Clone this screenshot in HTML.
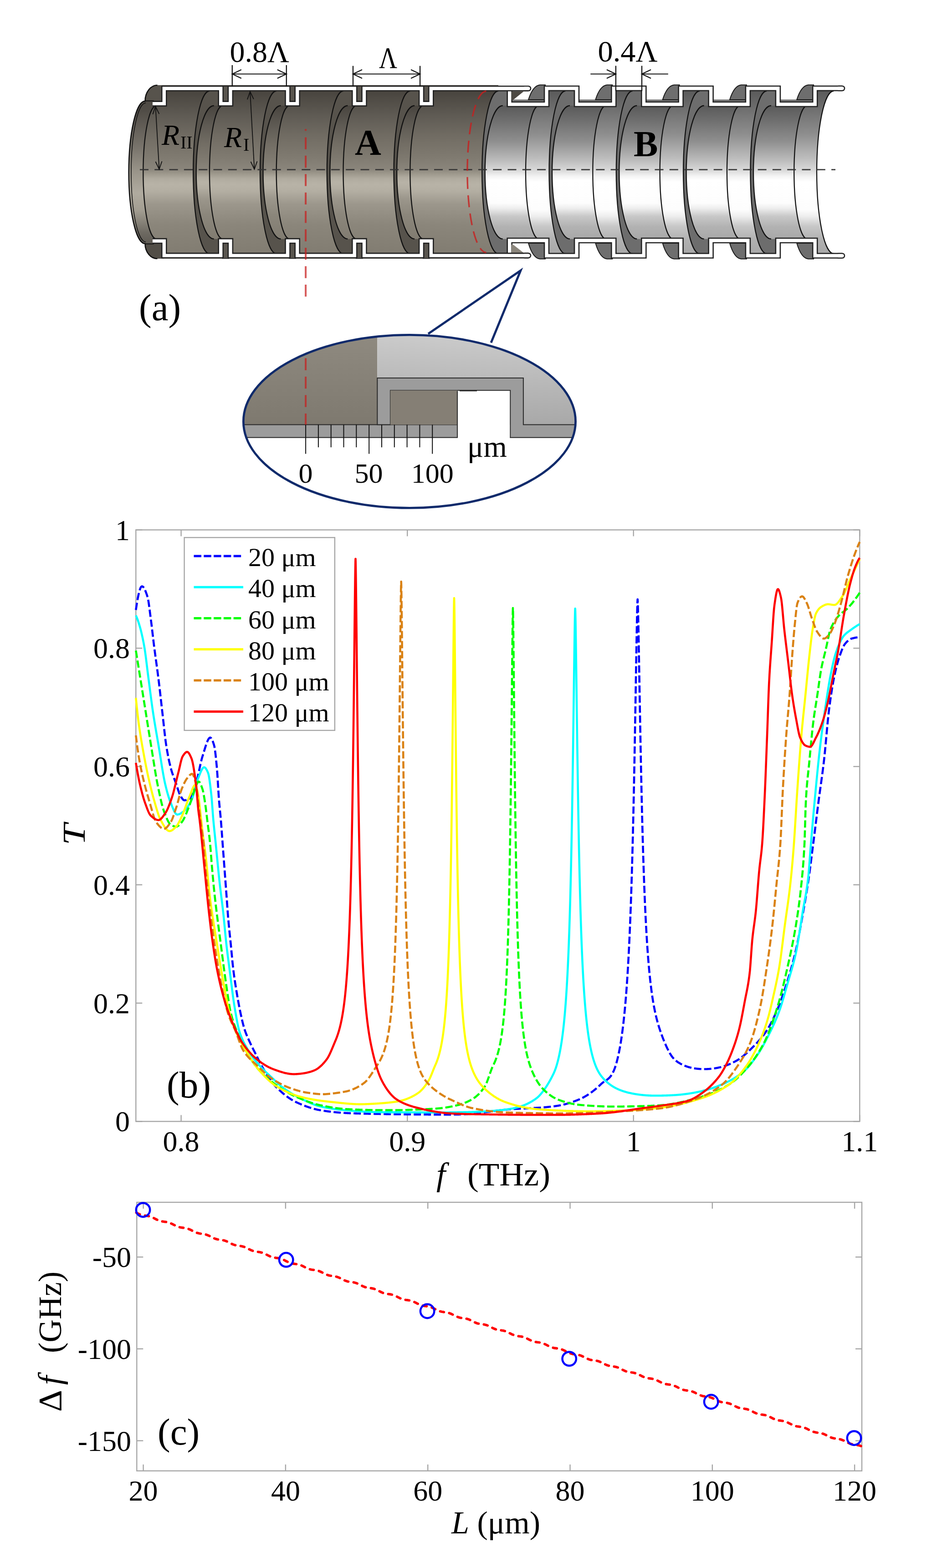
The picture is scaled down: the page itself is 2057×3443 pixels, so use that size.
<!DOCTYPE html>
<html><head><meta charset="utf-8"><style>html,body{margin:0;padding:0;background:#fff;overflow:hidden;}svg{display:block;}</style></head>
<body><svg width="2057" height="3443" viewBox="0 0 2057 3443" style="font-family:'Liberation Serif','Times New Roman',serif;">
<rect width="2057" height="3443" fill="#fff"/>
<defs><linearGradient id="gA" gradientUnits="userSpaceOnUse" x1="0" y1="199.75" x2="0" y2="556.95"><stop offset="0" stop-color="#48443e"/><stop offset="0.152" stop-color="#5f5b54"/><stop offset="0.278" stop-color="#716c63"/><stop offset="0.404" stop-color="#7f7a70"/><stop offset="0.48" stop-color="#8a857b"/><stop offset="0.505" stop-color="#9b968a"/><stop offset="0.538" stop-color="#b0ab9f"/><stop offset="0.575" stop-color="#b8b3a7"/><stop offset="0.617" stop-color="#b3aea2"/><stop offset="0.695" stop-color="#9c978c"/><stop offset="0.82" stop-color="#8b867b"/><stop offset="1" stop-color="#817c71"/></linearGradient>
<linearGradient id="gA2" gradientUnits="userSpaceOnUse" x1="0" y1="232" x2="0" y2="524.6"><stop offset="0" stop-color="#48443e"/><stop offset="0.152" stop-color="#5f5b54"/><stop offset="0.278" stop-color="#716c63"/><stop offset="0.404" stop-color="#7f7a70"/><stop offset="0.48" stop-color="#8a857b"/><stop offset="0.505" stop-color="#9b968a"/><stop offset="0.538" stop-color="#b0ab9f"/><stop offset="0.575" stop-color="#b8b3a7"/><stop offset="0.617" stop-color="#b3aea2"/><stop offset="0.695" stop-color="#9c978c"/><stop offset="0.82" stop-color="#8b867b"/><stop offset="1" stop-color="#817c71"/></linearGradient>
<linearGradient id="gB" gradientUnits="userSpaceOnUse" x1="0" y1="199.75" x2="0" y2="556.95"><stop offset="0" stop-color="#5a5a5a"/><stop offset="0.098" stop-color="#6c6c6c"/><stop offset="0.266" stop-color="#8e8e8e"/><stop offset="0.417" stop-color="#bebebe"/><stop offset="0.484" stop-color="#d8d8d8"/><stop offset="0.529" stop-color="#f4f4f4"/><stop offset="0.56" stop-color="#ffffff"/><stop offset="0.73" stop-color="#fdfdfd"/><stop offset="0.77" stop-color="#eeeeee"/><stop offset="0.83" stop-color="#c8c8c8"/><stop offset="0.908" stop-color="#b2b2b2"/><stop offset="1" stop-color="#a8a8a8"/></linearGradient>
<linearGradient id="gB2" gradientUnits="userSpaceOnUse" x1="0" y1="232" x2="0" y2="524.6"><stop offset="0" stop-color="#5a5a5a"/><stop offset="0.098" stop-color="#6c6c6c"/><stop offset="0.266" stop-color="#8e8e8e"/><stop offset="0.417" stop-color="#bebebe"/><stop offset="0.484" stop-color="#d8d8d8"/><stop offset="0.529" stop-color="#f4f4f4"/><stop offset="0.56" stop-color="#ffffff"/><stop offset="0.73" stop-color="#fdfdfd"/><stop offset="0.77" stop-color="#eeeeee"/><stop offset="0.83" stop-color="#c8c8c8"/><stop offset="0.908" stop-color="#b2b2b2"/><stop offset="1" stop-color="#a8a8a8"/></linearGradient>
<linearGradient id="gE" gradientUnits="userSpaceOnUse" x1="0" y1="187" x2="0" y2="568"><stop offset="0" stop-color="#4a4640"/><stop offset="0.15" stop-color="#514d47"/><stop offset="0.35" stop-color="#77726a"/><stop offset="0.5" stop-color="#9a958a"/><stop offset="0.62" stop-color="#b0ab9f"/><stop offset="0.72" stop-color="#a39e92"/><stop offset="0.85" stop-color="#6e6a62"/><stop offset="1" stop-color="#4a4640"/></linearGradient>
<clipPath id="bclip"><path d="M1000.00,194.00 L1118.70,194.00 L1118.70,229.00 L1200.00,229.00 L1200.00,194.00 L1266.00,194.00 L1266.00,229.00 L1347.30,229.00 L1347.30,194.00 L1413.30,194.00 L1413.30,229.00 L1494.60,229.00 L1494.60,194.00 L1560.60,194.00 L1560.60,229.00 L1641.90,229.00 L1641.90,194.00 L1707.90,194.00 L1707.90,229.00 L1789.20,229.00 L1789.20,194.00 L1860.00,194.00 L1860.00,561.50 L1789.20,561.50 L1789.20,528.00 L1707.90,528.00 L1707.90,561.50 L1641.90,561.50 L1641.90,528.00 L1560.60,528.00 L1560.60,561.50 L1494.60,561.50 L1494.60,528.00 L1413.30,528.00 L1413.30,561.50 L1347.30,561.50 L1347.30,528.00 L1266.00,528.00 L1266.00,561.50 L1200.00,561.50 L1200.00,528.00 L1118.70,528.00 L1118.70,561.50 L1000.00,561.50 Z"/></clipPath><clipPath id="ellc"><ellipse cx="898.95" cy="925.4" rx="364.6" ry="190"/></clipPath>
<linearGradient id="gIA" gradientUnits="userSpaceOnUse" x1="0" y1="735" x2="0" y2="933"><stop offset="0" stop-color="#8f8a80"/><stop offset="1" stop-color="#7e796f"/></linearGradient>
<linearGradient id="gIB" gradientUnits="userSpaceOnUse" x1="0" y1="735" x2="0" y2="933"><stop offset="0" stop-color="#cbcbcb"/><stop offset="1" stop-color="#a8a8a8"/></linearGradient></defs><path d="M345.5,187 L1094.00,187 L1094.00,199.75 A35.8,178.6 0 0 0 1094.00,556.95 L1094.00,568 L345.5,568 A27,33 0 0 1 318.5,535 A35.8,156.5 0 0 1 318.5,222 A27,35 0 0 1 345.5,187 Z" fill="url(#gA)"/>
<path d="M345.5,187 A27,35 0 0 0 318.5,222 A35.8,156.5 0 0 0 318.5,535 A27,33 0 0 0 345.5,568 L360.3,568 L360.3,524.60 L343.30,524.60 A29.0,146.3 0 0 1 343.30,232.00 L360.3,232.00 L360.3,187 Z" fill="url(#gE)"/>
<path d="M345.5,187 A27,35 0 0 0 318.5,222 L356,222 L356,187 Z" fill="#57534c"/>
<path d="M345.5,568 A27,33 0 0 1 318.5,535 L356,535 L356,568 Z" fill="#524e47"/>
<path d="M460.00,199.75 A35.8,178.6 0 0 0 460.00,556.95 L484.70,556.95 L484.70,524.60 L469.70,524.60 A39.0,146.3 0 0 1 469.70,232.00 L484.70,232.00 L484.70,199.75 Z" fill="#57534c"/>
<path d="M469.70,232.00 A39.0,146.3 0 0 0 469.70,524.60 L488.90,524.60 A29.0,146.3 0 0 1 488.90,232.00 Z" fill="url(#gA2)"/>
<path d="M606.80,199.75 A35.8,178.6 0 0 0 606.80,556.95 L631.50,556.95 L631.50,524.60 L616.50,524.60 A39.0,146.3 0 0 1 616.50,232.00 L631.50,232.00 L631.50,199.75 Z" fill="#57534c"/>
<path d="M616.50,232.00 A39.0,146.3 0 0 0 616.50,524.60 L635.70,524.60 A29.0,146.3 0 0 1 635.70,232.00 Z" fill="url(#gA2)"/>
<path d="M753.60,199.75 A35.8,178.6 0 0 0 753.60,556.95 L778.30,556.95 L778.30,524.60 L763.30,524.60 A39.0,146.3 0 0 1 763.30,232.00 L778.30,232.00 L778.30,199.75 Z" fill="#57534c"/>
<path d="M763.30,232.00 A39.0,146.3 0 0 0 763.30,524.60 L782.50,524.60 A29.0,146.3 0 0 1 782.50,232.00 Z" fill="url(#gA2)"/>
<path d="M900.40,199.75 A35.8,178.6 0 0 0 900.40,556.95 L925.10,556.95 L925.10,524.60 L910.10,524.60 A39.0,146.3 0 0 1 910.10,232.00 L925.10,232.00 L925.10,199.75 Z" fill="#57534c"/>
<path d="M910.10,232.00 A39.0,146.3 0 0 0 910.10,524.60 L929.30,524.60 A29.0,146.3 0 0 1 929.30,232.00 Z" fill="url(#gA2)"/>
<path d="M460.00,199.75 A35.80,178.60 0 0 0 460.00,556.95" fill="none" stroke="#111" stroke-width="2.3"/>
<path d="M469.70,232.00 A39.00,146.30 0 0 0 469.70,524.60" fill="none" stroke="#111" stroke-width="2.3"/>
<path d="M488.90,232.00 A29.00,146.30 0 0 0 488.90,524.60" fill="none" stroke="#111" stroke-width="2.3"/>
<path d="M606.80,199.75 A35.80,178.60 0 0 0 606.80,556.95" fill="none" stroke="#111" stroke-width="2.3"/>
<path d="M616.50,232.00 A39.00,146.30 0 0 0 616.50,524.60" fill="none" stroke="#111" stroke-width="2.3"/>
<path d="M635.70,232.00 A29.00,146.30 0 0 0 635.70,524.60" fill="none" stroke="#111" stroke-width="2.3"/>
<path d="M753.60,199.75 A35.80,178.60 0 0 0 753.60,556.95" fill="none" stroke="#111" stroke-width="2.3"/>
<path d="M763.30,232.00 A39.00,146.30 0 0 0 763.30,524.60" fill="none" stroke="#111" stroke-width="2.3"/>
<path d="M782.50,232.00 A29.00,146.30 0 0 0 782.50,524.60" fill="none" stroke="#111" stroke-width="2.3"/>
<path d="M900.40,199.75 A35.80,178.60 0 0 0 900.40,556.95" fill="none" stroke="#111" stroke-width="2.3"/>
<path d="M910.10,232.00 A39.00,146.30 0 0 0 910.10,524.60" fill="none" stroke="#111" stroke-width="2.3"/>
<path d="M929.30,232.00 A29.00,146.30 0 0 0 929.30,524.60" fill="none" stroke="#111" stroke-width="2.3"/>
<path d="M343.30,232.00 A29.00,146.30 0 0 0 343.30,524.60" fill="none" stroke="#111" stroke-width="2.3"/>
<path d="M345.5,187 A27,35 0 0 0 318.5,222 A35.8,156.5 0 0 0 318.5,535 A27,33 0 0 0 345.5,568" fill="none" stroke="#111" stroke-width="2.6"/>
<path d="M320,226 A32,152.5 0 0 0 320,531" fill="none" stroke="#111" stroke-width="1.6"/>
<path d="M318.5,221.5 L338,221.5 M318.5,535.5 L338,535.5" fill="none" stroke="#111" stroke-width="2"/>
<g clip-path="url(#bclip)">
<path d="M1094.00,199.75 A35.8,178.6 0 0 0 1094.00,556.95 L1830.20,556.95 A37.2,178.6 0 0 1 1830.20,199.75 Z" fill="url(#gB)"/>
<path d="M1094.00,199.75 A35.8,178.6 0 0 0 1094.00,556.95 L1118.70,556.95 L1118.70,524.60 L1103.70,524.60 A39.0,146.3 0 0 1 1103.70,232.00 L1118.70,232.00 L1118.70,199.75 Z" fill="#6d6d6d"/>
<path d="M1103.70,232.00 A39.0,146.3 0 0 0 1103.70,524.60 L1183.00,524.60 A29.0,146.3 0 0 1 1183.00,232.00 Z" fill="url(#gB2)"/>
<path d="M1241.30,199.75 A35.8,178.6 0 0 0 1241.30,556.95 L1266.00,556.95 L1266.00,524.60 L1251.00,524.60 A39.0,146.3 0 0 1 1251.00,232.00 L1266.00,232.00 L1266.00,199.75 Z" fill="#6d6d6d"/>
<path d="M1251.00,232.00 A39.0,146.3 0 0 0 1251.00,524.60 L1330.30,524.60 A29.0,146.3 0 0 1 1330.30,232.00 Z" fill="url(#gB2)"/>
<path d="M1388.60,199.75 A35.8,178.6 0 0 0 1388.60,556.95 L1413.30,556.95 L1413.30,524.60 L1398.30,524.60 A39.0,146.3 0 0 1 1398.30,232.00 L1413.30,232.00 L1413.30,199.75 Z" fill="#6d6d6d"/>
<path d="M1398.30,232.00 A39.0,146.3 0 0 0 1398.30,524.60 L1477.60,524.60 A29.0,146.3 0 0 1 1477.60,232.00 Z" fill="url(#gB2)"/>
<path d="M1535.90,199.75 A35.8,178.6 0 0 0 1535.90,556.95 L1560.60,556.95 L1560.60,524.60 L1545.60,524.60 A39.0,146.3 0 0 1 1545.60,232.00 L1560.60,232.00 L1560.60,199.75 Z" fill="#6d6d6d"/>
<path d="M1545.60,232.00 A39.0,146.3 0 0 0 1545.60,524.60 L1624.90,524.60 A29.0,146.3 0 0 1 1624.90,232.00 Z" fill="url(#gB2)"/>
<path d="M1683.20,199.75 A35.8,178.6 0 0 0 1683.20,556.95 L1707.90,556.95 L1707.90,524.60 L1692.90,524.60 A39.0,146.3 0 0 1 1692.90,232.00 L1707.90,232.00 L1707.90,199.75 Z" fill="#6d6d6d"/>
<path d="M1692.90,232.00 A39.0,146.3 0 0 0 1692.90,524.60 L1772.20,524.60 A29.0,146.3 0 0 1 1772.20,232.00 Z" fill="url(#gB2)"/>
<path d="M1094.00,199.75 A35.80,178.60 0 0 0 1094.00,556.95" fill="none" stroke="#111" stroke-width="2.3"/>
<path d="M1103.70,232.00 A39.00,146.30 0 0 0 1103.70,524.60" fill="none" stroke="#111" stroke-width="2.3"/>
<path d="M1183.00,232.00 A29.00,146.30 0 0 0 1183.00,524.60" fill="none" stroke="#111" stroke-width="2.3"/>
<path d="M1241.30,199.75 A35.80,178.60 0 0 0 1241.30,556.95" fill="none" stroke="#111" stroke-width="2.3"/>
<path d="M1251.00,232.00 A39.00,146.30 0 0 0 1251.00,524.60" fill="none" stroke="#111" stroke-width="2.3"/>
<path d="M1330.30,232.00 A29.00,146.30 0 0 0 1330.30,524.60" fill="none" stroke="#111" stroke-width="2.3"/>
<path d="M1388.60,199.75 A35.80,178.60 0 0 0 1388.60,556.95" fill="none" stroke="#111" stroke-width="2.3"/>
<path d="M1398.30,232.00 A39.00,146.30 0 0 0 1398.30,524.60" fill="none" stroke="#111" stroke-width="2.3"/>
<path d="M1477.60,232.00 A29.00,146.30 0 0 0 1477.60,524.60" fill="none" stroke="#111" stroke-width="2.3"/>
<path d="M1535.90,199.75 A35.80,178.60 0 0 0 1535.90,556.95" fill="none" stroke="#111" stroke-width="2.3"/>
<path d="M1545.60,232.00 A39.00,146.30 0 0 0 1545.60,524.60" fill="none" stroke="#111" stroke-width="2.3"/>
<path d="M1624.90,232.00 A29.00,146.30 0 0 0 1624.90,524.60" fill="none" stroke="#111" stroke-width="2.3"/>
<path d="M1683.20,199.75 A35.80,178.60 0 0 0 1683.20,556.95" fill="none" stroke="#111" stroke-width="2.3"/>
<path d="M1692.90,232.00 A39.00,146.30 0 0 0 1692.90,524.60" fill="none" stroke="#111" stroke-width="2.3"/>
<path d="M1772.20,232.00 A29.00,146.30 0 0 0 1772.20,524.60" fill="none" stroke="#111" stroke-width="2.3"/>
<path d="M1830.2,199.75 A37.2,178.6 0 0 0 1830.2,556.95" fill="none" stroke="#111" stroke-width="2.3"/>
</g>
<rect x="488.30" y="189" width="14.00" height="33.5" fill="#5a564f" stroke="#1a1a1a" stroke-width="1.6"/>
<rect x="488.30" y="534" width="14.00" height="33.5" fill="#5a564f" stroke="#1a1a1a" stroke-width="1.6"/>
<rect x="635.10" y="189" width="14.00" height="33.5" fill="#5a564f" stroke="#1a1a1a" stroke-width="1.6"/>
<rect x="635.10" y="534" width="14.00" height="33.5" fill="#5a564f" stroke="#1a1a1a" stroke-width="1.6"/>
<rect x="781.90" y="189" width="14.00" height="33.5" fill="#5a564f" stroke="#1a1a1a" stroke-width="1.6"/>
<rect x="781.90" y="534" width="14.00" height="33.5" fill="#5a564f" stroke="#1a1a1a" stroke-width="1.6"/>
<rect x="928.70" y="189" width="14.00" height="33.5" fill="#5a564f" stroke="#1a1a1a" stroke-width="1.6"/>
<rect x="928.70" y="534" width="14.00" height="33.5" fill="#5a564f" stroke="#1a1a1a" stroke-width="1.6"/>
<rect x="1118.70" y="218.5" width="81.30" height="6" fill="#767676"/>
<rect x="1266.00" y="218.5" width="81.30" height="6" fill="#767676"/>
<rect x="1413.30" y="218.5" width="81.30" height="6" fill="#767676"/>
<rect x="1560.60" y="218.5" width="81.30" height="6" fill="#767676"/>
<rect x="1707.90" y="218.5" width="81.30" height="6" fill="#767676"/>
<path d="M1197.00,219 L1160.00,219 C1165.00,203 1173.00,188 1185.00,186.5 L1197.00,186.5 Z" fill="#6e6e6e" stroke="#1a1a1a" stroke-width="2"/>
<path d="M1197.00,534 L1160.00,534 C1165.00,551 1173.00,567 1185.00,568.5 L1197.00,568.5 Z" fill="#6e6e6e" stroke="#1a1a1a" stroke-width="2"/>
<path d="M1344.30,219 L1307.30,219 C1312.30,203 1320.30,188 1332.30,186.5 L1344.30,186.5 Z" fill="#6e6e6e" stroke="#1a1a1a" stroke-width="2"/>
<path d="M1344.30,534 L1307.30,534 C1312.30,551 1320.30,567 1332.30,568.5 L1344.30,568.5 Z" fill="#6e6e6e" stroke="#1a1a1a" stroke-width="2"/>
<path d="M1491.60,219 L1454.60,219 C1459.60,203 1467.60,188 1479.60,186.5 L1491.60,186.5 Z" fill="#6e6e6e" stroke="#1a1a1a" stroke-width="2"/>
<path d="M1491.60,534 L1454.60,534 C1459.60,551 1467.60,567 1479.60,568.5 L1491.60,568.5 Z" fill="#6e6e6e" stroke="#1a1a1a" stroke-width="2"/>
<path d="M1638.90,219 L1601.90,219 C1606.90,203 1614.90,188 1626.90,186.5 L1638.90,186.5 Z" fill="#6e6e6e" stroke="#1a1a1a" stroke-width="2"/>
<path d="M1638.90,534 L1601.90,534 C1606.90,551 1614.90,567 1626.90,568.5 L1638.90,568.5 Z" fill="#6e6e6e" stroke="#1a1a1a" stroke-width="2"/>
<path d="M1786.20,219 L1749.20,219 C1754.20,203 1762.20,188 1774.20,186.5 L1786.20,186.5 Z" fill="#6e6e6e" stroke="#1a1a1a" stroke-width="2"/>
<path d="M1786.20,534 L1749.20,534 C1754.20,551 1762.20,567 1774.20,568.5 L1786.20,568.5 Z" fill="#6e6e6e" stroke="#1a1a1a" stroke-width="2"/>
<path d="M1118.70,194.00 L1118.70,229.00 L1200.00,229.00 L1200.00,194.00 L1266.00,194.00 L1266.00,229.00 L1347.30,229.00 L1347.30,194.00 L1413.30,194.00 L1413.30,229.00 L1494.60,229.00 L1494.60,194.00 L1560.60,194.00 L1560.60,229.00 L1641.90,229.00 L1641.90,194.00 L1707.90,194.00 L1707.90,229.00 L1789.20,229.00 L1789.20,194.00 L1849.00,194.00" fill="none" stroke="#222" stroke-width="12.6" stroke-linejoin="miter" stroke-linecap="butt"/>
<path d=" M1841.00,194.00 L1849.00,194.00" fill="none" stroke="#222" stroke-width="12.6" stroke-linecap="round"/>
<path d="M1118.70,194.00 L1118.70,229.00 L1200.00,229.00 L1200.00,194.00 L1266.00,194.00 L1266.00,229.00 L1347.30,229.00 L1347.30,194.00 L1413.30,194.00 L1413.30,229.00 L1494.60,229.00 L1494.60,194.00 L1560.60,194.00 L1560.60,229.00 L1641.90,229.00 L1641.90,194.00 L1707.90,194.00 L1707.90,229.00 L1789.20,229.00 L1789.20,194.00 L1849.00,194.00" fill="none" stroke="#fff" stroke-width="7.4" stroke-linejoin="miter" stroke-linecap="butt"/>
<path d=" M1841.00,194.00 L1849.00,194.00" fill="none" stroke="#fff" stroke-width="7.4" stroke-linecap="round"/>
<path d="M1118.70,561.50 L1118.70,528.00 L1200.00,528.00 L1200.00,561.50 L1266.00,561.50 L1266.00,528.00 L1347.30,528.00 L1347.30,561.50 L1413.30,561.50 L1413.30,528.00 L1494.60,528.00 L1494.60,561.50 L1560.60,561.50 L1560.60,528.00 L1641.90,528.00 L1641.90,561.50 L1707.90,561.50 L1707.90,528.00 L1789.20,528.00 L1789.20,561.50 L1849.00,561.50" fill="none" stroke="#222" stroke-width="12.6" stroke-linejoin="miter" stroke-linecap="butt"/>
<path d=" M1841.00,561.50 L1849.00,561.50" fill="none" stroke="#222" stroke-width="12.6" stroke-linecap="round"/>
<path d="M1118.70,561.50 L1118.70,528.00 L1200.00,528.00 L1200.00,561.50 L1266.00,561.50 L1266.00,528.00 L1347.30,528.00 L1347.30,561.50 L1413.30,561.50 L1413.30,528.00 L1494.60,528.00 L1494.60,561.50 L1560.60,561.50 L1560.60,528.00 L1641.90,528.00 L1641.90,561.50 L1707.90,561.50 L1707.90,528.00 L1789.20,528.00 L1789.20,561.50 L1849.00,561.50" fill="none" stroke="#fff" stroke-width="7.4" stroke-linejoin="miter" stroke-linecap="butt"/>
<path d=" M1841.00,561.50 L1849.00,561.50" fill="none" stroke="#fff" stroke-width="7.4" stroke-linecap="round"/>
<path d="M1123,200.5 L1150,200.5 L1127,219 L1123,219 Z" fill="#4d4943"/>
<path d="M1123,555.5 L1150,555.5 L1127,537.5 L1123,537.5 Z" fill="#8a857b"/>
<path d="M335.00,227.60 L360.30,227.60 L360.30,194.30 L484.70,194.30 L484.70,227.60 L505.90,227.60 L505.90,194.30 L631.50,194.30 L631.50,227.60 L652.70,227.60 L652.70,194.30 L778.30,194.30 L778.30,227.60 L799.50,227.60 L799.50,194.30 L925.10,194.30 L925.10,227.60 L946.30,227.60 L946.30,194.30 L1160.00,194.30" fill="none" stroke="#222" stroke-width="12.6" stroke-linejoin="miter" stroke-linecap="butt"/>
<path d=" M1152.00,194.30 L1160.00,194.30" fill="none" stroke="#222" stroke-width="12.6" stroke-linecap="round"/>
<path d="M335.00,227.60 L360.30,227.60 L360.30,194.30 L484.70,194.30 L484.70,227.60 L505.90,227.60 L505.90,194.30 L631.50,194.30 L631.50,227.60 L652.70,227.60 L652.70,194.30 L778.30,194.30 L778.30,227.60 L799.50,227.60 L799.50,194.30 L925.10,194.30 L925.10,227.60 L946.30,227.60 L946.30,194.30 L1160.00,194.30" fill="none" stroke="#fff" stroke-width="7.4" stroke-linejoin="miter" stroke-linecap="butt"/>
<path d=" M1152.00,194.30 L1160.00,194.30" fill="none" stroke="#fff" stroke-width="7.4" stroke-linecap="round"/>
<path d="M335.00,529.10 L360.30,529.10 L360.30,561.10 L484.70,561.10 L484.70,529.10 L505.90,529.10 L505.90,561.10 L631.50,561.10 L631.50,529.10 L652.70,529.10 L652.70,561.10 L778.30,561.10 L778.30,529.10 L799.50,529.10 L799.50,561.10 L925.10,561.10 L925.10,529.10 L946.30,529.10 L946.30,561.10 L1160.00,561.10" fill="none" stroke="#222" stroke-width="12.6" stroke-linejoin="miter" stroke-linecap="butt"/>
<path d=" M1152.00,561.10 L1160.00,561.10" fill="none" stroke="#222" stroke-width="12.6" stroke-linecap="round"/>
<path d="M335.00,529.10 L360.30,529.10 L360.30,561.10 L484.70,561.10 L484.70,529.10 L505.90,529.10 L505.90,561.10 L631.50,561.10 L631.50,529.10 L652.70,529.10 L652.70,561.10 L778.30,561.10 L778.30,529.10 L799.50,529.10 L799.50,561.10 L925.10,561.10 L925.10,529.10 L946.30,529.10 L946.30,561.10 L1160.00,561.10" fill="none" stroke="#fff" stroke-width="7.4" stroke-linejoin="miter" stroke-linecap="butt"/>
<path d=" M1152.00,561.10 L1160.00,561.10" fill="none" stroke="#fff" stroke-width="7.4" stroke-linecap="round"/>
<line x1="307" y1="372.6" x2="1834" y2="372.6" stroke="#333" stroke-opacity="0.85" stroke-width="3" stroke-dasharray="19 13.3"/>
<line x1="671.1" y1="283.2" x2="671.1" y2="651.2" stroke="#c81e1e" stroke-opacity="0.72" stroke-width="4" stroke-dasharray="26.3 14.14" stroke-dashoffset="22.24"/>
<path d="M1067.4,200.4 A41.5,177 0 0 0 1067.4,554.4" fill="none" stroke="#c81e1e" stroke-opacity="0.8" stroke-width="3.4" stroke-dasharray="26 14"/>
<line x1="509.8" y1="143" x2="509.8" y2="190" stroke="#111" stroke-width="2.3"/>
<line x1="628.8" y1="143" x2="628.8" y2="190" stroke="#111" stroke-width="2.3"/>
<line x1="509.8" y1="162.5" x2="628.8" y2="162.5" stroke="#111" stroke-width="2.2"/>
<path d="M529.8,152.9 L509.8,162.5 L529.8,172.1" fill="none" stroke="#111" stroke-width="2.2"/>
<path d="M608.8,152.9 L628.8,162.5 L608.8,172.1" fill="none" stroke="#111" stroke-width="2.2"/>
<line x1="775" y1="144.7" x2="775" y2="190" stroke="#111" stroke-width="2.3"/>
<line x1="922.1" y1="144.7" x2="922.1" y2="190" stroke="#111" stroke-width="2.3"/>
<line x1="775" y1="162.5" x2="922.1" y2="162.5" stroke="#111" stroke-width="2.2"/>
<path d="M795.0,152.9 L775.0,162.5 L795.0,172.1" fill="none" stroke="#111" stroke-width="2.2"/>
<path d="M902.1,152.9 L922.1,162.5 L902.1,172.1" fill="none" stroke="#111" stroke-width="2.2"/>
<line x1="1351.9" y1="144.5" x2="1351.9" y2="200" stroke="#111" stroke-width="2.3"/>
<line x1="1409" y1="144.5" x2="1409" y2="200" stroke="#111" stroke-width="2.3"/>
<line x1="1296.3" y1="162.5" x2="1351.9" y2="162.5" stroke="#111" stroke-width="2.2"/>
<line x1="1409" y1="162.5" x2="1466.8" y2="162.5" stroke="#111" stroke-width="2.2"/>
<path d="M1331.9,152.9 L1351.9,162.5 L1331.9,172.1" fill="none" stroke="#111" stroke-width="2.2"/>
<path d="M1429.0,152.9 L1409.0,162.5 L1429.0,172.1" fill="none" stroke="#111" stroke-width="2.2"/>
<line x1="341.4" y1="233.5" x2="349.5" y2="371.6" stroke="#111" stroke-width="1.8"/><path d="M335.4,250.9 L341.4,233.5 L349.4,250.1" fill="none" stroke="#111" stroke-width="1.8"/><path d="M341.5,355.0 L349.5,371.6 L355.5,354.2" fill="none" stroke="#111" stroke-width="1.8"/>
<line x1="549" y1="201" x2="558.4" y2="371.6" stroke="#111" stroke-width="1.8"/><path d="M542.9,218.4 L549,201 L556.9,217.6" fill="none" stroke="#111" stroke-width="1.8"/><path d="M550.5,355.0 L558.4,371.6 L564.5,354.2" fill="none" stroke="#111" stroke-width="1.8"/>
<text x="504.5" y="136" font-size="66">0.8Λ</text>
<text x="832" y="149" font-size="66" textLength="40" lengthAdjust="spacingAndGlyphs">Λ</text>
<text x="1312.5" y="135" font-size="66" textLength="131" lengthAdjust="spacingAndGlyphs">0.4Λ</text>
<text x="355" y="317.5" font-size="64" font-style="italic">R</text><text x="396" y="325.5" font-size="40">II</text>
<text x="492" y="323" font-size="64" font-style="italic">R</text><text x="534" y="331" font-size="40">I</text>
<text x="779" y="340" font-size="80" font-weight="bold">A</text>
<text x="1391" y="343" font-size="80" font-weight="bold">B</text>
<text x="305" y="703" font-size="83">(a)</text><g clip-path="url(#ellc)">
<rect x="520" y="720" width="760" height="420" fill="#fff"/>
<rect x="520" y="720" width="308.3" height="212.5" fill="url(#gIA)"/>
<rect x="828.3" y="720" width="450" height="212.5" fill="url(#gIB)"/>
<rect x="520" y="932.5" width="484" height="28.2" fill="#9c9c9c" stroke="#2a2a2a" stroke-width="2"/>
<path d="M828.3,932.5 L828.3,830.1 L1148.9,830.1 L1148.9,932.5 L1290,932.5 L1290,960.7 L1120.2,960.7 L1120.2,857.3 L857,857.3 L857,932.5 Z" fill="#9c9c9c" stroke="#2a2a2a" stroke-width="2"/>
<rect x="857" y="857.3" width="147" height="75.2" fill="#857f75"/>
<rect x="1004" y="858.3" width="115.2" height="101.4" fill="#fff"/>
<line x1="1004" y1="858.5" x2="1004" y2="961" stroke="#2a2a2a" stroke-width="2"/>
<line x1="1009" y1="857.8" x2="1047" y2="857.8" stroke="#2a2a2a" stroke-width="3"/>
<line x1="671.1" y1="786.6" x2="671.1" y2="932.5" stroke="#c81e1e" stroke-opacity="0.72" stroke-width="4" stroke-dasharray="26.3 14.14"/>
</g>
<ellipse cx="898.95" cy="925.4" rx="364.6" ry="190" fill="none" stroke="#0f2a6b" stroke-width="4.8"/>
<path d="M940,733 L1143,594 L1078,752.5" fill="none" stroke="#0f2a6b" stroke-width="4.8" stroke-linejoin="miter"/>
<line x1="671.1" y1="932.5" x2="671.1" y2="996.5" stroke="#111" stroke-width="2"/>
<line x1="698.9" y1="932.5" x2="698.9" y2="982.2" stroke="#111" stroke-width="2"/>
<line x1="726.7" y1="932.5" x2="726.7" y2="982.2" stroke="#111" stroke-width="2"/>
<line x1="754.5" y1="932.5" x2="754.5" y2="982.2" stroke="#111" stroke-width="2"/>
<line x1="782.3" y1="932.5" x2="782.3" y2="982.2" stroke="#111" stroke-width="2"/>
<line x1="810.2" y1="932.5" x2="810.2" y2="996.5" stroke="#111" stroke-width="2"/>
<line x1="838.0" y1="932.5" x2="838.0" y2="982.2" stroke="#111" stroke-width="2"/>
<line x1="865.8" y1="932.5" x2="865.8" y2="982.2" stroke="#111" stroke-width="2"/>
<line x1="893.6" y1="932.5" x2="893.6" y2="982.2" stroke="#111" stroke-width="2"/>
<line x1="921.4" y1="932.5" x2="921.4" y2="982.2" stroke="#111" stroke-width="2"/>
<line x1="949.2" y1="932.5" x2="949.2" y2="996.5" stroke="#111" stroke-width="2"/>
<text x="671.1" y="1060" font-size="62" text-anchor="middle">0</text>
<text x="809.4" y="1060" font-size="62" text-anchor="middle">50</text>
<text x="949.2" y="1060" font-size="62" text-anchor="middle">100</text>
<text x="1026" y="1003" font-size="66">μm</text>
<rect x="298.3" y="1163.5" width="1589.0" height="1298.9" fill="none" stroke="#a6a6a6" stroke-width="2.4"/>
<line x1="397.6" y1="2462.4" x2="397.6" y2="2448.4" stroke="#a6a6a6" stroke-width="2.4"/>
<line x1="397.6" y1="1163.5" x2="397.6" y2="1177.5" stroke="#a6a6a6" stroke-width="2.4"/>
<line x1="894.2" y1="2462.4" x2="894.2" y2="2448.4" stroke="#a6a6a6" stroke-width="2.4"/>
<line x1="894.2" y1="1163.5" x2="894.2" y2="1177.5" stroke="#a6a6a6" stroke-width="2.4"/>
<line x1="1390.7" y1="2462.4" x2="1390.7" y2="2448.4" stroke="#a6a6a6" stroke-width="2.4"/>
<line x1="1390.7" y1="1163.5" x2="1390.7" y2="1177.5" stroke="#a6a6a6" stroke-width="2.4"/>
<line x1="1887.3" y1="2462.4" x2="1887.3" y2="2448.4" stroke="#a6a6a6" stroke-width="2.4"/>
<line x1="1887.3" y1="1163.5" x2="1887.3" y2="1177.5" stroke="#a6a6a6" stroke-width="2.4"/>
<line x1="298.3" y1="2462.4" x2="312.3" y2="2462.4" stroke="#a6a6a6" stroke-width="2.4"/>
<line x1="1887.3" y1="2462.4" x2="1873.3" y2="2462.4" stroke="#a6a6a6" stroke-width="2.4"/>
<line x1="298.3" y1="2202.6" x2="312.3" y2="2202.6" stroke="#a6a6a6" stroke-width="2.4"/>
<line x1="1887.3" y1="2202.6" x2="1873.3" y2="2202.6" stroke="#a6a6a6" stroke-width="2.4"/>
<line x1="298.3" y1="1942.8" x2="312.3" y2="1942.8" stroke="#a6a6a6" stroke-width="2.4"/>
<line x1="1887.3" y1="1942.8" x2="1873.3" y2="1942.8" stroke="#a6a6a6" stroke-width="2.4"/>
<line x1="298.3" y1="1683.1" x2="312.3" y2="1683.1" stroke="#a6a6a6" stroke-width="2.4"/>
<line x1="1887.3" y1="1683.1" x2="1873.3" y2="1683.1" stroke="#a6a6a6" stroke-width="2.4"/>
<line x1="298.3" y1="1423.3" x2="312.3" y2="1423.3" stroke="#a6a6a6" stroke-width="2.4"/>
<line x1="1887.3" y1="1423.3" x2="1873.3" y2="1423.3" stroke="#a6a6a6" stroke-width="2.4"/>
<line x1="298.3" y1="1163.5" x2="312.3" y2="1163.5" stroke="#a6a6a6" stroke-width="2.4"/>
<line x1="1887.3" y1="1163.5" x2="1873.3" y2="1163.5" stroke="#a6a6a6" stroke-width="2.4"/>
<path d="M298.30,1339.40 L299.30,1332.65 L300.30,1326.26 L301.30,1320.25 L302.30,1314.65 L303.30,1309.49 L304.30,1304.80 L305.30,1300.61 L306.30,1296.94 L307.30,1293.83 L308.30,1291.29 L309.30,1289.37 L310.30,1288.08 L311.30,1287.46 L312.30,1287.48 L313.30,1287.93 L314.30,1288.76 L315.30,1289.95 L316.30,1291.47 L317.30,1293.29 L318.30,1295.37 L319.30,1297.70 L320.30,1300.24 L321.30,1302.97 L322.30,1305.85 L323.30,1308.86 L324.30,1312.17 L325.30,1316.91 L326.30,1322.94 L327.30,1329.95 L328.30,1337.58 L329.30,1345.50 L330.30,1353.39 L331.30,1360.95 L332.30,1368.76 L333.30,1376.97 L334.30,1385.43 L335.30,1394.01 L336.30,1402.55 L337.30,1410.93 L338.30,1419.00 L339.30,1426.74 L340.30,1434.26 L341.30,1441.63 L342.30,1448.90 L343.30,1456.14 L344.30,1463.41 L345.30,1470.76 L346.30,1478.25 L347.30,1485.95 L348.30,1493.92 L349.30,1502.17 L350.30,1510.64 L351.30,1519.28 L352.30,1528.05 L353.30,1536.87 L354.30,1545.70 L355.30,1554.47 L356.30,1563.14 L357.30,1571.90 L358.30,1580.98 L359.30,1590.21 L360.30,1599.42 L361.30,1608.43 L362.30,1617.07 L363.30,1625.15 L364.30,1632.51 L365.30,1639.02 L366.30,1645.12 L367.30,1650.93 L368.30,1656.46 L369.30,1661.71 L370.30,1666.70 L371.30,1671.41 L372.30,1675.87 L373.30,1680.08 L374.30,1684.04 L375.30,1687.76 L376.30,1691.26 L377.30,1694.56 L378.30,1697.71 L379.30,1700.71 L380.30,1703.60 L381.30,1706.41 L382.30,1709.16 L383.30,1711.88 L384.30,1714.60 L385.30,1717.35 L386.30,1720.15 L387.30,1723.04 L388.30,1726.08 L389.30,1729.19 L390.30,1732.31 L391.30,1735.38 L392.30,1738.32 L393.30,1741.08 L394.30,1743.60 L395.30,1745.79 L396.30,1747.60 L397.30,1749.22 L398.30,1750.83 L399.30,1752.38 L400.30,1753.81 L401.30,1755.07 L402.30,1756.08 L403.30,1756.80 L404.30,1757.17 L405.30,1757.19 L406.30,1757.11 L407.30,1756.98 L408.30,1756.79 L409.30,1756.54 L410.30,1756.23 L411.30,1755.88 L412.30,1755.48 L413.30,1755.03 L414.30,1754.54 L415.30,1754.01 L416.30,1753.44 L417.30,1752.84 L418.30,1752.18 L419.30,1751.12 L420.30,1749.59 L421.30,1747.63 L422.30,1745.31 L423.30,1742.68 L424.30,1739.79 L425.30,1736.72 L426.30,1733.50 L427.30,1730.20 L428.30,1726.87 L429.30,1723.58 L430.30,1720.36 L431.30,1716.90 L432.30,1713.10 L433.30,1709.00 L434.30,1704.67 L435.30,1700.17 L436.30,1695.55 L437.30,1690.87 L438.30,1686.20 L439.30,1681.59 L440.30,1677.10 L441.30,1672.80 L442.30,1668.73 L443.30,1664.96 L444.30,1661.55 L445.30,1658.41 L446.30,1655.19 L447.30,1651.91 L448.30,1648.60 L449.30,1645.29 L450.30,1642.03 L451.30,1638.85 L452.30,1635.78 L453.30,1632.87 L454.30,1630.16 L455.30,1627.67 L456.30,1625.44 L457.30,1623.52 L458.30,1621.94 L459.30,1620.74 L460.30,1619.95 L461.30,1619.61 L462.30,1619.79 L463.30,1620.56 L464.30,1621.85 L465.30,1623.61 L466.30,1625.78 L467.30,1628.31 L468.30,1631.15 L469.30,1634.23 L470.30,1637.59 L471.30,1642.61 L472.30,1649.47 L473.30,1657.80 L474.30,1667.24 L475.30,1677.42 L476.30,1688.19 L477.30,1702.00 L478.30,1718.21 L479.30,1735.00 L480.30,1750.50 L481.30,1763.16 L482.30,1773.86 L483.30,1783.88 L484.30,1794.29 L485.30,1806.11 L486.30,1819.16 L487.30,1832.86 L488.30,1846.67 L489.30,1860.14 L490.30,1873.48 L491.30,1886.82 L492.30,1900.16 L493.30,1913.51 L494.30,1926.87 L495.30,1940.24 L496.30,1953.61 L497.30,1966.99 L498.30,1980.78 L499.30,1994.67 L500.30,2008.01 L501.30,2020.14 L502.30,2031.02 L503.30,2041.11 L504.30,2050.72 L505.30,2060.19 L506.30,2069.83 L507.30,2079.95 L508.30,2090.60 L509.30,2101.35 L510.30,2111.80 L511.30,2121.53 L512.30,2130.12 L513.30,2137.94 L514.30,2145.29 L515.30,2152.25 L516.30,2158.88 L517.30,2165.23 L518.30,2171.38 L519.30,2177.38 L520.30,2183.30 L521.30,2189.13 L522.30,2194.83 L523.30,2200.39 L524.30,2205.79 L525.30,2211.04 L526.30,2216.11 L527.30,2221.01 L528.30,2225.72 L529.30,2230.28 L530.30,2234.77 L531.30,2239.16 L532.30,2243.42 L533.30,2247.51 L534.30,2251.40 L535.30,2255.05 L536.30,2258.43 L537.30,2261.51 L538.30,2264.42 L539.30,2267.19 L540.30,2269.82 L541.30,2272.35 L542.30,2274.77 L543.30,2277.12 L544.30,2279.39 L545.30,2281.60 L546.30,2283.78 L547.30,2285.93 L548.30,2288.07 L549.30,2290.21 L550.30,2292.37 L551.30,2294.52 L552.30,2296.63 L553.30,2298.69 L554.30,2300.71 L555.30,2302.71 L556.30,2304.68 L557.30,2306.64 L558.30,2308.59 L559.30,2310.55 L560.30,2312.51 L561.30,2314.50 L562.30,2316.51 L563.30,2318.54 L564.30,2320.58 L565.30,2322.63 L566.30,2324.67 L567.30,2326.70 L568.30,2328.72 L569.30,2330.70 L570.30,2332.65 L571.30,2334.56 L572.30,2336.42 L573.30,2338.24 L574.30,2340.04 L575.30,2341.83 L576.30,2343.60 L577.30,2345.35 L578.30,2347.09 L579.30,2348.81 L580.30,2350.50 L581.30,2352.17 L582.30,2353.82 L583.30,2355.45 L584.30,2357.05 L585.30,2358.62 L586.30,2360.16 L587.30,2361.68 L588.30,2363.17 L589.30,2364.63 L590.30,2366.08 L591.30,2367.52 L592.30,2368.96 L593.30,2370.39 L594.30,2371.80 L595.30,2373.19 L596.30,2374.57 L597.30,2375.93 L598.30,2377.27 L599.30,2378.58 L600.30,2379.86 L601.30,2381.11 L602.30,2382.34 L603.30,2383.53 L604.30,2384.68 L605.30,2385.80 L606.30,2386.87 L607.30,2387.90 L608.30,2388.89 L609.30,2389.86 L610.30,2390.83 L611.30,2391.78 L612.30,2392.72 L613.30,2393.66 L614.30,2394.58 L615.30,2395.50 L616.30,2396.40 L617.30,2397.30 L618.30,2398.19 L619.30,2399.06 L620.30,2399.92 L621.30,2400.78 L622.30,2401.62 L623.30,2402.45 L624.30,2403.27 L625.30,2404.08 L626.30,2404.88 L627.30,2405.67 L628.30,2406.44 L629.30,2407.20 L630.30,2407.95 L631.30,2408.69 L632.30,2409.41 L633.30,2410.13 L634.30,2410.83 L635.30,2411.51 L636.30,2412.19 L637.30,2412.85 L638.30,2413.49 L639.30,2414.13 L640.30,2414.74 L641.30,2415.35 L642.30,2415.94 L643.30,2416.52 L644.30,2417.08 L645.30,2417.63 L646.30,2418.16 L647.30,2418.68 L648.30,2419.18 L649.30,2419.67 L650.30,2420.14 L651.30,2420.61 L652.30,2421.07 L653.30,2421.53 L654.30,2421.98 L655.30,2422.43 L656.30,2422.87 L657.30,2423.31 L658.30,2423.75 L659.30,2424.18 L660.30,2424.61 L661.30,2425.03 L662.30,2425.45 L663.30,2425.86 L664.30,2426.27 L665.30,2426.68 L666.30,2427.07 L667.30,2427.47 L668.30,2427.86 L669.30,2428.24 L670.30,2428.62 L671.30,2428.99 L672.30,2429.36 L673.30,2429.72 L674.30,2430.08 L675.30,2430.43 L676.30,2430.78 L677.30,2431.12 L678.30,2431.46 L679.30,2431.79 L680.30,2432.11 L681.30,2432.43 L682.30,2432.74 L683.30,2433.05 L684.30,2433.35 L685.30,2433.64 L686.30,2433.93 L687.30,2434.21 L688.30,2434.48 L689.30,2434.75 L690.30,2435.02 L691.30,2435.27 L692.30,2435.52 L693.30,2435.76 L694.30,2436.00 L695.30,2436.23 L696.30,2436.45 L697.30,2436.67 L698.30,2436.88 L699.30,2437.08 L700.30,2437.27 L701.30,2437.46 L702.30,2437.64 L703.30,2437.82 L704.30,2437.98 L705.30,2438.15 L706.30,2438.31 L707.30,2438.47 L708.30,2438.63 L709.30,2438.78 L710.30,2438.94 L711.30,2439.09 L712.30,2439.24 L713.30,2439.39 L714.30,2439.53 L715.30,2439.68 L716.30,2439.82 L717.30,2439.96 L718.30,2440.10 L719.30,2440.23 L720.30,2440.37 L721.30,2440.50 L722.30,2440.63 L723.30,2440.76 L724.30,2440.88 L725.30,2441.01 L726.30,2441.13 L727.30,2441.25 L728.30,2441.37 L729.30,2441.48 L730.30,2441.59 L731.30,2441.71 L732.30,2441.81 L733.30,2441.92 L734.30,2442.03 L735.30,2442.13 L736.30,2442.23 L737.30,2442.33 L738.30,2442.43 L739.30,2442.52 L740.30,2442.61 L741.30,2442.70 L742.30,2442.79 L743.30,2442.88 L744.30,2442.96 L745.30,2443.04 L746.30,2443.12 L747.30,2443.20 L748.30,2443.28 L749.30,2443.35 L750.30,2443.42 L751.30,2443.49 L752.30,2443.56 L753.30,2443.62 L754.30,2443.68 L755.30,2443.74 L756.30,2443.80 L757.30,2443.86 L758.30,2443.91 L759.30,2443.96 L760.30,2444.01 L761.30,2444.06 L762.30,2444.11 L763.30,2444.16 L764.30,2444.20 L765.30,2444.25 L766.30,2444.29 L767.30,2444.34 L768.30,2444.38 L769.30,2444.42 L770.30,2444.46 L771.30,2444.50 L772.30,2444.54 L773.30,2444.58 L774.30,2444.62 L775.30,2444.65 L776.30,2444.69 L777.30,2444.72 L778.30,2444.76 L779.30,2444.79 L780.30,2444.83 L781.30,2444.86 L782.30,2444.89 L783.30,2444.92 L784.30,2444.95 L785.30,2444.98 L786.30,2445.01 L787.30,2445.04 L788.30,2445.07 L789.30,2445.10 L790.30,2445.13 L791.30,2445.16 L792.30,2445.18 L793.30,2445.21 L794.30,2445.23 L795.30,2445.26 L796.30,2445.28 L797.30,2445.31 L798.30,2445.33 L799.30,2445.36 L800.30,2445.38 L801.30,2445.40 L802.30,2445.43 L803.30,2445.45 L804.30,2445.47 L805.30,2445.49 L806.30,2445.52 L807.30,2445.54 L808.30,2445.56 L809.30,2445.58 L810.30,2445.60 L811.30,2445.62 L812.30,2445.64 L813.30,2445.66 L814.30,2445.68 L815.30,2445.70 L816.30,2445.73 L817.30,2445.75 L818.30,2445.77 L819.30,2445.79 L820.30,2445.81 L821.30,2445.83 L822.30,2445.85 L823.30,2445.86 L824.30,2445.88 L825.30,2445.90 L826.30,2445.92 L827.30,2445.95 L828.30,2445.97 L829.30,2445.99 L830.30,2446.01 L831.30,2446.03 L832.30,2446.05 L833.30,2446.07 L834.30,2446.09 L835.30,2446.11 L836.30,2446.13 L837.30,2446.14 L838.30,2446.16 L839.30,2446.18 L840.30,2446.20 L841.30,2446.22 L842.30,2446.24 L843.30,2446.26 L844.30,2446.28 L845.30,2446.29 L846.30,2446.31 L847.30,2446.33 L848.30,2446.35 L849.30,2446.36 L850.30,2446.38 L851.30,2446.40 L852.30,2446.41 L853.30,2446.43 L854.30,2446.45 L855.30,2446.46 L856.30,2446.48 L857.30,2446.49 L858.30,2446.51 L859.30,2446.53 L860.30,2446.54 L861.30,2446.56 L862.30,2446.57 L863.30,2446.59 L864.30,2446.60 L865.30,2446.61 L866.30,2446.63 L867.30,2446.64 L868.30,2446.66 L869.30,2446.67 L870.30,2446.68 L871.30,2446.70 L872.30,2446.71 L873.30,2446.72 L874.30,2446.74 L875.30,2446.75 L876.30,2446.76 L877.30,2446.77 L878.30,2446.78 L879.30,2446.80 L880.30,2446.81 L881.30,2446.82 L882.30,2446.83 L883.30,2446.84 L884.30,2446.85 L885.30,2446.86 L886.30,2446.87 L887.30,2446.88 L888.30,2446.89 L889.30,2446.90 L890.30,2446.91 L891.30,2446.92 L892.30,2446.93 L893.30,2446.94 L894.30,2446.95 L895.30,2446.96 L896.30,2446.97 L897.30,2446.98 L898.30,2446.99 L899.30,2446.99 L900.30,2447.00 L901.30,2447.01 L902.30,2447.02 L903.30,2447.03 L904.30,2447.03 L905.30,2447.04 L906.30,2447.05 L907.30,2447.06 L908.30,2447.07 L909.30,2447.08 L910.30,2447.09 L911.30,2447.09 L912.30,2447.10 L913.30,2447.11 L914.30,2447.12 L915.30,2447.13 L916.30,2447.14 L917.30,2447.15 L918.30,2447.15 L919.30,2447.16 L920.30,2447.17 L921.30,2447.18 L922.30,2447.19 L923.30,2447.20 L924.30,2447.21 L925.30,2447.21 L926.30,2447.22 L927.30,2447.23 L928.30,2447.24 L929.30,2447.25 L930.30,2447.26 L931.30,2447.26 L932.30,2447.27 L933.30,2447.28 L934.30,2447.29 L935.30,2447.29 L936.30,2447.30 L937.30,2447.31 L938.30,2447.32 L939.30,2447.32 L940.30,2447.33 L941.30,2447.34 L942.30,2447.34 L943.30,2447.35 L944.30,2447.36 L945.30,2447.36 L946.30,2447.37 L947.30,2447.37 L948.30,2447.38 L949.30,2447.38 L950.30,2447.39 L951.30,2447.39 L952.30,2447.40 L953.30,2447.40 L954.30,2447.41 L955.30,2447.41 L956.30,2447.41 L957.30,2447.42 L958.30,2447.42 L959.30,2447.42 L960.30,2447.42 L961.30,2447.43 L962.30,2447.43 L963.30,2447.43 L964.30,2447.43 L965.30,2447.43 L966.30,2447.43 L967.30,2447.43 L968.30,2447.43 L969.30,2447.43 L970.30,2447.43 L971.30,2447.43 L972.30,2447.43 L973.30,2447.43 L974.30,2447.42 L975.30,2447.42 L976.30,2447.42 L977.30,2447.42 L978.30,2447.41 L979.30,2447.41 L980.30,2447.40 L981.30,2447.40 L982.30,2447.39 L983.30,2447.39 L984.30,2447.38 L985.30,2447.37 L986.30,2447.37 L987.30,2447.36 L988.30,2447.35 L989.30,2447.34 L990.30,2447.33 L991.30,2447.32 L992.30,2447.31 L993.30,2447.30 L994.30,2447.29 L995.30,2447.28 L996.30,2447.27 L997.30,2447.25 L998.30,2447.24 L999.30,2447.23 L1000.30,2447.21 L1001.30,2447.20 L1002.30,2447.18 L1003.30,2447.17 L1004.30,2447.15 L1005.30,2447.13 L1006.30,2447.11 L1007.30,2447.10 L1008.30,2447.08 L1009.30,2447.06 L1010.30,2447.04 L1011.30,2447.02 L1012.30,2446.99 L1013.30,2446.97 L1014.30,2446.94 L1015.30,2446.91 L1016.30,2446.87 L1017.30,2446.84 L1018.30,2446.79 L1019.30,2446.75 L1020.30,2446.70 L1021.30,2446.65 L1022.30,2446.60 L1023.30,2446.54 L1024.30,2446.48 L1025.30,2446.42 L1026.30,2446.35 L1027.30,2446.28 L1028.30,2446.21 L1029.30,2446.14 L1030.30,2446.06 L1031.30,2445.98 L1032.30,2445.90 L1033.30,2445.82 L1034.30,2445.73 L1035.30,2445.65 L1036.30,2445.56 L1037.30,2445.46 L1038.30,2445.37 L1039.30,2445.27 L1040.30,2445.17 L1041.30,2445.07 L1042.30,2444.97 L1043.30,2444.86 L1044.30,2444.76 L1045.30,2444.65 L1046.30,2444.54 L1047.30,2444.43 L1048.30,2444.31 L1049.30,2444.20 L1050.30,2444.08 L1051.30,2443.97 L1052.30,2443.85 L1053.30,2443.73 L1054.30,2443.61 L1055.30,2443.48 L1056.30,2443.36 L1057.30,2443.23 L1058.30,2443.11 L1059.30,2442.98 L1060.30,2442.85 L1061.30,2442.73 L1062.30,2442.60 L1063.30,2442.47 L1064.30,2442.34 L1065.30,2442.21 L1066.30,2442.07 L1067.30,2441.94 L1068.30,2441.81 L1069.30,2441.68 L1070.30,2441.54 L1071.30,2441.41 L1072.30,2441.27 L1073.30,2441.14 L1074.30,2441.01 L1075.30,2440.87 L1076.30,2440.74 L1077.30,2440.60 L1078.30,2440.47 L1079.30,2440.33 L1080.30,2440.20 L1081.30,2440.07 L1082.30,2439.93 L1083.30,2439.80 L1084.30,2439.67 L1085.30,2439.54 L1086.30,2439.40 L1087.30,2439.27 L1088.30,2439.14 L1089.30,2439.01 L1090.30,2438.89 L1091.30,2438.76 L1092.30,2438.63 L1093.30,2438.50 L1094.30,2438.38 L1095.30,2438.26 L1096.30,2438.13 L1097.30,2438.01 L1098.30,2437.89 L1099.30,2437.77 L1100.30,2437.65 L1101.30,2437.54 L1102.30,2437.42 L1103.30,2437.31 L1104.30,2437.19 L1105.30,2437.08 L1106.30,2436.97 L1107.30,2436.87 L1108.30,2436.76 L1109.30,2436.66 L1110.30,2436.56 L1111.30,2436.46 L1112.30,2436.36 L1113.30,2436.26 L1114.30,2436.17 L1115.30,2436.07 L1116.30,2435.98 L1117.30,2435.90 L1118.30,2435.81 L1119.30,2435.73 L1120.30,2435.65 L1121.30,2435.57 L1122.30,2435.49 L1123.30,2435.42 L1124.30,2435.35 L1125.30,2435.28 L1126.30,2435.22 L1127.30,2435.15 L1128.30,2435.09 L1129.30,2435.04 L1130.30,2434.98 L1131.30,2434.93 L1132.30,2434.88 L1133.30,2434.83 L1134.30,2434.78 L1135.30,2434.73 L1136.30,2434.67 L1137.30,2434.63 L1138.30,2434.58 L1139.30,2434.53 L1140.30,2434.48 L1141.30,2434.43 L1142.30,2434.38 L1143.30,2434.33 L1144.30,2434.29 L1145.30,2434.24 L1146.30,2434.19 L1147.30,2434.14 L1148.30,2434.10 L1149.30,2434.05 L1150.30,2434.00 L1151.30,2433.96 L1152.30,2433.91 L1153.30,2433.86 L1154.30,2433.82 L1155.30,2433.77 L1156.30,2433.72 L1157.30,2433.67 L1158.30,2433.62 L1159.30,2433.58 L1160.30,2433.53 L1161.30,2433.48 L1162.30,2433.43 L1163.30,2433.38 L1164.30,2433.33 L1165.30,2433.28 L1166.30,2433.23 L1167.30,2433.18 L1168.30,2433.13 L1169.30,2433.07 L1170.30,2433.02 L1171.30,2432.96 L1172.30,2432.91 L1173.30,2432.85 L1174.30,2432.80 L1175.30,2432.74 L1176.30,2432.68 L1177.30,2432.62 L1178.30,2432.56 L1179.30,2432.50 L1180.30,2432.44 L1181.30,2432.38 L1182.30,2432.31 L1183.30,2432.25 L1184.30,2432.18 L1185.30,2432.11 L1186.30,2432.04 L1187.30,2431.97 L1188.30,2431.90 L1189.30,2431.83 L1190.30,2431.75 L1191.30,2431.68 L1192.30,2431.60 L1193.30,2431.52 L1194.30,2431.44 L1195.30,2431.36 L1196.30,2431.27 L1197.30,2431.19 L1198.30,2431.10 L1199.30,2431.01 L1200.30,2430.92 L1201.30,2430.83 L1202.30,2430.73 L1203.30,2430.63 L1204.30,2430.54 L1205.30,2430.43 L1206.30,2430.33 L1207.30,2430.22 L1208.30,2430.12 L1209.30,2430.01 L1210.30,2429.89 L1211.30,2429.78 L1212.30,2429.66 L1213.30,2429.54 L1214.30,2429.42 L1215.30,2429.29 L1216.30,2429.16 L1217.30,2429.03 L1218.30,2428.90 L1219.30,2428.76 L1220.30,2428.62 L1221.30,2428.48 L1222.30,2428.33 L1223.30,2428.18 L1224.30,2428.03 L1225.30,2427.87 L1226.30,2427.71 L1227.30,2427.54 L1228.30,2427.36 L1229.30,2427.18 L1230.30,2426.99 L1231.30,2426.79 L1232.30,2426.58 L1233.30,2426.37 L1234.30,2426.15 L1235.30,2425.93 L1236.30,2425.70 L1237.30,2425.46 L1238.30,2425.22 L1239.30,2424.97 L1240.30,2424.71 L1241.30,2424.45 L1242.30,2424.19 L1243.30,2423.91 L1244.30,2423.64 L1245.30,2423.35 L1246.30,2423.06 L1247.30,2422.77 L1248.30,2422.47 L1249.30,2422.16 L1250.30,2421.85 L1251.30,2421.54 L1252.30,2421.22 L1253.30,2420.89 L1254.30,2420.56 L1255.30,2420.22 L1256.30,2419.88 L1257.30,2419.53 L1258.30,2419.18 L1259.30,2418.82 L1260.30,2418.46 L1261.30,2418.10 L1262.30,2417.73 L1263.30,2417.35 L1264.30,2416.97 L1265.30,2416.58 L1266.30,2416.19 L1267.30,2415.80 L1268.30,2415.40 L1269.30,2414.99 L1270.30,2414.58 L1271.30,2414.17 L1272.30,2413.75 L1273.30,2413.31 L1274.30,2412.86 L1275.30,2412.40 L1276.30,2411.93 L1277.30,2411.44 L1278.30,2410.94 L1279.30,2410.43 L1280.30,2409.91 L1281.30,2409.37 L1282.30,2408.82 L1283.30,2408.26 L1284.30,2407.69 L1285.30,2407.11 L1286.30,2406.51 L1287.30,2405.91 L1288.30,2405.29 L1289.30,2404.66 L1290.30,2404.02 L1291.30,2403.37 L1292.30,2402.71 L1293.30,2402.04 L1294.30,2401.36 L1295.30,2400.67 L1296.30,2399.97 L1297.30,2399.25 L1298.30,2398.53 L1299.30,2397.79 L1300.30,2397.05 L1301.30,2396.29 L1302.30,2395.53 L1303.30,2394.75 L1304.30,2393.96 L1305.30,2393.16 L1306.30,2392.35 L1307.30,2391.52 L1308.30,2390.69 L1309.30,2389.84 L1310.30,2388.98 L1311.30,2388.11 L1312.30,2387.22 L1313.30,2386.32 L1314.30,2385.40 L1315.30,2384.47 L1316.30,2383.53 L1317.30,2382.57 L1318.30,2381.59 L1319.30,2380.61 L1320.30,2379.67 L1321.30,2378.80 L1322.30,2377.98 L1323.30,2377.21 L1324.30,2376.47 L1325.30,2375.77 L1326.30,2375.09 L1327.30,2374.43 L1328.30,2373.77 L1329.30,2373.12 L1330.30,2372.45 L1331.30,2371.77 L1332.30,2371.07 L1333.30,2370.33 L1334.30,2369.55 L1335.30,2368.73 L1336.30,2367.84 L1337.30,2366.88 L1338.30,2365.85 L1339.30,2364.73 L1339.70,2364.25 L1339.95,2363.95 L1340.20,2363.63 L1340.30,2363.51 L1340.45,2363.32 L1340.70,2362.99 L1340.95,2362.66 L1341.20,2362.32 L1341.30,2362.18 L1341.45,2361.97 L1341.70,2361.62 L1341.95,2361.26 L1342.20,2360.89 L1342.30,2360.74 L1342.45,2360.51 L1342.70,2360.13 L1342.95,2359.73 L1343.20,2359.33 L1343.30,2359.17 L1343.45,2358.92 L1343.70,2358.50 L1343.95,2358.08 L1344.20,2357.64 L1344.30,2357.46 L1344.45,2357.19 L1344.70,2356.74 L1344.95,2356.27 L1345.20,2355.80 L1345.30,2355.60 L1345.45,2355.31 L1345.70,2354.81 L1345.95,2354.31 L1346.20,2353.79 L1346.30,2353.58 L1346.45,2353.27 L1346.70,2352.73 L1346.95,2352.18 L1347.20,2351.62 L1347.30,2351.39 L1347.45,2351.04 L1347.70,2350.46 L1347.95,2349.86 L1348.20,2349.26 L1348.30,2349.01 L1348.45,2348.64 L1348.70,2348.00 L1348.95,2347.36 L1349.20,2346.70 L1349.30,2346.43 L1349.45,2346.03 L1349.70,2345.34 L1349.95,2344.64 L1350.20,2343.93 L1350.30,2343.64 L1350.45,2343.20 L1350.70,2342.46 L1350.95,2341.71 L1351.20,2340.94 L1351.30,2340.62 L1351.45,2340.15 L1351.70,2339.35 L1351.95,2338.54 L1352.20,2337.71 L1352.30,2337.37 L1352.45,2336.86 L1352.70,2336.01 L1352.95,2335.14 L1353.20,2334.26 L1353.30,2333.91 L1353.45,2333.37 L1353.70,2332.46 L1353.95,2331.54 L1354.20,2330.61 L1354.30,2330.23 L1354.45,2329.66 L1354.70,2328.70 L1354.95,2327.72 L1355.20,2326.73 L1355.30,2326.33 L1355.45,2325.72 L1355.70,2324.71 L1355.95,2323.67 L1356.20,2322.62 L1356.30,2322.20 L1356.45,2321.56 L1356.70,2320.48 L1356.95,2319.38 L1357.20,2318.27 L1357.30,2317.82 L1357.45,2317.14 L1357.70,2316.00 L1357.95,2314.84 L1358.20,2313.66 L1358.30,2313.19 L1358.45,2312.47 L1358.70,2311.26 L1358.95,2310.03 L1359.20,2308.79 L1359.30,2308.28 L1359.45,2307.52 L1359.70,2306.24 L1359.95,2304.94 L1360.20,2303.62 L1360.30,2303.09 L1360.45,2302.28 L1360.70,2300.93 L1360.95,2299.55 L1361.20,2298.16 L1361.30,2297.59 L1361.45,2296.74 L1361.70,2295.30 L1361.95,2293.85 L1362.20,2292.37 L1362.30,2291.77 L1362.45,2290.87 L1362.70,2289.35 L1362.95,2287.81 L1363.20,2286.24 L1363.30,2285.61 L1363.45,2284.65 L1363.70,2283.04 L1363.95,2281.41 L1364.20,2279.75 L1364.30,2279.08 L1364.45,2278.07 L1364.70,2276.36 L1364.95,2274.62 L1365.20,2272.87 L1365.30,2272.16 L1365.45,2271.08 L1365.70,2269.27 L1365.95,2267.43 L1366.20,2265.57 L1366.30,2264.81 L1366.45,2263.67 L1366.70,2261.75 L1366.95,2259.80 L1367.20,2257.82 L1367.30,2257.02 L1367.45,2255.81 L1367.70,2253.77 L1367.95,2251.70 L1368.20,2249.60 L1368.30,2248.75 L1368.45,2247.46 L1368.70,2245.29 L1368.95,2243.09 L1369.20,2240.85 L1369.30,2239.95 L1369.45,2238.58 L1369.70,2236.27 L1369.95,2233.93 L1370.20,2231.55 L1370.30,2230.59 L1370.45,2229.13 L1370.70,2226.67 L1370.95,2224.18 L1371.20,2221.64 L1371.30,2220.62 L1371.45,2219.07 L1371.70,2216.45 L1371.95,2213.78 L1372.20,2211.08 L1372.30,2209.98 L1372.45,2208.33 L1372.70,2205.53 L1372.95,2202.69 L1373.20,2199.80 L1373.30,2198.63 L1373.45,2196.86 L1373.70,2193.88 L1373.95,2190.84 L1374.20,2187.75 L1374.30,2186.50 L1374.45,2184.61 L1374.70,2181.41 L1374.95,2178.16 L1375.20,2174.85 L1375.30,2173.51 L1375.45,2171.49 L1375.70,2168.06 L1375.95,2164.58 L1376.20,2161.03 L1376.30,2159.59 L1376.45,2157.42 L1376.70,2153.74 L1376.95,2150.00 L1377.20,2146.19 L1377.30,2144.65 L1377.45,2142.31 L1377.70,2138.36 L1377.95,2134.34 L1378.20,2130.24 L1378.30,2128.58 L1378.45,2126.07 L1378.70,2121.82 L1378.95,2117.49 L1379.20,2113.07 L1379.30,2111.28 L1379.45,2108.58 L1379.70,2103.99 L1379.95,2099.32 L1380.20,2094.56 L1380.30,2092.63 L1380.45,2089.70 L1380.70,2084.76 L1380.95,2079.71 L1381.20,2074.56 L1381.30,2072.48 L1381.45,2069.32 L1381.70,2063.96 L1381.95,2058.51 L1382.20,2052.94 L1382.30,2050.68 L1382.45,2047.26 L1382.70,2041.46 L1382.95,2035.54 L1383.20,2029.51 L1383.30,2027.06 L1383.45,2023.35 L1383.70,2017.06 L1383.95,2010.64 L1384.20,2004.09 L1384.30,2001.44 L1384.45,1997.41 L1384.70,1990.58 L1384.95,1983.61 L1385.20,1976.49 L1385.30,1973.60 L1385.45,1969.22 L1385.70,1961.80 L1385.95,1954.22 L1386.20,1946.48 L1386.30,1943.34 L1386.45,1938.57 L1386.70,1930.50 L1386.95,1922.25 L1387.20,1913.83 L1387.30,1910.41 L1387.45,1905.22 L1387.70,1896.44 L1387.95,1887.46 L1388.20,1878.29 L1388.30,1874.57 L1388.45,1868.93 L1388.70,1859.37 L1388.95,1849.61 L1389.20,1839.65 L1389.30,1835.60 L1389.45,1829.47 L1389.70,1819.08 L1389.95,1808.48 L1390.20,1797.67 L1390.30,1793.28 L1390.45,1786.63 L1390.70,1775.37 L1390.95,1763.89 L1391.20,1752.18 L1391.30,1747.44 L1391.45,1740.25 L1391.70,1728.10 L1391.95,1715.72 L1392.20,1703.12 L1392.30,1698.02 L1392.45,1690.30 L1392.70,1677.27 L1392.95,1664.02 L1393.20,1650.57 L1393.30,1645.13 L1393.45,1636.91 L1393.70,1623.07 L1393.95,1609.05 L1394.20,1594.86 L1394.30,1589.14 L1394.45,1580.51 L1394.70,1566.03 L1394.95,1551.43 L1395.20,1536.74 L1395.30,1530.84 L1395.45,1521.97 L1395.70,1507.17 L1395.95,1492.36 L1396.20,1477.58 L1396.30,1471.68 L1396.45,1462.87 L1396.70,1448.29 L1396.95,1433.88 L1397.20,1419.72 L1397.30,1414.13 L1397.45,1405.86 L1397.70,1392.40 L1397.95,1379.42 L1398.20,1367.03 L1398.30,1362.26 L1398.45,1355.36 L1398.70,1344.56 L1398.95,1334.83 L1399.20,1326.43 L1399.30,1323.54 L1399.45,1319.80 L1399.70,1316.00 L1399.95,1319.18 L1400.20,1325.20 L1400.30,1328.13 L1400.45,1332.98 L1400.70,1342.10 L1400.95,1352.28 L1401.20,1363.34 L1401.30,1367.97 L1401.45,1375.12 L1401.70,1387.48 L1401.95,1400.33 L1402.20,1413.58 L1402.30,1418.96 L1402.45,1427.13 L1402.70,1440.92 L1402.95,1454.89 L1403.20,1468.99 L1403.30,1474.65 L1403.45,1483.15 L1403.70,1497.35 L1403.95,1511.55 L1404.20,1525.70 L1404.30,1531.34 L1404.45,1539.78 L1404.70,1553.78 L1404.95,1567.65 L1405.20,1581.39 L1405.30,1586.84 L1405.45,1594.97 L1405.70,1608.39 L1405.95,1621.63 L1406.20,1634.68 L1406.30,1639.84 L1406.45,1647.53 L1406.70,1660.17 L1406.95,1672.60 L1407.20,1684.82 L1407.30,1689.65 L1407.45,1696.82 L1407.70,1708.60 L1407.95,1720.15 L1408.20,1731.49 L1408.30,1735.96 L1408.45,1742.60 L1408.70,1753.48 L1408.95,1764.15 L1409.20,1774.59 L1409.30,1778.71 L1409.45,1784.82 L1409.70,1794.83 L1409.95,1804.63 L1410.20,1814.21 L1410.30,1817.99 L1410.45,1823.59 L1410.70,1832.77 L1410.95,1841.75 L1411.20,1850.52 L1411.30,1853.98 L1411.45,1859.11 L1411.70,1867.50 L1411.95,1875.71 L1412.20,1883.74 L1412.30,1886.90 L1412.45,1891.59 L1412.70,1899.26 L1412.95,1906.77 L1413.20,1914.10 L1413.30,1916.99 L1413.45,1921.28 L1413.70,1928.29 L1413.95,1935.15 L1414.20,1941.85 L1414.30,1944.49 L1414.45,1948.41 L1414.70,1954.82 L1414.95,1961.09 L1415.20,1967.22 L1415.30,1969.64 L1415.45,1973.22 L1415.70,1979.09 L1415.95,1984.82 L1416.20,1990.44 L1416.30,1992.65 L1416.45,1995.93 L1416.70,2001.30 L1416.95,2006.55 L1417.20,2011.69 L1417.30,2013.72 L1417.45,2016.73 L1417.70,2021.65 L1417.95,2026.47 L1418.20,2031.19 L1418.30,2033.05 L1418.45,2035.81 L1418.70,2040.33 L1418.95,2044.75 L1419.20,2049.09 L1419.30,2050.79 L1419.45,2053.33 L1419.70,2057.48 L1419.95,2061.56 L1420.20,2065.54 L1420.30,2067.11 L1420.45,2069.45 L1420.70,2073.27 L1420.95,2077.02 L1421.20,2080.70 L1421.30,2082.14 L1421.45,2084.29 L1421.70,2087.82 L1421.95,2091.28 L1422.20,2094.67 L1422.30,2096.01 L1422.45,2097.99 L1422.70,2101.25 L1422.95,2104.45 L1423.20,2107.58 L1423.30,2108.81 L1423.45,2110.65 L1423.70,2113.66 L1423.95,2116.62 L1424.20,2119.52 L1424.30,2120.67 L1424.45,2122.37 L1424.70,2125.16 L1424.95,2127.90 L1425.20,2130.59 L1425.30,2131.65 L1425.45,2133.23 L1425.70,2135.82 L1425.95,2138.36 L1426.20,2140.86 L1426.30,2141.84 L1426.45,2143.31 L1426.70,2145.72 L1426.95,2148.08 L1427.20,2150.41 L1427.30,2151.32 L1427.45,2152.69 L1427.70,2154.93 L1427.95,2157.13 L1428.20,2159.30 L1428.30,2160.15 L1428.45,2161.42 L1428.70,2163.51 L1428.95,2165.57 L1429.20,2167.59 L1429.30,2168.39 L1429.45,2169.58 L1429.70,2171.53 L1429.95,2173.45 L1430.20,2175.34 L1430.30,2176.08 L1430.45,2177.19 L1430.70,2179.02 L1430.95,2180.82 L1431.20,2182.58 L1431.30,2183.28 L1431.45,2184.32 L1431.70,2186.04 L1431.95,2187.72 L1432.20,2189.38 L1432.30,2190.03 L1432.45,2191.01 L1432.70,2192.62 L1432.95,2194.20 L1433.20,2195.76 L1433.30,2196.37 L1433.45,2197.29 L1433.70,2198.80 L1433.95,2200.29 L1434.20,2201.76 L1434.30,2202.34 L1434.45,2203.20 L1434.70,2204.62 L1434.95,2206.02 L1435.20,2207.41 L1435.30,2207.95 L1435.45,2208.77 L1435.70,2210.11 L1435.95,2211.44 L1436.20,2212.74 L1436.30,2213.26 L1436.45,2214.03 L1436.70,2215.30 L1436.95,2216.55 L1437.20,2217.78 L1437.30,2218.27 L1437.45,2219.00 L1437.70,2220.20 L1437.95,2221.39 L1438.20,2222.56 L1438.30,2223.02 L1438.45,2223.71 L1438.70,2224.85 L1438.95,2225.98 L1439.20,2227.09 L1439.30,2227.53 L1439.45,2228.19 L1439.70,2229.27 L1439.95,2230.34 L1440.20,2231.40 L1440.30,2231.82 L1440.45,2232.44 L1440.70,2233.48 L1440.95,2234.50 L1441.20,2235.50 L1441.30,2235.90 L1441.45,2236.50 L1441.70,2237.48 L1441.95,2238.46 L1442.20,2239.42 L1442.30,2239.80 L1442.45,2240.37 L1442.70,2241.32 L1442.95,2242.25 L1443.20,2243.17 L1443.30,2243.53 L1443.45,2244.08 L1443.70,2244.98 L1443.95,2245.87 L1444.20,2246.76 L1444.30,2247.11 L1444.45,2247.63 L1444.70,2248.50 L1444.95,2249.36 L1445.20,2250.21 L1445.30,2250.54 L1445.45,2251.05 L1445.70,2251.88 L1445.95,2252.71 L1446.20,2253.53 L1446.30,2253.85 L1446.45,2254.34 L1446.70,2255.14 L1446.95,2255.94 L1447.20,2256.73 L1447.30,2257.04 L1447.45,2257.51 L1447.70,2258.29 L1447.95,2259.06 L1448.20,2259.82 L1448.30,2260.12 L1448.45,2260.58 L1448.70,2261.33 L1448.95,2262.08 L1449.20,2262.82 L1449.30,2263.11 L1449.45,2263.55 L1449.70,2264.28 L1449.95,2265.01 L1450.20,2265.73 L1450.30,2266.01 L1450.45,2266.44 L1450.70,2267.15 L1450.95,2267.86 L1451.20,2268.56 L1451.30,2268.84 L1451.45,2269.26 L1451.70,2269.95 L1451.95,2270.64 L1452.20,2271.33 L1452.30,2271.60 L1452.45,2272.01 L1452.70,2272.69 L1452.95,2273.37 L1453.20,2274.04 L1453.30,2274.31 L1453.45,2274.71 L1453.70,2275.38 L1453.95,2276.04 L1454.20,2276.71 L1454.30,2276.97 L1454.45,2277.36 L1454.70,2278.02 L1454.95,2278.67 L1455.20,2279.31 L1455.30,2279.57 L1455.45,2279.96 L1455.70,2280.60 L1455.95,2281.23 L1456.20,2281.87 L1456.30,2282.12 L1456.45,2282.50 L1456.70,2283.13 L1456.95,2283.75 L1457.20,2284.37 L1457.30,2284.62 L1457.45,2284.99 L1457.70,2285.61 L1457.95,2286.22 L1458.20,2286.83 L1458.30,2287.07 L1458.45,2287.43 L1458.70,2288.04 L1458.95,2288.64 L1459.20,2289.23 L1459.30,2289.47 L1459.45,2289.83 L1460.30,2291.82 L1461.30,2294.11 L1462.30,2296.36 L1463.30,2298.55 L1464.30,2300.69 L1465.30,2302.77 L1466.30,2304.79 L1467.30,2306.75 L1468.30,2308.65 L1469.30,2310.49 L1470.30,2312.26 L1471.30,2313.96 L1472.30,2315.60 L1473.30,2317.15 L1474.30,2318.64 L1475.30,2320.04 L1476.30,2321.36 L1477.30,2322.60 L1478.30,2323.75 L1479.30,2324.81 L1480.30,2325.81 L1481.30,2326.76 L1482.30,2327.67 L1483.30,2328.54 L1484.30,2329.37 L1485.30,2330.16 L1486.30,2330.91 L1487.30,2331.63 L1488.30,2332.32 L1489.30,2332.98 L1490.30,2333.61 L1491.30,2334.21 L1492.30,2334.80 L1493.30,2335.36 L1494.30,2335.90 L1495.30,2336.42 L1496.30,2336.93 L1497.30,2337.42 L1498.30,2337.91 L1499.30,2338.38 L1500.30,2338.84 L1501.30,2339.28 L1502.30,2339.71 L1503.30,2340.13 L1504.30,2340.53 L1505.30,2340.91 L1506.30,2341.28 L1507.30,2341.64 L1508.30,2341.98 L1509.30,2342.31 L1510.30,2342.63 L1511.30,2342.93 L1512.30,2343.22 L1513.30,2343.50 L1514.30,2343.77 L1515.30,2344.02 L1516.30,2344.27 L1517.30,2344.50 L1518.30,2344.73 L1519.30,2344.94 L1520.30,2345.14 L1521.30,2345.34 L1522.30,2345.52 L1523.30,2345.69 L1524.30,2345.86 L1525.30,2346.02 L1526.30,2346.16 L1527.30,2346.30 L1528.30,2346.43 L1529.30,2346.56 L1530.30,2346.67 L1531.30,2346.78 L1532.30,2346.88 L1533.30,2346.97 L1534.30,2347.05 L1535.30,2347.13 L1536.30,2347.20 L1537.30,2347.27 L1538.30,2347.32 L1539.30,2347.37 L1540.30,2347.42 L1541.30,2347.45 L1542.30,2347.48 L1543.30,2347.50 L1544.30,2347.52 L1545.30,2347.53 L1546.30,2347.53 L1547.30,2347.53 L1548.30,2347.52 L1549.30,2347.50 L1550.30,2347.48 L1551.30,2347.44 L1552.30,2347.41 L1553.30,2347.36 L1554.30,2347.31 L1555.30,2347.26 L1556.30,2347.19 L1557.30,2347.12 L1558.30,2347.04 L1559.30,2346.96 L1560.30,2346.87 L1561.30,2346.77 L1562.30,2346.67 L1563.30,2346.56 L1564.30,2346.44 L1565.30,2346.32 L1566.30,2346.19 L1567.30,2346.05 L1568.30,2345.91 L1569.30,2345.75 L1570.30,2345.60 L1571.30,2345.43 L1572.30,2345.26 L1573.30,2345.08 L1574.30,2344.90 L1575.30,2344.71 L1576.30,2344.51 L1577.30,2344.30 L1578.30,2344.09 L1579.30,2343.86 L1580.30,2343.63 L1581.30,2343.39 L1582.30,2343.14 L1583.30,2342.88 L1584.30,2342.61 L1585.30,2342.33 L1586.30,2342.05 L1587.30,2341.75 L1588.30,2341.45 L1589.30,2341.14 L1590.30,2340.81 L1591.30,2340.48 L1592.30,2340.15 L1593.30,2339.80 L1594.30,2339.44 L1595.30,2339.08 L1596.30,2338.70 L1597.30,2338.32 L1598.30,2337.93 L1599.30,2337.53 L1600.30,2337.12 L1601.30,2336.70 L1602.30,2336.27 L1603.30,2335.83 L1604.30,2335.39 L1605.30,2334.94 L1606.30,2334.48 L1607.30,2334.00 L1608.30,2333.53 L1609.30,2333.04 L1610.30,2332.54 L1611.30,2332.04 L1612.30,2331.52 L1613.30,2331.00 L1614.30,2330.47 L1615.30,2329.93 L1616.30,2329.38 L1617.30,2328.82 L1618.30,2328.24 L1619.30,2327.64 L1620.30,2327.02 L1621.30,2326.38 L1622.30,2325.73 L1623.30,2325.05 L1624.30,2324.36 L1625.30,2323.65 L1626.30,2322.92 L1627.30,2322.17 L1628.30,2321.41 L1629.30,2320.64 L1630.30,2319.85 L1631.30,2319.04 L1632.30,2318.22 L1633.30,2317.39 L1634.30,2316.55 L1635.30,2315.69 L1636.30,2314.82 L1637.30,2313.94 L1638.30,2313.05 L1639.30,2312.14 L1640.30,2311.23 L1641.30,2310.31 L1642.30,2309.38 L1643.30,2308.44 L1644.30,2307.49 L1645.30,2306.54 L1646.30,2305.58 L1647.30,2304.61 L1648.30,2303.64 L1649.30,2302.66 L1650.30,2301.68 L1651.30,2300.69 L1652.30,2299.70 L1653.30,2298.70 L1654.30,2297.70 L1655.30,2296.69 L1656.30,2295.68 L1657.30,2294.66 L1658.30,2293.62 L1659.30,2292.58 L1660.30,2291.53 L1661.30,2290.47 L1662.30,2289.40 L1663.30,2288.31 L1664.30,2287.21 L1665.30,2286.09 L1666.30,2284.96 L1667.30,2283.82 L1668.30,2282.65 L1669.30,2281.47 L1670.30,2280.27 L1671.30,2279.06 L1672.30,2277.82 L1673.30,2276.56 L1674.30,2275.29 L1675.30,2273.99 L1676.30,2272.66 L1677.30,2271.32 L1678.30,2269.95 L1679.30,2268.55 L1680.30,2267.13 L1681.30,2265.68 L1682.30,2264.21 L1683.30,2262.70 L1684.30,2261.17 L1685.30,2259.58 L1686.30,2257.94 L1687.30,2256.26 L1688.30,2254.54 L1689.30,2252.77 L1690.30,2250.96 L1691.30,2249.10 L1692.30,2247.21 L1693.30,2245.28 L1694.30,2243.31 L1695.30,2241.30 L1696.30,2239.26 L1697.30,2237.19 L1698.30,2235.08 L1699.30,2232.94 L1700.30,2230.77 L1701.30,2228.57 L1702.30,2226.35 L1703.30,2224.10 L1704.30,2221.82 L1705.30,2219.52 L1706.30,2217.19 L1707.30,2214.84 L1708.30,2212.47 L1709.30,2210.04 L1710.30,2207.56 L1711.30,2205.03 L1712.30,2202.45 L1713.30,2199.82 L1714.30,2197.14 L1715.30,2194.41 L1716.30,2191.64 L1717.30,2188.82 L1718.30,2185.97 L1719.30,2183.07 L1720.30,2180.13 L1721.30,2177.16 L1722.30,2174.15 L1723.30,2171.11 L1724.30,2168.04 L1725.30,2164.93 L1726.30,2161.80 L1727.30,2158.64 L1728.30,2155.45 L1729.30,2152.23 L1730.30,2148.99 L1731.30,2145.72 L1732.30,2142.42 L1733.30,2139.08 L1734.30,2135.69 L1735.30,2132.26 L1736.30,2128.78 L1737.30,2125.25 L1738.30,2121.66 L1739.30,2118.00 L1740.30,2114.28 L1741.30,2110.49 L1742.30,2106.63 L1743.30,2102.69 L1744.30,2098.67 L1745.30,2094.56 L1746.30,2090.36 L1747.30,2086.07 L1748.30,2081.63 L1749.30,2077.02 L1750.30,2072.26 L1751.30,2067.35 L1752.30,2062.31 L1753.30,2057.16 L1754.30,2051.90 L1755.30,2046.55 L1756.30,2041.13 L1757.30,2035.64 L1758.30,2030.10 L1759.30,2024.52 L1760.30,2018.92 L1761.30,2013.31 L1762.30,2007.70 L1763.30,2002.08 L1764.30,1996.43 L1765.30,1990.74 L1766.30,1984.99 L1767.30,1979.17 L1768.30,1973.27 L1769.30,1967.28 L1770.30,1961.19 L1771.30,1954.98 L1772.30,1948.65 L1773.30,1942.19 L1774.30,1935.57 L1775.30,1928.75 L1776.30,1921.70 L1777.30,1914.42 L1778.30,1906.98 L1779.30,1899.38 L1780.30,1891.68 L1781.30,1883.90 L1782.30,1876.08 L1783.30,1868.24 L1784.30,1860.43 L1785.30,1852.67 L1786.30,1844.85 L1787.30,1836.94 L1788.30,1828.97 L1789.30,1820.94 L1790.30,1812.88 L1791.30,1804.81 L1792.30,1796.74 L1793.30,1788.70 L1794.30,1780.70 L1795.30,1772.77 L1796.30,1764.91 L1797.30,1757.16 L1798.30,1749.61 L1799.30,1742.24 L1800.30,1735.01 L1801.30,1727.86 L1802.30,1720.72 L1803.30,1713.55 L1804.30,1706.28 L1805.30,1698.86 L1806.30,1691.23 L1807.30,1683.32 L1808.30,1675.10 L1809.30,1666.40 L1810.30,1656.97 L1811.30,1646.91 L1812.30,1636.39 L1813.30,1625.59 L1814.30,1614.66 L1815.30,1603.78 L1816.30,1593.10 L1817.30,1582.80 L1818.30,1573.04 L1819.30,1563.98 L1820.30,1555.80 L1821.30,1548.22 L1822.30,1540.88 L1823.30,1533.77 L1824.30,1526.91 L1825.30,1520.30 L1826.30,1513.94 L1827.30,1507.84 L1828.30,1502.00 L1829.30,1496.44 L1830.30,1491.16 L1831.30,1486.16 L1832.30,1481.44 L1833.30,1476.91 L1834.30,1472.53 L1835.30,1468.33 L1836.30,1464.28 L1837.30,1460.40 L1838.30,1456.67 L1839.30,1453.11 L1840.30,1449.71 L1841.30,1446.47 L1842.30,1443.39 L1843.30,1440.47 L1844.30,1437.66 L1845.30,1434.88 L1846.30,1432.16 L1847.30,1429.51 L1848.30,1426.96 L1849.30,1424.52 L1850.30,1422.22 L1851.30,1420.08 L1852.30,1418.13 L1853.30,1416.37 L1854.30,1414.85 L1855.30,1413.56 L1856.30,1412.38 L1857.30,1411.25 L1858.30,1410.17 L1859.30,1409.14 L1860.30,1408.16 L1861.30,1407.23 L1862.30,1406.37 L1863.30,1405.57 L1864.30,1404.84 L1865.30,1404.18 L1866.30,1403.59 L1867.30,1403.07 L1868.30,1402.64 L1869.30,1402.29 L1870.30,1402.00 L1871.30,1401.73 L1872.30,1401.46 L1873.30,1401.21 L1874.30,1400.97 L1875.30,1400.73 L1876.30,1400.52 L1877.30,1400.31 L1878.30,1400.12 L1879.30,1399.95 L1880.30,1399.80 L1881.30,1399.66 L1882.30,1399.54 L1883.30,1399.45 L1884.30,1399.38 L1885.30,1399.33 L1886.30,1399.30 L1887.30,1399.30" fill="none" stroke="#0000ff" stroke-width="4.6" stroke-linejoin="round" stroke-dasharray="16 6"/>
<path d="M298.30,1351.40 L299.30,1353.54 L300.30,1355.89 L301.30,1358.42 L302.30,1361.14 L303.30,1364.03 L304.30,1367.06 L305.30,1370.25 L306.30,1373.56 L307.30,1376.99 L308.30,1380.60 L309.30,1384.42 L310.30,1388.44 L311.30,1392.68 L312.30,1397.13 L313.30,1401.82 L314.30,1406.74 L315.30,1411.91 L316.30,1417.33 L317.30,1423.13 L318.30,1429.63 L319.30,1436.72 L320.30,1444.28 L321.30,1452.18 L322.30,1460.28 L323.30,1468.47 L324.30,1476.62 L325.30,1484.58 L326.30,1492.25 L327.30,1499.84 L328.30,1507.53 L329.30,1515.26 L330.30,1522.99 L331.30,1530.68 L332.30,1538.26 L333.30,1545.70 L334.30,1552.94 L335.30,1559.94 L336.30,1566.65 L337.30,1573.15 L338.30,1579.47 L339.30,1585.63 L340.30,1591.67 L341.30,1597.60 L342.30,1603.45 L343.30,1609.25 L344.30,1615.01 L345.30,1620.78 L346.30,1626.56 L347.30,1632.38 L348.30,1638.28 L349.30,1644.33 L350.30,1650.52 L351.30,1656.80 L352.30,1663.13 L353.30,1669.48 L354.30,1675.79 L355.30,1682.03 L356.30,1688.15 L357.30,1694.12 L358.30,1699.89 L359.30,1705.42 L360.30,1710.66 L361.30,1715.58 L362.30,1720.14 L363.30,1724.38 L364.30,1728.49 L365.30,1732.48 L366.30,1736.33 L367.30,1740.04 L368.30,1743.60 L369.30,1747.01 L370.30,1750.25 L371.30,1753.33 L372.30,1756.24 L373.30,1758.97 L374.30,1761.51 L375.30,1763.96 L376.30,1766.46 L377.30,1768.99 L378.30,1771.51 L379.30,1773.99 L380.30,1776.40 L381.30,1778.69 L382.30,1780.83 L383.30,1782.78 L384.30,1784.51 L385.30,1785.99 L386.30,1787.17 L387.30,1788.02 L388.30,1788.50 L389.30,1788.59 L390.30,1788.51 L391.30,1788.33 L392.30,1788.07 L393.30,1787.72 L394.30,1787.31 L395.30,1786.83 L396.30,1786.29 L397.30,1785.70 L398.30,1785.07 L399.30,1784.40 L400.30,1783.71 L401.30,1783.00 L402.30,1782.27 L403.30,1781.55 L404.30,1780.79 L405.30,1779.94 L406.30,1778.99 L407.30,1777.96 L408.30,1776.83 L409.30,1775.63 L410.30,1774.34 L411.30,1772.97 L412.30,1771.52 L413.30,1769.99 L414.30,1768.39 L415.30,1766.73 L416.30,1764.99 L417.30,1763.19 L418.30,1761.32 L419.30,1759.39 L420.30,1757.40 L421.30,1755.19 L422.30,1752.54 L423.30,1749.52 L424.30,1746.20 L425.30,1742.63 L426.30,1738.89 L427.30,1735.04 L428.30,1731.15 L429.30,1727.27 L430.30,1723.48 L431.30,1719.84 L432.30,1716.42 L433.30,1713.28 L434.30,1710.48 L435.30,1708.05 L436.30,1705.63 L437.30,1703.15 L438.30,1700.65 L439.30,1698.19 L440.30,1695.81 L441.30,1693.55 L442.30,1691.46 L443.30,1689.57 L444.30,1687.93 L445.30,1686.60 L446.30,1685.60 L447.30,1684.99 L448.30,1684.80 L449.30,1685.06 L450.30,1685.71 L451.30,1686.73 L452.30,1688.08 L453.30,1689.71 L454.30,1691.59 L455.30,1693.69 L456.30,1695.95 L457.30,1698.65 L458.30,1702.84 L459.30,1708.43 L460.30,1715.16 L461.30,1722.81 L462.30,1731.12 L463.30,1739.85 L464.30,1749.06 L465.30,1760.75 L466.30,1774.14 L467.30,1787.73 L468.30,1800.00 L469.30,1810.73 L470.30,1820.85 L471.30,1830.59 L472.30,1840.18 L473.30,1849.86 L474.30,1859.82 L475.30,1870.00 L476.30,1880.28 L477.30,1890.59 L478.30,1900.85 L479.30,1910.96 L480.30,1920.85 L481.30,1930.42 L482.30,1939.61 L483.30,1948.30 L484.30,1956.61 L485.30,1964.68 L486.30,1972.64 L487.30,1980.63 L488.30,1988.80 L489.30,1997.28 L490.30,2006.22 L491.30,2015.85 L492.30,2026.07 L493.30,2036.60 L494.30,2047.18 L495.30,2057.53 L496.30,2067.36 L497.30,2076.44 L498.30,2084.96 L499.30,2093.11 L500.30,2100.99 L501.30,2108.69 L502.30,2116.29 L503.30,2123.90 L504.30,2131.60 L505.30,2139.44 L506.30,2147.39 L507.30,2155.36 L508.30,2163.31 L509.30,2171.17 L510.30,2178.88 L511.30,2186.38 L512.30,2193.61 L513.30,2200.51 L514.30,2207.01 L515.30,2213.10 L516.30,2219.07 L517.30,2224.96 L518.30,2230.73 L519.30,2236.34 L520.30,2241.72 L521.30,2246.84 L522.30,2251.65 L523.30,2256.11 L524.30,2260.17 L525.30,2263.78 L526.30,2266.94 L527.30,2269.90 L528.30,2272.73 L529.30,2275.42 L530.30,2277.98 L531.30,2280.42 L532.30,2282.76 L533.30,2284.99 L534.30,2287.13 L535.30,2289.19 L536.30,2291.17 L537.30,2293.09 L538.30,2294.95 L539.30,2296.75 L540.30,2298.52 L541.30,2300.25 L542.30,2301.95 L543.30,2303.64 L544.30,2305.32 L545.30,2307.00 L546.30,2308.66 L547.30,2310.27 L548.30,2311.86 L549.30,2313.41 L550.30,2314.93 L551.30,2316.41 L552.30,2317.87 L553.30,2319.30 L554.30,2320.71 L555.30,2322.08 L556.30,2323.44 L557.30,2324.77 L558.30,2326.08 L559.30,2327.36 L560.30,2328.63 L561.30,2329.88 L562.30,2331.11 L563.30,2332.33 L564.30,2333.53 L565.30,2334.72 L566.30,2335.90 L567.30,2337.06 L568.30,2338.21 L569.30,2339.34 L570.30,2340.45 L571.30,2341.54 L572.30,2342.62 L573.30,2343.68 L574.30,2344.73 L575.30,2345.76 L576.30,2346.78 L577.30,2347.79 L578.30,2348.79 L579.30,2349.78 L580.30,2350.76 L581.30,2351.73 L582.30,2352.69 L583.30,2353.65 L584.30,2354.60 L585.30,2355.55 L586.30,2356.49 L587.30,2357.43 L588.30,2358.37 L589.30,2359.30 L590.30,2360.24 L591.30,2361.18 L592.30,2362.11 L593.30,2363.06 L594.30,2364.00 L595.30,2364.95 L596.30,2365.90 L597.30,2366.86 L598.30,2367.82 L599.30,2368.78 L600.30,2369.74 L601.30,2370.69 L602.30,2371.65 L603.30,2372.61 L604.30,2373.56 L605.30,2374.51 L606.30,2375.45 L607.30,2376.39 L608.30,2377.32 L609.30,2378.24 L610.30,2379.15 L611.30,2380.05 L612.30,2380.94 L613.30,2381.82 L614.30,2382.68 L615.30,2383.54 L616.30,2384.37 L617.30,2385.20 L618.30,2386.00 L619.30,2386.79 L620.30,2387.56 L621.30,2388.31 L622.30,2389.04 L623.30,2389.76 L624.30,2390.48 L625.30,2391.19 L626.30,2391.89 L627.30,2392.59 L628.30,2393.28 L629.30,2393.97 L630.30,2394.64 L631.30,2395.32 L632.30,2395.98 L633.30,2396.64 L634.30,2397.29 L635.30,2397.94 L636.30,2398.58 L637.30,2399.22 L638.30,2399.84 L639.30,2400.47 L640.30,2401.08 L641.30,2401.69 L642.30,2402.29 L643.30,2402.89 L644.30,2403.48 L645.30,2404.07 L646.30,2404.65 L647.30,2405.22 L648.30,2405.79 L649.30,2406.35 L650.30,2406.90 L651.30,2407.45 L652.30,2407.99 L653.30,2408.53 L654.30,2409.06 L655.30,2409.59 L656.30,2410.11 L657.30,2410.62 L658.30,2411.13 L659.30,2411.63 L660.30,2412.13 L661.30,2412.62 L662.30,2413.11 L663.30,2413.59 L664.30,2414.07 L665.30,2414.55 L666.30,2415.03 L667.30,2415.51 L668.30,2415.99 L669.30,2416.47 L670.30,2416.94 L671.30,2417.42 L672.30,2417.89 L673.30,2418.36 L674.30,2418.83 L675.30,2419.29 L676.30,2419.75 L677.30,2420.20 L678.30,2420.65 L679.30,2421.10 L680.30,2421.54 L681.30,2421.98 L682.30,2422.41 L683.30,2422.84 L684.30,2423.25 L685.30,2423.67 L686.30,2424.07 L687.30,2424.47 L688.30,2424.86 L689.30,2425.24 L690.30,2425.62 L691.30,2425.98 L692.30,2426.34 L693.30,2426.69 L694.30,2427.03 L695.30,2427.35 L696.30,2427.67 L697.30,2427.98 L698.30,2428.28 L699.30,2428.56 L700.30,2428.84 L701.30,2429.10 L702.30,2429.35 L703.30,2429.59 L704.30,2429.81 L705.30,2430.03 L706.30,2430.25 L707.30,2430.47 L708.30,2430.68 L709.30,2430.89 L710.30,2431.09 L711.30,2431.30 L712.30,2431.50 L713.30,2431.69 L714.30,2431.89 L715.30,2432.08 L716.30,2432.27 L717.30,2432.45 L718.30,2432.64 L719.30,2432.82 L720.30,2432.99 L721.30,2433.17 L722.30,2433.34 L723.30,2433.51 L724.30,2433.67 L725.30,2433.84 L726.30,2434.00 L727.30,2434.15 L728.30,2434.31 L729.30,2434.46 L730.30,2434.61 L731.30,2434.76 L732.30,2434.91 L733.30,2435.05 L734.30,2435.19 L735.30,2435.33 L736.30,2435.46 L737.30,2435.59 L738.30,2435.73 L739.30,2435.85 L740.30,2435.98 L741.30,2436.10 L742.30,2436.23 L743.30,2436.34 L744.30,2436.46 L745.30,2436.58 L746.30,2436.69 L747.30,2436.80 L748.30,2436.91 L749.30,2437.01 L750.30,2437.12 L751.30,2437.22 L752.30,2437.32 L753.30,2437.42 L754.30,2437.52 L755.30,2437.61 L756.30,2437.70 L757.30,2437.79 L758.30,2437.88 L759.30,2437.97 L760.30,2438.06 L761.30,2438.14 L762.30,2438.23 L763.30,2438.31 L764.30,2438.40 L765.30,2438.48 L766.30,2438.56 L767.30,2438.64 L768.30,2438.72 L769.30,2438.80 L770.30,2438.88 L771.30,2438.96 L772.30,2439.04 L773.30,2439.12 L774.30,2439.19 L775.30,2439.27 L776.30,2439.35 L777.30,2439.42 L778.30,2439.49 L779.30,2439.56 L780.30,2439.64 L781.30,2439.71 L782.30,2439.78 L783.30,2439.85 L784.30,2439.91 L785.30,2439.98 L786.30,2440.05 L787.30,2440.11 L788.30,2440.18 L789.30,2440.24 L790.30,2440.31 L791.30,2440.37 L792.30,2440.43 L793.30,2440.49 L794.30,2440.55 L795.30,2440.61 L796.30,2440.67 L797.30,2440.72 L798.30,2440.78 L799.30,2440.83 L800.30,2440.89 L801.30,2440.94 L802.30,2440.99 L803.30,2441.04 L804.30,2441.09 L805.30,2441.14 L806.30,2441.19 L807.30,2441.23 L808.30,2441.28 L809.30,2441.32 L810.30,2441.37 L811.30,2441.41 L812.30,2441.45 L813.30,2441.49 L814.30,2441.53 L815.30,2441.57 L816.30,2441.61 L817.30,2441.64 L818.30,2441.68 L819.30,2441.71 L820.30,2441.74 L821.30,2441.78 L822.30,2441.81 L823.30,2441.83 L824.30,2441.86 L825.30,2441.89 L826.30,2441.92 L827.30,2441.94 L828.30,2441.96 L829.30,2441.99 L830.30,2442.01 L831.30,2442.03 L832.30,2442.05 L833.30,2442.06 L834.30,2442.08 L835.30,2442.10 L836.30,2442.12 L837.30,2442.13 L838.30,2442.15 L839.30,2442.16 L840.30,2442.18 L841.30,2442.19 L842.30,2442.20 L843.30,2442.22 L844.30,2442.23 L845.30,2442.24 L846.30,2442.25 L847.30,2442.26 L848.30,2442.27 L849.30,2442.28 L850.30,2442.29 L851.30,2442.30 L852.30,2442.31 L853.30,2442.31 L854.30,2442.32 L855.30,2442.33 L856.30,2442.33 L857.30,2442.34 L858.30,2442.35 L859.30,2442.35 L860.30,2442.36 L861.30,2442.36 L862.30,2442.37 L863.30,2442.37 L864.30,2442.38 L865.30,2442.38 L866.30,2442.38 L867.30,2442.39 L868.30,2442.39 L869.30,2442.40 L870.30,2442.40 L871.30,2442.40 L872.30,2442.41 L873.30,2442.41 L874.30,2442.41 L875.30,2442.41 L876.30,2442.42 L877.30,2442.42 L878.30,2442.42 L879.30,2442.42 L880.30,2442.43 L881.30,2442.43 L882.30,2442.43 L883.30,2442.43 L884.30,2442.44 L885.30,2442.44 L886.30,2442.44 L887.30,2442.45 L888.30,2442.45 L889.30,2442.45 L890.30,2442.46 L891.30,2442.46 L892.30,2442.46 L893.30,2442.47 L894.30,2442.47 L895.30,2442.48 L896.30,2442.48 L897.30,2442.49 L898.30,2442.49 L899.30,2442.50 L900.30,2442.50 L901.30,2442.51 L902.30,2442.51 L903.30,2442.52 L904.30,2442.53 L905.30,2442.53 L906.30,2442.54 L907.30,2442.54 L908.30,2442.55 L909.30,2442.56 L910.30,2442.56 L911.30,2442.57 L912.30,2442.58 L913.30,2442.58 L914.30,2442.59 L915.30,2442.60 L916.30,2442.60 L917.30,2442.61 L918.30,2442.61 L919.30,2442.62 L920.30,2442.63 L921.30,2442.63 L922.30,2442.64 L923.30,2442.65 L924.30,2442.65 L925.30,2442.66 L926.30,2442.66 L927.30,2442.67 L928.30,2442.68 L929.30,2442.68 L930.30,2442.69 L931.30,2442.69 L932.30,2442.70 L933.30,2442.71 L934.30,2442.71 L935.30,2442.72 L936.30,2442.72 L937.30,2442.73 L938.30,2442.73 L939.30,2442.74 L940.30,2442.74 L941.30,2442.74 L942.30,2442.75 L943.30,2442.75 L944.30,2442.76 L945.30,2442.76 L946.30,2442.76 L947.30,2442.77 L948.30,2442.77 L949.30,2442.77 L950.30,2442.78 L951.30,2442.78 L952.30,2442.78 L953.30,2442.78 L954.30,2442.79 L955.30,2442.79 L956.30,2442.79 L957.30,2442.79 L958.30,2442.79 L959.30,2442.79 L960.30,2442.79 L961.30,2442.79 L962.30,2442.79 L963.30,2442.79 L964.30,2442.79 L965.30,2442.79 L966.30,2442.79 L967.30,2442.79 L968.30,2442.78 L969.30,2442.78 L970.30,2442.78 L971.30,2442.78 L972.30,2442.77 L973.30,2442.77 L974.30,2442.76 L975.30,2442.76 L976.30,2442.75 L977.30,2442.75 L978.30,2442.74 L979.30,2442.74 L980.30,2442.73 L981.30,2442.72 L982.30,2442.72 L983.30,2442.71 L984.30,2442.70 L985.30,2442.69 L986.30,2442.68 L987.30,2442.67 L988.30,2442.66 L989.30,2442.65 L990.30,2442.64 L991.30,2442.63 L992.30,2442.61 L993.30,2442.60 L994.30,2442.59 L995.30,2442.57 L996.30,2442.56 L997.30,2442.54 L998.30,2442.53 L999.30,2442.51 L1000.30,2442.49 L1001.30,2442.48 L1002.30,2442.46 L1003.30,2442.44 L1004.30,2442.42 L1005.30,2442.41 L1006.30,2442.39 L1007.30,2442.37 L1008.30,2442.35 L1009.30,2442.33 L1010.30,2442.31 L1011.30,2442.29 L1012.30,2442.27 L1013.30,2442.25 L1014.30,2442.23 L1015.30,2442.21 L1016.30,2442.19 L1017.30,2442.17 L1018.30,2442.15 L1019.30,2442.12 L1020.30,2442.10 L1021.30,2442.08 L1022.30,2442.05 L1023.30,2442.03 L1024.30,2442.00 L1025.30,2441.98 L1026.30,2441.95 L1027.30,2441.93 L1028.30,2441.90 L1029.30,2441.87 L1030.30,2441.85 L1031.30,2441.82 L1032.30,2441.79 L1033.30,2441.76 L1034.30,2441.73 L1035.30,2441.70 L1036.30,2441.67 L1037.30,2441.64 L1038.30,2441.61 L1039.30,2441.57 L1040.30,2441.54 L1041.30,2441.50 L1042.30,2441.47 L1043.30,2441.43 L1044.30,2441.40 L1045.30,2441.36 L1046.30,2441.32 L1047.30,2441.28 L1048.30,2441.25 L1049.30,2441.20 L1050.30,2441.16 L1051.30,2441.12 L1052.30,2441.08 L1053.30,2441.04 L1054.30,2440.99 L1055.30,2440.95 L1056.30,2440.90 L1057.30,2440.85 L1058.30,2440.80 L1059.30,2440.76 L1060.30,2440.70 L1061.30,2440.65 L1062.30,2440.60 L1063.30,2440.55 L1064.30,2440.49 L1065.30,2440.44 L1066.30,2440.38 L1067.30,2440.32 L1068.30,2440.27 L1069.30,2440.20 L1070.30,2440.14 L1071.30,2440.08 L1072.30,2440.02 L1073.30,2439.95 L1074.30,2439.89 L1075.30,2439.82 L1076.30,2439.75 L1077.30,2439.68 L1078.30,2439.61 L1079.30,2439.53 L1080.30,2439.46 L1081.30,2439.38 L1082.30,2439.30 L1083.30,2439.22 L1084.30,2439.14 L1085.30,2439.06 L1086.30,2438.98 L1087.30,2438.89 L1088.30,2438.80 L1089.30,2438.71 L1090.30,2438.62 L1091.30,2438.53 L1092.30,2438.43 L1093.30,2438.34 L1094.30,2438.24 L1095.30,2438.14 L1096.30,2438.03 L1097.30,2437.93 L1098.30,2437.82 L1099.30,2437.71 L1100.30,2437.60 L1101.30,2437.49 L1102.30,2437.37 L1103.30,2437.25 L1104.30,2437.13 L1105.30,2437.01 L1106.30,2436.89 L1107.30,2436.76 L1108.30,2436.63 L1109.30,2436.49 L1110.30,2436.36 L1111.30,2436.22 L1112.30,2436.08 L1113.30,2435.93 L1114.30,2435.79 L1115.30,2435.64 L1116.30,2435.48 L1117.30,2435.33 L1118.30,2435.17 L1119.30,2435.01 L1120.30,2434.84 L1121.30,2434.67 L1122.30,2434.50 L1123.30,2434.32 L1124.30,2434.14 L1125.30,2433.96 L1126.30,2433.77 L1127.30,2433.58 L1128.30,2433.38 L1129.30,2433.18 L1130.30,2432.98 L1131.30,2432.77 L1132.30,2432.55 L1133.30,2432.32 L1134.30,2432.08 L1135.30,2431.83 L1136.30,2431.57 L1137.30,2431.30 L1138.30,2431.02 L1139.30,2430.73 L1140.30,2430.43 L1141.30,2430.13 L1142.30,2429.81 L1143.30,2429.48 L1144.30,2429.14 L1145.30,2428.80 L1146.30,2428.44 L1147.30,2428.07 L1148.30,2427.70 L1149.30,2427.31 L1150.30,2426.92 L1151.30,2426.51 L1152.30,2426.09 L1153.30,2425.67 L1154.30,2425.23 L1155.30,2424.78 L1156.30,2424.32 L1157.30,2423.85 L1158.30,2423.37 L1159.30,2422.88 L1160.30,2422.38 L1161.30,2421.86 L1162.30,2421.34 L1163.30,2420.80 L1164.30,2420.25 L1165.30,2419.69 L1166.30,2419.11 L1167.30,2418.52 L1168.30,2417.92 L1169.30,2417.31 L1170.30,2416.68 L1171.30,2416.04 L1172.30,2415.38 L1173.30,2414.71 L1174.30,2414.03 L1175.30,2413.33 L1176.30,2412.61 L1177.30,2411.87 L1178.30,2411.11 L1179.30,2410.30 L1180.30,2409.44 L1181.30,2408.53 L1182.30,2407.59 L1183.30,2406.60 L1184.30,2405.56 L1185.30,2404.49 L1186.30,2403.38 L1187.30,2402.24 L1188.30,2401.06 L1189.30,2399.84 L1190.30,2398.59 L1191.30,2397.31 L1192.30,2395.99 L1193.30,2394.64 L1194.30,2393.27 L1195.30,2391.86 L1196.30,2390.42 L1197.30,2388.96 L1198.30,2387.46 L1199.30,2385.94 L1200.30,2384.39 L1201.30,2382.81 L1202.30,2381.20 L1202.70,2380.55 L1202.95,2380.14 L1203.20,2379.73 L1203.30,2379.56 L1203.45,2379.32 L1203.70,2378.90 L1203.95,2378.48 L1204.20,2378.06 L1204.30,2377.90 L1204.45,2377.64 L1204.70,2377.22 L1204.95,2376.80 L1205.20,2376.37 L1205.30,2376.20 L1205.45,2375.94 L1205.70,2375.51 L1205.95,2375.08 L1206.20,2374.64 L1206.30,2374.47 L1206.45,2374.20 L1206.70,2373.76 L1206.95,2373.32 L1207.20,2372.88 L1207.30,2372.70 L1207.45,2372.43 L1207.70,2371.99 L1207.95,2371.54 L1208.20,2371.08 L1208.30,2370.90 L1208.45,2370.63 L1208.70,2370.17 L1208.95,2369.71 L1209.20,2369.25 L1209.30,2369.07 L1209.45,2368.79 L1209.70,2368.32 L1209.95,2367.85 L1210.20,2367.38 L1210.30,2367.19 L1210.45,2366.90 L1210.70,2366.43 L1210.95,2365.95 L1211.20,2365.48 L1211.30,2365.28 L1211.45,2365.00 L1211.70,2364.52 L1211.95,2364.03 L1212.20,2363.55 L1212.30,2363.35 L1212.45,2363.06 L1212.70,2362.57 L1212.95,2362.08 L1213.20,2361.58 L1213.30,2361.38 L1213.45,2361.08 L1213.70,2360.58 L1213.95,2360.07 L1214.20,2359.56 L1214.30,2359.35 L1214.45,2359.04 L1214.70,2358.51 L1214.95,2357.98 L1215.20,2357.45 L1215.30,2357.23 L1215.45,2356.91 L1215.70,2356.36 L1215.95,2355.81 L1216.20,2355.24 L1216.30,2355.02 L1216.45,2354.67 L1216.70,2354.10 L1216.95,2353.51 L1217.20,2352.92 L1217.30,2352.68 L1217.45,2352.31 L1217.70,2351.70 L1217.95,2351.08 L1218.20,2350.45 L1218.30,2350.19 L1218.45,2349.81 L1218.70,2349.16 L1218.95,2348.49 L1219.20,2347.82 L1219.30,2347.54 L1219.45,2347.13 L1219.70,2346.43 L1219.95,2345.72 L1220.20,2345.00 L1220.30,2344.71 L1220.45,2344.26 L1220.70,2343.51 L1220.95,2342.75 L1221.20,2341.97 L1221.30,2341.65 L1221.45,2341.17 L1221.70,2340.36 L1221.95,2339.54 L1222.20,2338.70 L1222.30,2338.36 L1222.45,2337.85 L1222.70,2336.98 L1222.95,2336.10 L1223.20,2335.21 L1223.30,2334.85 L1223.45,2334.30 L1223.70,2333.38 L1223.95,2332.45 L1224.20,2331.51 L1224.30,2331.12 L1224.45,2330.55 L1224.70,2329.57 L1224.95,2328.59 L1225.20,2327.58 L1225.30,2327.18 L1225.45,2326.57 L1225.70,2325.53 L1225.95,2324.48 L1226.20,2323.42 L1226.30,2322.99 L1226.45,2322.34 L1226.70,2321.24 L1226.95,2320.13 L1227.20,2318.99 L1227.30,2318.54 L1227.45,2317.84 L1227.70,2316.68 L1227.95,2315.49 L1228.20,2314.28 L1228.30,2313.80 L1228.45,2313.06 L1228.70,2311.82 L1228.95,2310.55 L1229.20,2309.27 L1229.30,2308.75 L1229.45,2307.96 L1229.70,2306.64 L1229.95,2305.29 L1230.20,2303.92 L1230.30,2303.36 L1230.45,2302.53 L1230.70,2301.11 L1230.95,2299.67 L1231.20,2298.20 L1231.30,2297.61 L1231.45,2296.71 L1231.70,2295.20 L1231.95,2293.66 L1232.20,2292.09 L1232.30,2291.45 L1232.45,2290.49 L1232.70,2288.87 L1232.95,2287.22 L1233.20,2285.54 L1233.30,2284.86 L1233.45,2283.83 L1233.70,2282.09 L1233.95,2280.31 L1234.20,2278.51 L1234.30,2277.78 L1234.45,2276.67 L1234.70,2274.80 L1234.95,2272.89 L1235.20,2270.95 L1235.30,2270.16 L1235.45,2268.97 L1235.70,2266.96 L1235.95,2264.90 L1236.20,2262.81 L1236.30,2261.96 L1236.45,2260.68 L1236.70,2258.50 L1236.95,2256.29 L1237.20,2254.03 L1237.30,2253.11 L1237.45,2251.72 L1237.70,2249.37 L1237.95,2246.98 L1238.20,2244.53 L1238.30,2243.54 L1238.45,2242.04 L1238.70,2239.49 L1238.95,2236.89 L1239.20,2234.24 L1239.30,2233.16 L1239.45,2231.53 L1239.70,2228.77 L1239.95,2225.95 L1240.20,2223.07 L1240.30,2221.90 L1240.45,2220.12 L1240.70,2217.12 L1240.95,2214.04 L1241.20,2210.91 L1241.30,2209.63 L1241.45,2207.70 L1241.70,2204.42 L1241.95,2201.07 L1242.20,2197.64 L1242.30,2196.25 L1242.45,2194.13 L1242.70,2190.55 L1242.95,2186.88 L1243.20,2183.13 L1243.30,2181.60 L1243.45,2179.29 L1243.70,2175.36 L1243.95,2171.34 L1244.20,2167.22 L1244.30,2165.54 L1244.45,2163.00 L1244.70,2158.68 L1244.95,2154.26 L1245.20,2149.72 L1245.30,2147.88 L1245.45,2145.08 L1245.70,2140.32 L1245.95,2135.44 L1246.20,2130.44 L1246.30,2128.40 L1246.45,2125.31 L1246.70,2120.05 L1246.95,2114.65 L1247.20,2109.12 L1247.30,2106.87 L1247.45,2103.44 L1247.70,2097.61 L1247.95,2091.63 L1248.20,2085.49 L1248.30,2082.98 L1248.45,2079.18 L1248.70,2072.70 L1248.95,2066.05 L1249.20,2059.22 L1249.30,2056.43 L1249.45,2052.20 L1249.70,2044.98 L1249.95,2037.57 L1250.20,2029.95 L1250.30,2026.84 L1250.45,2022.11 L1250.70,2014.05 L1250.95,2005.77 L1251.20,1997.25 L1251.30,1993.77 L1251.45,1988.48 L1251.70,1979.47 L1251.95,1970.20 L1252.20,1960.65 L1252.30,1956.76 L1252.45,1950.84 L1252.70,1940.74 L1252.95,1930.34 L1253.20,1919.65 L1253.30,1915.28 L1253.45,1908.64 L1253.70,1897.32 L1253.95,1885.67 L1254.20,1873.69 L1254.30,1868.80 L1254.45,1861.36 L1254.70,1848.68 L1254.95,1835.64 L1255.20,1822.24 L1255.30,1816.78 L1255.45,1808.47 L1255.70,1794.31 L1255.95,1779.78 L1256.20,1764.86 L1256.30,1758.79 L1256.45,1749.56 L1256.70,1733.87 L1256.95,1717.79 L1257.20,1701.33 L1257.30,1694.65 L1257.45,1684.51 L1257.70,1667.32 L1257.95,1649.78 L1258.20,1631.91 L1258.30,1624.68 L1258.45,1613.74 L1258.70,1595.30 L1258.95,1576.62 L1259.20,1557.75 L1259.30,1550.16 L1259.45,1538.74 L1259.70,1519.65 L1259.95,1500.57 L1260.20,1481.58 L1260.30,1474.04 L1260.45,1462.79 L1260.70,1444.33 L1260.95,1426.33 L1261.20,1408.99 L1261.30,1402.27 L1261.45,1392.50 L1261.70,1377.12 L1261.95,1363.17 L1262.20,1351.11 L1262.30,1346.94 L1262.45,1341.59 L1262.70,1336.30 L1262.95,1341.51 L1263.20,1350.95 L1263.30,1355.48 L1263.45,1362.93 L1263.70,1376.79 L1263.95,1392.09 L1264.20,1408.50 L1264.30,1415.32 L1264.45,1425.77 L1264.70,1443.68 L1264.95,1462.07 L1265.20,1480.78 L1265.30,1488.32 L1265.45,1499.69 L1265.70,1518.69 L1265.95,1537.69 L1266.20,1556.62 L1266.30,1564.16 L1266.45,1575.41 L1266.70,1594.01 L1266.95,1612.38 L1267.20,1630.47 L1267.30,1637.62 L1267.45,1648.25 L1267.70,1665.71 L1267.95,1682.82 L1268.20,1699.57 L1268.30,1706.16 L1268.45,1715.94 L1268.70,1731.94 L1268.95,1747.55 L1269.20,1762.77 L1269.30,1768.76 L1269.45,1777.61 L1269.70,1792.07 L1269.95,1806.14 L1270.20,1819.84 L1270.30,1825.21 L1270.45,1833.16 L1270.70,1846.12 L1270.95,1858.72 L1271.20,1870.97 L1271.30,1875.77 L1271.45,1882.87 L1271.70,1894.44 L1271.95,1905.69 L1272.20,1916.61 L1272.30,1920.90 L1272.45,1927.23 L1272.70,1937.54 L1272.95,1947.57 L1273.20,1957.30 L1273.30,1961.12 L1273.45,1966.77 L1273.70,1975.96 L1273.95,1984.90 L1274.20,1993.59 L1274.30,1996.99 L1274.45,2002.03 L1274.70,2010.24 L1274.95,2018.22 L1275.20,2025.98 L1275.30,2029.02 L1275.45,2033.52 L1275.70,2040.86 L1275.95,2048.00 L1276.20,2054.94 L1276.30,2057.67 L1276.45,2061.70 L1276.70,2068.27 L1276.95,2074.68 L1277.20,2080.91 L1277.30,2083.35 L1277.45,2086.97 L1277.70,2092.88 L1277.95,2098.63 L1278.20,2104.24 L1278.30,2106.44 L1278.45,2109.70 L1278.70,2115.02 L1278.95,2120.20 L1279.20,2125.26 L1279.30,2127.24 L1279.45,2130.18 L1279.70,2134.99 L1279.95,2139.67 L1280.20,2144.25 L1280.30,2146.04 L1280.45,2148.70 L1280.70,2153.06 L1280.95,2157.30 L1281.20,2161.45 L1281.30,2163.08 L1281.45,2165.49 L1281.70,2169.44 L1281.95,2173.30 L1282.20,2177.07 L1282.30,2178.55 L1282.45,2180.75 L1282.70,2184.34 L1282.95,2187.86 L1283.20,2191.29 L1283.30,2192.64 L1283.45,2194.65 L1283.70,2197.93 L1283.95,2201.14 L1284.20,2204.28 L1284.30,2205.51 L1284.45,2207.35 L1284.70,2210.35 L1284.95,2213.29 L1285.20,2216.16 L1285.30,2217.29 L1285.45,2218.97 L1285.70,2221.73 L1285.95,2224.42 L1286.20,2227.06 L1286.30,2228.10 L1286.45,2229.64 L1286.70,2232.17 L1286.95,2234.65 L1287.20,2237.08 L1287.30,2238.04 L1287.45,2239.46 L1287.70,2241.79 L1287.95,2244.07 L1288.20,2246.31 L1288.30,2247.20 L1288.45,2248.51 L1288.70,2250.66 L1288.95,2252.77 L1289.20,2254.84 L1289.30,2255.65 L1289.45,2256.86 L1289.70,2258.85 L1289.95,2260.80 L1290.20,2262.72 L1290.30,2263.48 L1290.45,2264.60 L1290.70,2266.44 L1290.95,2268.25 L1291.20,2270.03 L1291.30,2270.73 L1291.45,2271.77 L1291.70,2273.48 L1291.95,2275.16 L1292.20,2276.81 L1292.30,2277.46 L1292.45,2278.43 L1292.70,2280.02 L1292.95,2281.59 L1293.20,2283.12 L1293.30,2283.73 L1293.45,2284.63 L1293.70,2286.11 L1293.95,2287.57 L1294.20,2289.00 L1294.30,2289.57 L1294.45,2290.41 L1294.70,2291.79 L1294.95,2293.15 L1295.20,2294.49 L1295.30,2295.02 L1295.45,2295.80 L1295.70,2297.10 L1295.95,2298.37 L1296.20,2299.62 L1296.30,2300.11 L1296.45,2300.85 L1296.70,2302.06 L1296.95,2303.25 L1297.20,2304.42 L1297.30,2304.88 L1297.45,2305.57 L1297.70,2306.70 L1297.95,2307.82 L1298.20,2308.91 L1298.30,2309.35 L1298.45,2309.99 L1298.70,2311.06 L1298.95,2312.11 L1299.20,2313.14 L1299.30,2313.54 L1299.45,2314.15 L1299.70,2315.15 L1299.95,2316.13 L1300.20,2317.10 L1300.30,2317.49 L1300.45,2318.06 L1300.70,2319.00 L1300.95,2319.92 L1301.20,2320.84 L1301.30,2321.20 L1301.45,2321.74 L1301.70,2322.62 L1301.95,2323.49 L1302.20,2324.35 L1302.30,2324.69 L1302.45,2325.20 L1302.70,2326.04 L1302.95,2326.86 L1303.20,2327.67 L1303.30,2327.99 L1303.45,2328.47 L1303.70,2329.26 L1303.95,2330.04 L1304.20,2330.80 L1304.30,2331.11 L1304.45,2331.56 L1304.70,2332.30 L1304.95,2333.04 L1305.20,2333.76 L1305.30,2334.05 L1305.45,2334.48 L1305.70,2335.18 L1305.95,2335.88 L1306.20,2336.57 L1306.30,2336.84 L1306.45,2337.24 L1306.70,2337.91 L1306.95,2338.57 L1307.20,2339.22 L1307.30,2339.48 L1307.45,2339.86 L1307.70,2340.49 L1307.95,2341.11 L1308.20,2341.72 L1308.30,2341.97 L1308.45,2342.33 L1308.70,2342.92 L1308.95,2343.51 L1309.20,2344.09 L1309.30,2344.31 L1309.45,2344.65 L1309.70,2345.22 L1309.95,2345.77 L1310.20,2346.31 L1310.30,2346.53 L1310.45,2346.85 L1310.70,2347.38 L1310.95,2347.90 L1311.20,2348.42 L1311.30,2348.62 L1311.45,2348.93 L1311.70,2349.43 L1311.95,2349.92 L1312.20,2350.41 L1312.30,2350.60 L1312.45,2350.89 L1312.70,2351.36 L1312.95,2351.83 L1313.20,2352.29 L1313.30,2352.47 L1313.45,2352.74 L1313.70,2353.19 L1313.95,2353.64 L1314.20,2354.07 L1314.30,2354.25 L1314.45,2354.50 L1314.70,2354.93 L1314.95,2355.35 L1315.20,2355.76 L1315.30,2355.93 L1315.45,2356.17 L1315.70,2356.57 L1315.95,2356.97 L1316.20,2357.37 L1316.30,2357.52 L1316.45,2357.76 L1316.70,2358.14 L1316.95,2358.52 L1317.20,2358.89 L1317.30,2359.04 L1317.45,2359.26 L1317.70,2359.63 L1317.95,2359.99 L1318.20,2360.34 L1318.30,2360.49 L1318.45,2360.70 L1318.70,2361.04 L1318.95,2361.39 L1319.20,2361.73 L1319.30,2361.86 L1319.45,2362.06 L1319.70,2362.40 L1319.95,2362.73 L1320.20,2363.05 L1320.30,2363.18 L1320.45,2363.37 L1320.70,2363.69 L1320.95,2364.00 L1321.20,2364.31 L1321.30,2364.44 L1321.45,2364.62 L1321.70,2364.93 L1321.95,2365.23 L1322.20,2365.53 L1322.30,2365.65 L1322.45,2365.82 L1323.30,2366.80 L1324.30,2367.92 L1325.30,2369.00 L1326.30,2370.04 L1327.30,2371.05 L1328.30,2372.04 L1329.30,2373.00 L1330.30,2373.94 L1331.30,2374.86 L1332.30,2375.77 L1333.30,2376.67 L1334.30,2377.54 L1335.30,2378.39 L1336.30,2379.21 L1337.30,2380.00 L1338.30,2380.77 L1339.30,2381.52 L1340.30,2382.25 L1341.30,2382.95 L1342.30,2383.64 L1343.30,2384.30 L1344.30,2384.95 L1345.30,2385.58 L1346.30,2386.19 L1347.30,2386.78 L1348.30,2387.36 L1349.30,2387.92 L1350.30,2388.47 L1351.30,2389.00 L1352.30,2389.52 L1353.30,2390.02 L1354.30,2390.51 L1355.30,2390.98 L1356.30,2391.44 L1357.30,2391.89 L1358.30,2392.33 L1359.30,2392.76 L1360.30,2393.17 L1361.30,2393.57 L1362.30,2393.96 L1363.30,2394.34 L1364.30,2394.70 L1365.30,2395.06 L1366.30,2395.40 L1367.30,2395.74 L1368.30,2396.07 L1369.30,2396.38 L1370.30,2396.70 L1371.30,2397.00 L1372.30,2397.29 L1373.30,2397.58 L1374.30,2397.87 L1375.30,2398.14 L1376.30,2398.41 L1377.30,2398.67 L1378.30,2398.92 L1379.30,2399.17 L1380.30,2399.42 L1381.30,2399.65 L1382.30,2399.88 L1383.30,2400.11 L1384.30,2400.33 L1385.30,2400.54 L1386.30,2400.75 L1387.30,2400.96 L1388.30,2401.16 L1389.30,2401.35 L1390.30,2401.54 L1391.30,2401.72 L1392.30,2401.90 L1393.30,2402.08 L1394.30,2402.25 L1395.30,2402.42 L1396.30,2402.58 L1397.30,2402.73 L1398.30,2402.89 L1399.30,2403.04 L1400.30,2403.18 L1401.30,2403.32 L1402.30,2403.46 L1403.30,2403.59 L1404.30,2403.72 L1405.30,2403.84 L1406.30,2403.97 L1407.30,2404.08 L1408.30,2404.20 L1409.30,2404.31 L1410.30,2404.41 L1411.30,2404.51 L1412.30,2404.61 L1413.30,2404.71 L1414.30,2404.80 L1415.30,2404.89 L1416.30,2404.97 L1417.30,2405.05 L1418.30,2405.12 L1419.30,2405.19 L1420.30,2405.25 L1421.30,2405.31 L1422.30,2405.37 L1423.30,2405.42 L1424.30,2405.47 L1425.30,2405.52 L1426.30,2405.56 L1427.30,2405.60 L1428.30,2405.63 L1429.30,2405.66 L1430.30,2405.69 L1431.30,2405.72 L1432.30,2405.74 L1433.30,2405.76 L1434.30,2405.78 L1435.30,2405.79 L1436.30,2405.80 L1437.30,2405.81 L1438.30,2405.82 L1439.30,2405.82 L1440.30,2405.82 L1441.30,2405.82 L1442.30,2405.82 L1443.30,2405.81 L1444.30,2405.81 L1445.30,2405.80 L1446.30,2405.79 L1447.30,2405.77 L1448.30,2405.76 L1449.30,2405.74 L1450.30,2405.73 L1451.30,2405.71 L1452.30,2405.69 L1453.30,2405.67 L1454.30,2405.65 L1455.30,2405.62 L1456.30,2405.60 L1457.30,2405.57 L1458.30,2405.55 L1459.30,2405.52 L1460.30,2405.49 L1461.30,2405.46 L1462.30,2405.43 L1463.30,2405.40 L1464.30,2405.37 L1465.30,2405.33 L1466.30,2405.30 L1467.30,2405.26 L1468.30,2405.22 L1469.30,2405.18 L1470.30,2405.14 L1471.30,2405.10 L1472.30,2405.05 L1473.30,2405.01 L1474.30,2404.96 L1475.30,2404.91 L1476.30,2404.85 L1477.30,2404.80 L1478.30,2404.74 L1479.30,2404.68 L1480.30,2404.62 L1481.30,2404.56 L1482.30,2404.49 L1483.30,2404.43 L1484.30,2404.36 L1485.30,2404.29 L1486.30,2404.21 L1487.30,2404.13 L1488.30,2404.05 L1489.30,2403.97 L1490.30,2403.89 L1491.30,2403.80 L1492.30,2403.71 L1493.30,2403.62 L1494.30,2403.52 L1495.30,2403.42 L1496.30,2403.32 L1497.30,2403.21 L1498.30,2403.11 L1499.30,2402.99 L1500.30,2402.88 L1501.30,2402.76 L1502.30,2402.64 L1503.30,2402.52 L1504.30,2402.40 L1505.30,2402.27 L1506.30,2402.14 L1507.30,2402.00 L1508.30,2401.86 L1509.30,2401.72 L1510.30,2401.58 L1511.30,2401.43 L1512.30,2401.29 L1513.30,2401.13 L1514.30,2400.98 L1515.30,2400.82 L1516.30,2400.66 L1517.30,2400.50 L1518.30,2400.33 L1519.30,2400.16 L1520.30,2399.99 L1521.30,2399.82 L1522.30,2399.64 L1523.30,2399.46 L1524.30,2399.28 L1525.30,2399.09 L1526.30,2398.90 L1527.30,2398.71 L1528.30,2398.51 L1529.30,2398.32 L1530.30,2398.12 L1531.30,2397.91 L1532.30,2397.71 L1533.30,2397.50 L1534.30,2397.29 L1535.30,2397.07 L1536.30,2396.86 L1537.30,2396.64 L1538.30,2396.41 L1539.30,2396.19 L1540.30,2395.96 L1541.30,2395.73 L1542.30,2395.50 L1543.30,2395.26 L1544.30,2395.01 L1545.30,2394.76 L1546.30,2394.51 L1547.30,2394.25 L1548.30,2393.99 L1549.30,2393.72 L1550.30,2393.44 L1551.30,2393.17 L1552.30,2392.89 L1553.30,2392.60 L1554.30,2392.31 L1555.30,2392.01 L1556.30,2391.71 L1557.30,2391.41 L1558.30,2391.10 L1559.30,2390.78 L1560.30,2390.47 L1561.30,2390.14 L1562.30,2389.82 L1563.30,2389.48 L1564.30,2389.15 L1565.30,2388.81 L1566.30,2388.46 L1567.30,2388.11 L1568.30,2387.76 L1569.30,2387.40 L1570.30,2387.04 L1571.30,2386.67 L1572.30,2386.30 L1573.30,2385.92 L1574.30,2385.54 L1575.30,2385.16 L1576.30,2384.77 L1577.30,2384.38 L1578.30,2383.98 L1579.30,2383.58 L1580.30,2383.17 L1581.30,2382.76 L1582.30,2382.35 L1583.30,2381.93 L1584.30,2381.50 L1585.30,2381.08 L1586.30,2380.64 L1587.30,2380.21 L1588.30,2379.77 L1589.30,2379.32 L1590.30,2378.87 L1591.30,2378.41 L1592.30,2377.95 L1593.30,2377.48 L1594.30,2377.00 L1595.30,2376.52 L1596.30,2376.04 L1597.30,2375.54 L1598.30,2375.04 L1599.30,2374.53 L1600.30,2374.02 L1601.30,2373.50 L1602.30,2372.97 L1603.30,2372.44 L1604.30,2371.89 L1605.30,2371.34 L1606.30,2370.78 L1607.30,2370.22 L1608.30,2369.64 L1609.30,2369.06 L1610.30,2368.47 L1611.30,2367.87 L1612.30,2367.26 L1613.30,2366.64 L1614.30,2366.01 L1615.30,2365.37 L1616.30,2364.73 L1617.30,2364.07 L1618.30,2363.41 L1619.30,2362.73 L1620.30,2362.05 L1621.30,2361.35 L1622.30,2360.64 L1623.30,2359.93 L1624.30,2359.20 L1625.30,2358.46 L1626.30,2357.71 L1627.30,2356.95 L1628.30,2356.18 L1629.30,2355.39 L1630.30,2354.60 L1631.30,2353.79 L1632.30,2352.97 L1633.30,2352.12 L1634.30,2351.24 L1635.30,2350.32 L1636.30,2349.38 L1637.30,2348.40 L1638.30,2347.40 L1639.30,2346.37 L1640.30,2345.31 L1641.30,2344.23 L1642.30,2343.12 L1643.30,2341.99 L1644.30,2340.83 L1645.30,2339.65 L1646.30,2338.45 L1647.30,2337.23 L1648.30,2335.99 L1649.30,2334.73 L1650.30,2333.45 L1651.30,2332.15 L1652.30,2330.84 L1653.30,2329.51 L1654.30,2328.17 L1655.30,2326.81 L1656.30,2325.44 L1657.30,2324.06 L1658.30,2322.67 L1659.30,2321.26 L1660.30,2319.85 L1661.30,2318.43 L1662.30,2317.00 L1663.30,2315.55 L1664.30,2314.06 L1665.30,2312.55 L1666.30,2310.99 L1667.30,2309.41 L1668.30,2307.80 L1669.30,2306.16 L1670.30,2304.49 L1671.30,2302.79 L1672.30,2301.07 L1673.30,2299.33 L1674.30,2297.56 L1675.30,2295.77 L1676.30,2293.95 L1677.30,2292.12 L1678.30,2290.27 L1679.30,2288.40 L1680.30,2286.51 L1681.30,2284.61 L1682.30,2282.69 L1683.30,2280.76 L1684.30,2278.81 L1685.30,2276.86 L1686.30,2274.89 L1687.30,2272.92 L1688.30,2270.94 L1689.30,2268.94 L1690.30,2266.94 L1691.30,2264.92 L1692.30,2262.88 L1693.30,2260.82 L1694.30,2258.75 L1695.30,2256.65 L1696.30,2254.53 L1697.30,2252.38 L1698.30,2250.21 L1699.30,2248.00 L1700.30,2245.77 L1701.30,2243.50 L1702.30,2241.19 L1703.30,2238.85 L1704.30,2236.47 L1705.30,2234.04 L1706.30,2231.58 L1707.30,2229.07 L1708.30,2226.51 L1709.30,2223.90 L1710.30,2221.25 L1711.30,2218.53 L1712.30,2215.71 L1713.30,2212.78 L1714.30,2209.75 L1715.30,2206.63 L1716.30,2203.43 L1717.30,2200.16 L1718.30,2196.83 L1719.30,2193.43 L1720.30,2189.99 L1721.30,2186.51 L1722.30,2183.00 L1723.30,2179.47 L1724.30,2175.92 L1725.30,2172.37 L1726.30,2168.81 L1727.30,2165.27 L1728.30,2161.75 L1729.30,2158.26 L1730.30,2154.81 L1731.30,2151.41 L1732.30,2148.05 L1733.30,2144.70 L1734.30,2141.36 L1735.30,2138.01 L1736.30,2134.63 L1737.30,2131.22 L1738.30,2127.77 L1739.30,2124.24 L1740.30,2120.64 L1741.30,2116.95 L1742.30,2113.16 L1743.30,2109.24 L1744.30,2105.20 L1745.30,2101.01 L1746.30,2096.66 L1747.30,2092.14 L1748.30,2087.33 L1749.30,2082.21 L1750.30,2076.78 L1751.30,2071.11 L1752.30,2065.21 L1753.30,2059.12 L1754.30,2052.88 L1755.30,2046.52 L1756.30,2040.08 L1757.30,2033.59 L1758.30,2027.08 L1759.30,2020.60 L1760.30,2014.16 L1761.30,2007.82 L1762.30,2001.60 L1763.30,1995.62 L1764.30,1989.92 L1765.30,1984.39 L1766.30,1978.94 L1767.30,1973.48 L1768.30,1967.90 L1769.30,1962.12 L1770.30,1956.03 L1771.30,1949.53 L1772.30,1942.54 L1773.30,1934.95 L1774.30,1926.67 L1775.30,1916.83 L1776.30,1904.77 L1777.30,1891.35 L1778.30,1877.42 L1779.30,1863.84 L1780.30,1851.39 L1781.30,1839.41 L1782.30,1827.56 L1783.30,1815.85 L1784.30,1804.29 L1785.30,1792.88 L1786.30,1781.66 L1787.30,1770.61 L1788.30,1759.77 L1789.30,1749.06 L1790.30,1738.38 L1791.30,1727.77 L1792.30,1717.25 L1793.30,1706.86 L1794.30,1696.62 L1795.30,1686.57 L1796.30,1676.74 L1797.30,1667.17 L1798.30,1657.87 L1799.30,1648.89 L1800.30,1640.24 L1801.30,1631.87 L1802.30,1623.72 L1803.30,1615.79 L1804.30,1608.05 L1805.30,1600.48 L1806.30,1593.08 L1807.30,1585.82 L1808.30,1578.68 L1809.30,1571.65 L1810.30,1564.71 L1811.30,1557.85 L1812.30,1551.03 L1813.30,1544.22 L1814.30,1537.45 L1815.30,1530.74 L1816.30,1524.12 L1817.30,1517.63 L1818.30,1511.29 L1819.30,1505.12 L1820.30,1499.16 L1821.30,1493.44 L1822.30,1487.97 L1823.30,1482.79 L1824.30,1477.78 L1825.30,1472.84 L1826.30,1468.00 L1827.30,1463.29 L1828.30,1458.72 L1829.30,1454.32 L1830.30,1450.11 L1831.30,1446.11 L1832.30,1442.35 L1833.30,1438.84 L1834.30,1435.60 L1835.30,1432.64 L1836.30,1429.78 L1837.30,1426.98 L1838.30,1424.27 L1839.30,1421.63 L1840.30,1419.07 L1841.30,1416.60 L1842.30,1414.22 L1843.30,1411.94 L1844.30,1409.75 L1845.30,1407.67 L1846.30,1405.69 L1847.30,1403.83 L1848.30,1402.07 L1849.30,1400.44 L1850.30,1398.92 L1851.30,1397.54 L1852.30,1396.28 L1853.30,1395.12 L1854.30,1394.03 L1855.30,1392.99 L1856.30,1392.02 L1857.30,1391.10 L1858.30,1390.22 L1859.30,1389.39 L1860.30,1388.59 L1861.30,1387.82 L1862.30,1387.08 L1863.30,1386.36 L1864.30,1385.65 L1865.30,1384.94 L1866.30,1384.25 L1867.30,1383.55 L1868.30,1382.84 L1869.30,1382.12 L1870.30,1381.39 L1871.30,1380.66 L1872.30,1379.95 L1873.30,1379.24 L1874.30,1378.54 L1875.30,1377.85 L1876.30,1377.16 L1877.30,1376.49 L1878.30,1375.83 L1879.30,1375.17 L1880.30,1374.53 L1881.30,1373.89 L1882.30,1373.27 L1883.30,1372.65 L1884.30,1372.05 L1885.30,1371.45 L1886.30,1370.87 L1887.30,1370.30" fill="none" stroke="#00ffff" stroke-width="4.6" stroke-linejoin="round"/>
<path d="M298.30,1428.70 L299.30,1434.95 L300.30,1441.19 L301.30,1447.44 L302.30,1453.68 L303.30,1459.92 L304.30,1466.15 L305.30,1472.38 L306.30,1478.61 L307.30,1484.83 L308.30,1491.04 L309.30,1497.26 L310.30,1503.48 L311.30,1509.70 L312.30,1515.93 L313.30,1522.17 L314.30,1528.43 L315.30,1534.70 L316.30,1540.98 L317.30,1547.28 L318.30,1553.58 L319.30,1559.89 L320.30,1566.20 L321.30,1572.50 L322.30,1578.79 L323.30,1585.07 L324.30,1591.33 L325.30,1597.60 L326.30,1603.87 L327.30,1610.14 L328.30,1616.40 L329.30,1622.64 L330.30,1628.87 L331.30,1635.07 L332.30,1641.24 L333.30,1647.38 L334.30,1653.52 L335.30,1659.77 L336.30,1666.07 L337.30,1672.40 L338.30,1678.72 L339.30,1684.98 L340.30,1691.17 L341.30,1697.23 L342.30,1703.13 L343.30,1708.83 L344.30,1714.30 L345.30,1719.50 L346.30,1724.47 L347.30,1729.40 L348.30,1734.29 L349.30,1739.13 L350.30,1743.87 L351.30,1748.52 L352.30,1753.04 L353.30,1757.41 L354.30,1761.62 L355.30,1765.64 L356.30,1769.45 L357.30,1773.03 L358.30,1776.37 L359.30,1779.43 L360.30,1782.21 L361.30,1784.91 L362.30,1787.57 L363.30,1790.18 L364.30,1792.72 L365.30,1795.17 L366.30,1797.52 L367.30,1799.74 L368.30,1801.82 L369.30,1803.74 L370.30,1805.47 L371.30,1807.01 L372.30,1808.34 L373.30,1809.43 L374.30,1810.26 L375.30,1810.91 L376.30,1811.53 L377.30,1812.13 L378.30,1812.69 L379.30,1813.20 L380.30,1813.68 L381.30,1814.09 L382.30,1814.46 L383.30,1814.75 L384.30,1814.98 L385.30,1815.13 L386.30,1815.20 L387.30,1815.15 L388.30,1814.91 L389.30,1814.51 L390.30,1813.94 L391.30,1813.24 L392.30,1812.42 L393.30,1811.50 L394.30,1810.50 L395.30,1809.43 L396.30,1808.32 L397.30,1807.19 L398.30,1806.05 L399.30,1804.89 L400.30,1803.55 L401.30,1802.04 L402.30,1800.36 L403.30,1798.54 L404.30,1796.59 L405.30,1794.51 L406.30,1792.33 L407.30,1790.05 L408.30,1787.69 L409.30,1785.26 L410.30,1782.78 L411.30,1780.26 L412.30,1777.72 L413.30,1775.16 L414.30,1772.60 L415.30,1770.06 L416.30,1767.47 L417.30,1764.68 L418.30,1761.70 L419.30,1758.58 L420.30,1755.38 L421.30,1752.12 L422.30,1748.86 L423.30,1745.65 L424.30,1742.51 L425.30,1739.51 L426.30,1736.68 L427.30,1734.07 L428.30,1731.62 L429.30,1729.00 L430.30,1726.30 L431.30,1723.66 L432.30,1721.21 L433.30,1719.10 L434.30,1717.48 L435.30,1716.47 L436.30,1716.21 L437.30,1716.68 L438.30,1717.75 L439.30,1719.33 L440.30,1721.36 L441.30,1723.74 L442.30,1726.40 L443.30,1729.24 L444.30,1732.20 L445.30,1735.49 L446.30,1739.83 L447.30,1745.06 L448.30,1750.93 L449.30,1757.22 L450.30,1763.70 L451.30,1770.54 L452.30,1778.25 L453.30,1786.52 L454.30,1795.01 L455.30,1803.37 L456.30,1811.31 L457.30,1818.93 L458.30,1826.57 L459.30,1834.58 L460.30,1843.30 L461.30,1853.13 L462.30,1865.05 L463.30,1878.27 L464.30,1891.47 L465.30,1903.44 L466.30,1914.76 L467.30,1925.80 L468.30,1936.51 L469.30,1946.84 L470.30,1956.73 L471.30,1966.14 L472.30,1975.18 L473.30,1983.91 L474.30,1992.39 L475.30,2000.64 L476.30,2008.69 L477.30,2016.58 L478.30,2024.33 L479.30,2031.99 L480.30,2039.58 L481.30,2047.14 L482.30,2054.70 L483.30,2062.29 L484.30,2069.94 L485.30,2077.68 L486.30,2085.46 L487.30,2093.26 L488.30,2101.05 L489.30,2108.81 L490.30,2116.50 L491.30,2124.10 L492.30,2131.60 L493.30,2138.95 L494.30,2146.15 L495.30,2153.15 L496.30,2160.02 L497.30,2166.98 L498.30,2173.98 L499.30,2180.96 L500.30,2187.83 L501.30,2194.53 L502.30,2200.97 L503.30,2207.09 L504.30,2212.80 L505.30,2218.03 L506.30,2222.70 L507.30,2226.82 L508.30,2230.67 L509.30,2234.30 L510.30,2237.73 L511.30,2240.98 L512.30,2244.07 L513.30,2247.02 L514.30,2249.85 L515.30,2252.58 L516.30,2255.22 L517.30,2257.81 L518.30,2260.35 L519.30,2262.88 L520.30,2265.40 L521.30,2267.91 L522.30,2270.37 L523.30,2272.79 L524.30,2275.17 L525.30,2277.51 L526.30,2279.80 L527.30,2282.06 L528.30,2284.28 L529.30,2286.45 L530.30,2288.59 L531.30,2290.69 L532.30,2292.75 L533.30,2294.77 L534.30,2296.76 L535.30,2298.71 L536.30,2300.62 L537.30,2302.49 L538.30,2304.34 L539.30,2306.14 L540.30,2307.92 L541.30,2309.68 L542.30,2311.43 L543.30,2313.16 L544.30,2314.87 L545.30,2316.56 L546.30,2318.23 L547.30,2319.89 L548.30,2321.52 L549.30,2323.14 L550.30,2324.73 L551.30,2326.30 L552.30,2327.85 L553.30,2329.38 L554.30,2330.88 L555.30,2332.36 L556.30,2333.82 L557.30,2335.25 L558.30,2336.65 L559.30,2338.03 L560.30,2339.38 L561.30,2340.71 L562.30,2342.00 L563.30,2343.27 L564.30,2344.51 L565.30,2345.73 L566.30,2346.91 L567.30,2348.06 L568.30,2349.19 L569.30,2350.30 L570.30,2351.40 L571.30,2352.48 L572.30,2353.55 L573.30,2354.60 L574.30,2355.63 L575.30,2356.65 L576.30,2357.66 L577.30,2358.65 L578.30,2359.63 L579.30,2360.59 L580.30,2361.54 L581.30,2362.47 L582.30,2363.39 L583.30,2364.30 L584.30,2365.20 L585.30,2366.09 L586.30,2366.96 L587.30,2367.82 L588.30,2368.68 L589.30,2369.52 L590.30,2370.35 L591.30,2371.17 L592.30,2371.98 L593.30,2372.78 L594.30,2373.57 L595.30,2374.35 L596.30,2375.13 L597.30,2375.89 L598.30,2376.65 L599.30,2377.40 L600.30,2378.15 L601.30,2378.88 L602.30,2379.62 L603.30,2380.35 L604.30,2381.08 L605.30,2381.80 L606.30,2382.51 L607.30,2383.22 L608.30,2383.93 L609.30,2384.63 L610.30,2385.33 L611.30,2386.02 L612.30,2386.71 L613.30,2387.39 L614.30,2388.07 L615.30,2388.74 L616.30,2389.41 L617.30,2390.07 L618.30,2390.73 L619.30,2391.38 L620.30,2392.02 L621.30,2392.66 L622.30,2393.29 L623.30,2393.92 L624.30,2394.54 L625.30,2395.15 L626.30,2395.76 L627.30,2396.37 L628.30,2396.96 L629.30,2397.55 L630.30,2398.14 L631.30,2398.72 L632.30,2399.29 L633.30,2399.85 L634.30,2400.41 L635.30,2400.96 L636.30,2401.51 L637.30,2402.04 L638.30,2402.57 L639.30,2403.10 L640.30,2403.61 L641.30,2404.12 L642.30,2404.63 L643.30,2405.12 L644.30,2405.61 L645.30,2406.09 L646.30,2406.56 L647.30,2407.03 L648.30,2407.48 L649.30,2407.93 L650.30,2408.38 L651.30,2408.83 L652.30,2409.27 L653.30,2409.71 L654.30,2410.14 L655.30,2410.58 L656.30,2411.01 L657.30,2411.44 L658.30,2411.87 L659.30,2412.29 L660.30,2412.71 L661.30,2413.13 L662.30,2413.54 L663.30,2413.96 L664.30,2414.36 L665.30,2414.77 L666.30,2415.17 L667.30,2415.57 L668.30,2415.96 L669.30,2416.35 L670.30,2416.74 L671.30,2417.12 L672.30,2417.50 L673.30,2417.88 L674.30,2418.25 L675.30,2418.62 L676.30,2418.98 L677.30,2419.34 L678.30,2419.69 L679.30,2420.04 L680.30,2420.39 L681.30,2420.73 L682.30,2421.07 L683.30,2421.40 L684.30,2421.72 L685.30,2422.04 L686.30,2422.36 L687.30,2422.67 L688.30,2422.98 L689.30,2423.28 L690.30,2423.57 L691.30,2423.86 L692.30,2424.15 L693.30,2424.43 L694.30,2424.70 L695.30,2424.97 L696.30,2425.23 L697.30,2425.49 L698.30,2425.74 L699.30,2425.98 L700.30,2426.22 L701.30,2426.45 L702.30,2426.67 L703.30,2426.89 L704.30,2427.11 L705.30,2427.32 L706.30,2427.53 L707.30,2427.73 L708.30,2427.94 L709.30,2428.15 L710.30,2428.35 L711.30,2428.55 L712.30,2428.75 L713.30,2428.95 L714.30,2429.14 L715.30,2429.34 L716.30,2429.53 L717.30,2429.72 L718.30,2429.91 L719.30,2430.10 L720.30,2430.28 L721.30,2430.46 L722.30,2430.64 L723.30,2430.82 L724.30,2430.99 L725.30,2431.17 L726.30,2431.34 L727.30,2431.50 L728.30,2431.67 L729.30,2431.83 L730.30,2431.99 L731.30,2432.15 L732.30,2432.30 L733.30,2432.45 L734.30,2432.60 L735.30,2432.75 L736.30,2432.89 L737.30,2433.03 L738.30,2433.17 L739.30,2433.30 L740.30,2433.43 L741.30,2433.56 L742.30,2433.68 L743.30,2433.81 L744.30,2433.92 L745.30,2434.04 L746.30,2434.15 L747.30,2434.25 L748.30,2434.36 L749.30,2434.46 L750.30,2434.55 L751.30,2434.65 L752.30,2434.74 L753.30,2434.82 L754.30,2434.90 L755.30,2434.98 L756.30,2435.05 L757.30,2435.12 L758.30,2435.19 L759.30,2435.25 L760.30,2435.31 L761.30,2435.37 L762.30,2435.43 L763.30,2435.49 L764.30,2435.54 L765.30,2435.60 L766.30,2435.66 L767.30,2435.71 L768.30,2435.76 L769.30,2435.82 L770.30,2435.87 L771.30,2435.92 L772.30,2435.97 L773.30,2436.02 L774.30,2436.06 L775.30,2436.11 L776.30,2436.16 L777.30,2436.20 L778.30,2436.25 L779.30,2436.29 L780.30,2436.33 L781.30,2436.37 L782.30,2436.41 L783.30,2436.45 L784.30,2436.49 L785.30,2436.53 L786.30,2436.57 L787.30,2436.61 L788.30,2436.64 L789.30,2436.68 L790.30,2436.71 L791.30,2436.74 L792.30,2436.78 L793.30,2436.81 L794.30,2436.84 L795.30,2436.87 L796.30,2436.90 L797.30,2436.93 L798.30,2436.96 L799.30,2436.98 L800.30,2437.01 L801.30,2437.04 L802.30,2437.06 L803.30,2437.09 L804.30,2437.11 L805.30,2437.13 L806.30,2437.16 L807.30,2437.18 L808.30,2437.20 L809.30,2437.22 L810.30,2437.24 L811.30,2437.26 L812.30,2437.28 L813.30,2437.29 L814.30,2437.31 L815.30,2437.33 L816.30,2437.34 L817.30,2437.36 L818.30,2437.37 L819.30,2437.39 L820.30,2437.40 L821.30,2437.41 L822.30,2437.42 L823.30,2437.44 L824.30,2437.45 L825.30,2437.46 L826.30,2437.47 L827.30,2437.48 L828.30,2437.49 L829.30,2437.49 L830.30,2437.50 L831.30,2437.51 L832.30,2437.52 L833.30,2437.52 L834.30,2437.53 L835.30,2437.54 L836.30,2437.55 L837.30,2437.55 L838.30,2437.56 L839.30,2437.56 L840.30,2437.57 L841.30,2437.58 L842.30,2437.58 L843.30,2437.59 L844.30,2437.59 L845.30,2437.60 L846.30,2437.60 L847.30,2437.60 L848.30,2437.61 L849.30,2437.61 L850.30,2437.61 L851.30,2437.62 L852.30,2437.62 L853.30,2437.62 L854.30,2437.62 L855.30,2437.62 L856.30,2437.62 L857.30,2437.62 L858.30,2437.62 L859.30,2437.62 L860.30,2437.62 L861.30,2437.62 L862.30,2437.62 L863.30,2437.61 L864.30,2437.61 L865.30,2437.61 L866.30,2437.60 L867.30,2437.60 L868.30,2437.59 L869.30,2437.58 L870.30,2437.58 L871.30,2437.57 L872.30,2437.56 L873.30,2437.55 L874.30,2437.54 L875.30,2437.53 L876.30,2437.52 L877.30,2437.51 L878.30,2437.49 L879.30,2437.48 L880.30,2437.47 L881.30,2437.45 L882.30,2437.44 L883.30,2437.42 L884.30,2437.40 L885.30,2437.38 L886.30,2437.36 L887.30,2437.34 L888.30,2437.32 L889.30,2437.30 L890.30,2437.28 L891.30,2437.25 L892.30,2437.23 L893.30,2437.20 L894.30,2437.17 L895.30,2437.15 L896.30,2437.12 L897.30,2437.09 L898.30,2437.06 L899.30,2437.02 L900.30,2436.99 L901.30,2436.96 L902.30,2436.92 L903.30,2436.89 L904.30,2436.85 L905.30,2436.82 L906.30,2436.78 L907.30,2436.74 L908.30,2436.71 L909.30,2436.67 L910.30,2436.63 L911.30,2436.59 L912.30,2436.56 L913.30,2436.52 L914.30,2436.48 L915.30,2436.44 L916.30,2436.40 L917.30,2436.36 L918.30,2436.31 L919.30,2436.27 L920.30,2436.23 L921.30,2436.19 L922.30,2436.14 L923.30,2436.10 L924.30,2436.05 L925.30,2436.01 L926.30,2435.96 L927.30,2435.92 L928.30,2435.87 L929.30,2435.82 L930.30,2435.77 L931.30,2435.73 L932.30,2435.68 L933.30,2435.63 L934.30,2435.58 L935.30,2435.52 L936.30,2435.47 L937.30,2435.42 L938.30,2435.37 L939.30,2435.31 L940.30,2435.26 L941.30,2435.20 L942.30,2435.14 L943.30,2435.09 L944.30,2435.03 L945.30,2434.97 L946.30,2434.91 L947.30,2434.85 L948.30,2434.79 L949.30,2434.73 L950.30,2434.66 L951.30,2434.60 L952.30,2434.53 L953.30,2434.47 L954.30,2434.40 L955.30,2434.33 L956.30,2434.26 L957.30,2434.19 L958.30,2434.12 L959.30,2434.05 L960.30,2433.98 L961.30,2433.90 L962.30,2433.82 L963.30,2433.73 L964.30,2433.64 L965.30,2433.55 L966.30,2433.44 L967.30,2433.34 L968.30,2433.23 L969.30,2433.12 L970.30,2433.00 L971.30,2432.88 L972.30,2432.75 L973.30,2432.62 L974.30,2432.49 L975.30,2432.35 L976.30,2432.21 L977.30,2432.07 L978.30,2431.92 L979.30,2431.76 L980.30,2431.61 L981.30,2431.45 L982.30,2431.28 L983.30,2431.12 L984.30,2430.95 L985.30,2430.77 L986.30,2430.60 L987.30,2430.42 L988.30,2430.23 L989.30,2430.05 L990.30,2429.86 L991.30,2429.67 L992.30,2429.47 L993.30,2429.27 L994.30,2429.07 L995.30,2428.87 L996.30,2428.66 L997.30,2428.45 L998.30,2428.24 L999.30,2428.02 L1000.30,2427.79 L1001.30,2427.56 L1002.30,2427.32 L1003.30,2427.07 L1004.30,2426.81 L1005.30,2426.55 L1006.30,2426.28 L1007.30,2426.00 L1008.30,2425.71 L1009.30,2425.42 L1010.30,2425.12 L1011.30,2424.80 L1012.30,2424.49 L1013.30,2424.16 L1014.30,2423.82 L1015.30,2423.48 L1016.30,2423.12 L1017.30,2422.76 L1018.30,2422.39 L1019.30,2422.01 L1020.30,2421.62 L1021.30,2421.22 L1022.30,2420.81 L1023.30,2420.39 L1024.30,2419.96 L1025.30,2419.52 L1026.30,2419.06 L1027.30,2418.60 L1028.30,2418.13 L1029.30,2417.64 L1030.30,2417.15 L1031.30,2416.64 L1032.30,2416.12 L1033.30,2415.59 L1034.30,2415.04 L1035.30,2414.48 L1036.30,2413.91 L1037.30,2413.31 L1038.30,2412.69 L1039.30,2412.04 L1040.30,2411.37 L1041.30,2410.66 L1042.30,2409.93 L1043.30,2409.17 L1044.30,2408.39 L1045.30,2407.57 L1046.30,2406.72 L1047.30,2405.85 L1048.30,2404.94 L1049.30,2404.01 L1050.30,2403.04 L1051.30,2402.03 L1052.30,2401.00 L1053.30,2399.93 L1054.30,2398.83 L1055.30,2397.69 L1056.30,2396.51 L1057.30,2395.30 L1058.30,2394.04 L1059.30,2392.75 L1060.30,2391.42 L1061.30,2390.04 L1062.30,2388.62 L1063.30,2387.16 L1064.30,2385.65 L1065.30,2383.96 L1066.00,2382.63 L1066.25,2382.13 L1066.30,2382.02 L1066.50,2381.61 L1066.75,2381.08 L1067.00,2380.54 L1067.25,2379.99 L1067.30,2379.88 L1067.50,2379.42 L1067.75,2378.85 L1068.00,2378.26 L1068.25,2377.66 L1068.30,2377.54 L1068.50,2377.05 L1068.75,2376.43 L1069.00,2375.81 L1069.25,2375.17 L1069.30,2375.04 L1069.50,2374.53 L1069.75,2373.87 L1070.00,2373.21 L1070.25,2372.55 L1070.30,2372.41 L1070.50,2371.87 L1070.75,2371.19 L1071.00,2370.51 L1071.25,2369.82 L1071.30,2369.68 L1071.50,2369.12 L1071.75,2368.42 L1072.00,2367.71 L1072.25,2367.00 L1072.30,2366.86 L1072.50,2366.29 L1072.75,2365.58 L1073.00,2364.86 L1073.25,2364.14 L1073.30,2363.99 L1073.50,2363.42 L1073.75,2362.69 L1074.00,2361.97 L1074.25,2361.25 L1074.30,2361.10 L1074.50,2360.52 L1074.75,2359.80 L1075.00,2359.08 L1075.25,2358.35 L1075.30,2358.21 L1075.50,2357.63 L1075.75,2356.92 L1076.00,2356.20 L1076.25,2355.49 L1076.30,2355.34 L1076.50,2354.78 L1076.75,2354.07 L1077.00,2353.37 L1077.25,2352.67 L1077.30,2352.53 L1077.50,2351.98 L1077.75,2351.29 L1078.00,2350.61 L1078.25,2349.93 L1078.30,2349.79 L1078.50,2349.26 L1078.75,2348.60 L1079.00,2347.94 L1079.25,2347.29 L1079.30,2347.16 L1079.50,2346.65 L1079.75,2346.01 L1080.00,2345.39 L1080.25,2344.78 L1080.30,2344.65 L1080.50,2344.17 L1080.75,2343.57 L1081.00,2342.99 L1081.25,2342.41 L1081.30,2342.30 L1081.50,2341.84 L1081.75,2341.29 L1082.00,2340.75 L1082.25,2340.22 L1082.30,2340.11 L1082.50,2339.70 L1082.75,2339.19 L1083.00,2338.70 L1083.25,2338.21 L1083.30,2338.11 L1083.50,2337.71 L1083.75,2337.21 L1084.00,2336.70 L1084.25,2336.19 L1084.30,2336.08 L1084.50,2335.66 L1084.75,2335.14 L1085.00,2334.60 L1085.25,2334.05 L1085.30,2333.94 L1085.50,2333.50 L1085.75,2332.94 L1086.00,2332.38 L1086.25,2331.80 L1086.30,2331.68 L1086.50,2331.22 L1086.75,2330.63 L1087.00,2330.03 L1087.25,2329.42 L1087.30,2329.29 L1087.50,2328.80 L1087.75,2328.17 L1088.00,2327.54 L1088.25,2326.89 L1088.30,2326.76 L1088.50,2326.24 L1088.75,2325.57 L1089.00,2324.90 L1089.25,2324.21 L1089.30,2324.07 L1089.50,2323.52 L1089.75,2322.81 L1090.00,2322.09 L1090.25,2321.36 L1090.30,2321.22 L1090.50,2320.62 L1090.75,2319.87 L1091.00,2319.11 L1091.25,2318.33 L1091.30,2318.17 L1091.50,2317.54 L1091.75,2316.74 L1092.00,2315.92 L1092.25,2315.09 L1092.30,2314.92 L1092.50,2314.25 L1092.75,2313.39 L1093.00,2312.52 L1093.25,2311.63 L1093.30,2311.45 L1093.50,2310.73 L1093.75,2309.81 L1094.00,2308.88 L1094.25,2307.93 L1094.30,2307.73 L1094.50,2306.96 L1094.75,2305.97 L1095.00,2304.97 L1095.25,2303.95 L1095.30,2303.74 L1095.50,2302.91 L1095.75,2301.85 L1096.00,2300.77 L1096.25,2299.67 L1096.30,2299.45 L1096.50,2298.55 L1096.75,2297.41 L1097.00,2296.25 L1097.25,2295.06 L1097.30,2294.82 L1097.50,2293.86 L1097.75,2292.62 L1098.00,2291.37 L1098.25,2290.09 L1098.30,2289.83 L1098.50,2288.78 L1098.75,2287.44 L1099.00,2286.08 L1099.25,2284.70 L1099.30,2284.41 L1099.50,2283.28 L1099.75,2281.83 L1100.00,2280.35 L1100.25,2278.85 L1100.30,2278.54 L1100.50,2277.30 L1100.75,2275.73 L1101.00,2274.12 L1101.25,2272.48 L1101.30,2272.15 L1101.50,2270.80 L1101.75,2269.08 L1102.00,2267.33 L1102.25,2265.53 L1102.30,2265.17 L1102.50,2263.70 L1102.75,2261.82 L1103.00,2259.90 L1103.25,2257.93 L1103.30,2257.53 L1103.50,2255.92 L1103.75,2253.85 L1104.00,2251.74 L1104.25,2249.58 L1104.30,2249.14 L1104.50,2247.37 L1104.75,2245.10 L1105.00,2242.78 L1105.25,2240.39 L1105.30,2239.91 L1105.50,2237.95 L1105.75,2235.44 L1106.00,2232.88 L1106.25,2230.24 L1106.30,2229.70 L1106.50,2227.53 L1106.75,2224.76 L1107.00,2221.91 L1107.25,2218.98 L1107.30,2218.38 L1107.50,2215.97 L1107.75,2212.88 L1108.00,2209.71 L1108.25,2206.45 L1108.30,2205.78 L1108.50,2203.09 L1108.75,2199.64 L1109.00,2196.09 L1109.25,2192.44 L1109.30,2191.70 L1109.50,2188.68 L1109.75,2184.81 L1110.00,2180.83 L1110.25,2176.72 L1110.30,2175.89 L1110.50,2172.50 L1110.75,2168.14 L1111.00,2163.64 L1111.25,2159.01 L1111.30,2158.06 L1111.50,2154.23 L1111.75,2149.29 L1112.00,2144.20 L1112.25,2138.95 L1112.30,2137.87 L1112.50,2133.52 L1112.75,2127.91 L1113.00,2122.11 L1113.25,2116.12 L1113.30,2114.89 L1113.50,2109.92 L1113.75,2103.51 L1114.00,2096.87 L1114.25,2090.01 L1114.30,2088.60 L1114.50,2082.90 L1114.75,2075.53 L1115.00,2067.90 L1115.25,2060.00 L1115.30,2058.38 L1115.50,2051.80 L1115.75,2043.30 L1116.00,2034.48 L1116.25,2025.34 L1116.30,2023.47 L1116.50,2015.84 L1116.75,2005.98 L1117.00,1995.75 L1117.25,1985.11 L1117.30,1982.94 L1117.50,1974.07 L1117.75,1962.59 L1118.00,1950.66 L1118.25,1938.26 L1118.30,1935.72 L1118.50,1925.37 L1118.75,1911.97 L1119.00,1898.04 L1119.25,1883.55 L1119.30,1880.59 L1119.50,1868.49 L1119.75,1852.84 L1120.00,1836.58 L1120.25,1819.68 L1120.30,1816.22 L1120.50,1802.13 L1120.75,1783.92 L1121.00,1765.04 L1121.25,1745.47 L1121.30,1741.47 L1121.50,1725.21 L1121.75,1704.26 L1122.00,1682.64 L1122.25,1660.36 L1122.30,1655.82 L1122.50,1637.45 L1122.75,1613.96 L1123.00,1589.95 L1123.25,1565.49 L1123.30,1560.56 L1123.50,1540.71 L1123.75,1515.73 L1124.00,1490.73 L1124.25,1465.93 L1124.30,1461.01 L1124.50,1441.59 L1124.75,1418.06 L1125.00,1395.76 L1125.25,1375.26 L1125.30,1371.43 L1125.50,1357.28 L1125.75,1342.97 L1126.00,1335.00 L1126.25,1343.07 L1126.30,1345.58 L1126.50,1357.48 L1126.75,1375.55 L1127.00,1396.15 L1127.25,1418.55 L1127.30,1423.19 L1127.50,1442.17 L1127.75,1466.61 L1128.00,1491.51 L1128.25,1516.61 L1128.30,1521.63 L1128.50,1541.68 L1128.75,1566.57 L1129.00,1591.11 L1129.25,1615.22 L1129.30,1619.99 L1129.50,1638.81 L1129.75,1661.82 L1130.00,1684.20 L1130.25,1705.92 L1130.30,1710.18 L1130.50,1726.96 L1130.75,1747.32 L1131.00,1766.98 L1131.25,1785.97 L1131.30,1789.68 L1131.50,1804.27 L1131.75,1821.92 L1132.00,1838.91 L1132.25,1855.27 L1132.30,1858.47 L1132.50,1871.02 L1132.75,1886.18 L1133.00,1900.76 L1133.25,1914.79 L1133.30,1917.53 L1133.50,1928.29 L1133.75,1941.27 L1134.00,1953.77 L1134.25,1965.80 L1134.30,1968.15 L1134.50,1977.37 L1134.75,1988.51 L1135.00,1999.24 L1135.25,2009.57 L1135.30,2011.59 L1135.50,2019.53 L1135.75,2029.12 L1136.00,2038.36 L1136.25,2047.27 L1136.30,2049.02 L1136.50,2055.87 L1136.75,2064.16 L1137.00,2072.16 L1137.25,2079.89 L1137.30,2081.40 L1137.50,2087.35 L1137.75,2094.55 L1138.00,2101.51 L1138.25,2108.24 L1138.30,2109.56 L1138.50,2114.75 L1138.75,2121.04 L1139.00,2127.13 L1139.25,2133.02 L1139.30,2134.17 L1139.50,2138.72 L1139.75,2144.25 L1140.00,2149.60 L1140.25,2154.78 L1140.30,2155.80 L1140.50,2159.81 L1140.75,2164.68 L1141.00,2169.41 L1141.25,2174.00 L1141.30,2174.90 L1141.50,2178.45 L1141.75,2182.77 L1142.00,2186.97 L1142.25,2191.05 L1142.30,2191.85 L1142.50,2195.01 L1142.75,2198.86 L1143.00,2202.61 L1143.25,2206.25 L1143.30,2206.96 L1143.50,2209.79 L1143.75,2213.24 L1144.00,2216.59 L1144.25,2219.86 L1144.30,2220.50 L1144.50,2223.04 L1144.75,2226.13 L1145.00,2229.15 L1145.25,2232.09 L1145.30,2232.67 L1145.50,2234.96 L1145.75,2237.76 L1146.00,2240.48 L1146.25,2243.14 L1146.30,2243.67 L1146.50,2245.74 L1146.75,2248.27 L1147.00,2250.74 L1147.25,2253.16 L1147.30,2253.63 L1147.50,2255.52 L1147.75,2257.82 L1148.00,2260.07 L1148.25,2262.27 L1148.30,2262.70 L1148.50,2264.42 L1148.75,2266.52 L1149.00,2268.57 L1149.25,2270.58 L1149.30,2270.98 L1149.50,2272.55 L1149.75,2274.47 L1150.00,2276.35 L1150.25,2278.20 L1150.30,2278.56 L1150.50,2280.00 L1150.75,2281.77 L1151.00,2283.50 L1151.25,2285.19 L1151.30,2285.52 L1151.50,2286.85 L1151.75,2288.48 L1152.00,2290.07 L1152.25,2291.63 L1152.30,2291.94 L1152.50,2293.16 L1152.75,2294.67 L1153.00,2296.14 L1153.25,2297.58 L1153.30,2297.87 L1153.50,2299.00 L1153.75,2300.39 L1154.00,2301.76 L1154.25,2303.10 L1154.30,2303.36 L1154.50,2304.41 L1154.75,2305.70 L1155.00,2306.97 L1155.25,2308.21 L1155.30,2308.46 L1155.50,2309.44 L1155.75,2310.64 L1156.00,2311.82 L1156.25,2312.98 L1156.30,2313.21 L1156.50,2314.12 L1156.75,2315.24 L1157.00,2316.34 L1157.25,2317.42 L1157.30,2317.64 L1157.50,2318.49 L1157.75,2319.53 L1158.00,2320.56 L1158.25,2321.58 L1158.30,2321.78 L1158.50,2322.57 L1158.75,2323.55 L1159.00,2324.52 L1159.25,2325.47 L1159.30,2325.66 L1159.50,2326.40 L1159.75,2327.32 L1160.00,2328.23 L1160.25,2329.12 L1160.30,2329.30 L1160.50,2330.00 L1160.75,2330.87 L1161.00,2331.72 L1161.25,2332.56 L1161.30,2332.72 L1161.50,2333.39 L1161.75,2334.20 L1162.00,2335.00 L1162.25,2335.79 L1162.30,2335.95 L1162.50,2336.57 L1162.75,2337.34 L1163.00,2338.10 L1163.25,2338.85 L1163.30,2339.00 L1163.50,2339.59 L1163.75,2340.32 L1164.00,2341.04 L1164.25,2341.75 L1164.30,2341.89 L1164.50,2342.46 L1164.75,2343.15 L1165.00,2343.84 L1165.25,2344.53 L1165.30,2344.66 L1165.50,2345.20 L1165.75,2345.87 L1166.00,2346.53 L1166.25,2347.18 L1166.30,2347.31 L1166.50,2347.83 L1166.75,2348.47 L1167.00,2349.11 L1167.25,2349.73 L1167.30,2349.86 L1167.50,2350.35 L1167.75,2350.97 L1168.00,2351.58 L1168.25,2352.18 L1168.30,2352.30 L1168.50,2352.78 L1168.75,2353.37 L1169.00,2353.96 L1169.25,2354.54 L1169.30,2354.66 L1169.50,2355.12 L1169.75,2355.69 L1170.00,2356.25 L1170.25,2356.81 L1170.30,2356.92 L1170.50,2357.37 L1170.75,2357.92 L1171.00,2358.46 L1171.25,2359.00 L1171.30,2359.11 L1171.50,2359.54 L1171.75,2360.07 L1172.00,2360.59 L1172.25,2361.12 L1172.30,2361.22 L1172.50,2361.63 L1172.75,2362.15 L1173.00,2362.65 L1173.25,2363.16 L1173.30,2363.26 L1173.50,2363.66 L1173.75,2364.15 L1174.00,2364.65 L1174.25,2365.13 L1174.30,2365.23 L1174.50,2365.62 L1174.75,2366.10 L1175.00,2366.57 L1175.25,2367.05 L1175.30,2367.14 L1175.50,2367.51 L1175.75,2367.98 L1176.00,2368.44 L1176.25,2368.89 L1176.30,2368.99 L1176.50,2369.35 L1176.75,2369.80 L1177.00,2370.24 L1177.25,2370.69 L1177.30,2370.77 L1177.50,2371.12 L1177.75,2371.56 L1178.00,2371.99 L1178.25,2372.42 L1178.30,2372.51 L1178.50,2372.84 L1178.75,2373.27 L1179.00,2373.68 L1179.25,2374.10 L1179.30,2374.18 L1179.50,2374.51 L1179.75,2374.92 L1180.00,2375.32 L1180.25,2375.73 L1180.30,2375.81 L1180.50,2376.12 L1180.75,2376.52 L1181.00,2376.91 L1181.25,2377.30 L1181.30,2377.38 L1181.50,2377.69 L1181.75,2378.07 L1182.00,2378.45 L1182.25,2378.82 L1182.30,2378.90 L1182.50,2379.20 L1182.75,2379.57 L1183.00,2379.93 L1183.25,2380.30 L1183.30,2380.37 L1183.50,2380.66 L1183.75,2381.02 L1184.00,2381.37 L1184.25,2381.72 L1184.30,2381.79 L1184.50,2382.07 L1184.75,2382.42 L1185.00,2382.76 L1185.25,2383.10 L1185.30,2383.16 L1185.50,2383.43 L1185.75,2383.77 L1186.30,2384.49 L1187.30,2385.77 L1188.30,2386.99 L1189.30,2388.17 L1190.30,2389.31 L1191.30,2390.39 L1192.30,2391.43 L1193.30,2392.45 L1194.30,2393.44 L1195.30,2394.41 L1196.30,2395.36 L1197.30,2396.29 L1198.30,2397.20 L1199.30,2398.09 L1200.30,2398.95 L1201.30,2399.80 L1202.30,2400.63 L1203.30,2401.44 L1204.30,2402.23 L1205.30,2403.00 L1206.30,2403.75 L1207.30,2404.48 L1208.30,2405.20 L1209.30,2405.90 L1210.30,2406.58 L1211.30,2407.24 L1212.30,2407.88 L1213.30,2408.50 L1214.30,2409.11 L1215.30,2409.70 L1216.30,2410.26 L1217.30,2410.81 L1218.30,2411.34 L1219.30,2411.85 L1220.30,2412.35 L1221.30,2412.82 L1222.30,2413.27 L1223.30,2413.71 L1224.30,2414.12 L1225.30,2414.52 L1226.30,2414.91 L1227.30,2415.29 L1228.30,2415.67 L1229.30,2416.04 L1230.30,2416.40 L1231.30,2416.76 L1232.30,2417.11 L1233.30,2417.45 L1234.30,2417.79 L1235.30,2418.12 L1236.30,2418.44 L1237.30,2418.76 L1238.30,2419.07 L1239.30,2419.38 L1240.30,2419.68 L1241.30,2419.97 L1242.30,2420.26 L1243.30,2420.54 L1244.30,2420.82 L1245.30,2421.09 L1246.30,2421.35 L1247.30,2421.61 L1248.30,2421.86 L1249.30,2422.11 L1250.30,2422.35 L1251.30,2422.58 L1252.30,2422.81 L1253.30,2423.03 L1254.30,2423.25 L1255.30,2423.46 L1256.30,2423.66 L1257.30,2423.86 L1258.30,2424.05 L1259.30,2424.24 L1260.30,2424.42 L1261.30,2424.59 L1262.30,2424.75 L1263.30,2424.91 L1264.30,2425.07 L1265.30,2425.21 L1266.30,2425.36 L1267.30,2425.49 L1268.30,2425.62 L1269.30,2425.74 L1270.30,2425.85 L1271.30,2425.96 L1272.30,2426.06 L1273.30,2426.16 L1274.30,2426.26 L1275.30,2426.35 L1276.30,2426.45 L1277.30,2426.54 L1278.30,2426.63 L1279.30,2426.72 L1280.30,2426.80 L1281.30,2426.89 L1282.30,2426.97 L1283.30,2427.05 L1284.30,2427.14 L1285.30,2427.21 L1286.30,2427.29 L1287.30,2427.37 L1288.30,2427.44 L1289.30,2427.52 L1290.30,2427.59 L1291.30,2427.66 L1292.30,2427.73 L1293.30,2427.80 L1294.30,2427.87 L1295.30,2427.93 L1296.30,2428.00 L1297.30,2428.06 L1298.30,2428.12 L1299.30,2428.18 L1300.30,2428.25 L1301.30,2428.30 L1302.30,2428.36 L1303.30,2428.42 L1304.30,2428.48 L1305.30,2428.53 L1306.30,2428.59 L1307.30,2428.64 L1308.30,2428.69 L1309.30,2428.74 L1310.30,2428.80 L1311.30,2428.85 L1312.30,2428.89 L1313.30,2428.94 L1314.30,2428.99 L1315.30,2429.04 L1316.30,2429.08 L1317.30,2429.13 L1318.30,2429.17 L1319.30,2429.22 L1320.30,2429.26 L1321.30,2429.30 L1322.30,2429.34 L1323.30,2429.38 L1324.30,2429.41 L1325.30,2429.44 L1326.30,2429.48 L1327.30,2429.51 L1328.30,2429.53 L1329.30,2429.56 L1330.30,2429.59 L1331.30,2429.61 L1332.30,2429.63 L1333.30,2429.65 L1334.30,2429.67 L1335.30,2429.69 L1336.30,2429.71 L1337.30,2429.72 L1338.30,2429.74 L1339.30,2429.75 L1340.30,2429.76 L1341.30,2429.77 L1342.30,2429.78 L1343.30,2429.79 L1344.30,2429.80 L1345.30,2429.80 L1346.30,2429.81 L1347.30,2429.81 L1348.30,2429.81 L1349.30,2429.81 L1350.30,2429.81 L1351.30,2429.81 L1352.30,2429.81 L1353.30,2429.81 L1354.30,2429.80 L1355.30,2429.80 L1356.30,2429.79 L1357.30,2429.79 L1358.30,2429.78 L1359.30,2429.77 L1360.30,2429.76 L1361.30,2429.75 L1362.30,2429.74 L1363.30,2429.73 L1364.30,2429.72 L1365.30,2429.71 L1366.30,2429.69 L1367.30,2429.68 L1368.30,2429.66 L1369.30,2429.65 L1370.30,2429.63 L1371.30,2429.62 L1372.30,2429.60 L1373.30,2429.58 L1374.30,2429.56 L1375.30,2429.55 L1376.30,2429.53 L1377.30,2429.51 L1378.30,2429.49 L1379.30,2429.47 L1380.30,2429.45 L1381.30,2429.43 L1382.30,2429.40 L1383.30,2429.38 L1384.30,2429.36 L1385.30,2429.34 L1386.30,2429.32 L1387.30,2429.30 L1388.30,2429.27 L1389.30,2429.25 L1390.30,2429.23 L1391.30,2429.20 L1392.30,2429.18 L1393.30,2429.16 L1394.30,2429.13 L1395.30,2429.11 L1396.30,2429.09 L1397.30,2429.06 L1398.30,2429.04 L1399.30,2429.02 L1400.30,2428.99 L1401.30,2428.97 L1402.30,2428.95 L1403.30,2428.92 L1404.30,2428.90 L1405.30,2428.87 L1406.30,2428.85 L1407.30,2428.83 L1408.30,2428.80 L1409.30,2428.78 L1410.30,2428.75 L1411.30,2428.72 L1412.30,2428.70 L1413.30,2428.67 L1414.30,2428.64 L1415.30,2428.61 L1416.30,2428.58 L1417.30,2428.56 L1418.30,2428.53 L1419.30,2428.49 L1420.30,2428.46 L1421.30,2428.43 L1422.30,2428.40 L1423.30,2428.36 L1424.30,2428.33 L1425.30,2428.29 L1426.30,2428.25 L1427.30,2428.22 L1428.30,2428.18 L1429.30,2428.14 L1430.30,2428.10 L1431.30,2428.05 L1432.30,2428.01 L1433.30,2427.97 L1434.30,2427.92 L1435.30,2427.87 L1436.30,2427.82 L1437.30,2427.77 L1438.30,2427.72 L1439.30,2427.67 L1440.30,2427.61 L1441.30,2427.56 L1442.30,2427.50 L1443.30,2427.44 L1444.30,2427.38 L1445.30,2427.32 L1446.30,2427.25 L1447.30,2427.19 L1448.30,2427.12 L1449.30,2427.05 L1450.30,2426.98 L1451.30,2426.90 L1452.30,2426.82 L1453.30,2426.74 L1454.30,2426.65 L1455.30,2426.56 L1456.30,2426.47 L1457.30,2426.37 L1458.30,2426.27 L1459.30,2426.16 L1460.30,2426.05 L1461.30,2425.93 L1462.30,2425.82 L1463.30,2425.70 L1464.30,2425.57 L1465.30,2425.44 L1466.30,2425.31 L1467.30,2425.17 L1468.30,2425.03 L1469.30,2424.89 L1470.30,2424.75 L1471.30,2424.60 L1472.30,2424.44 L1473.30,2424.29 L1474.30,2424.13 L1475.30,2423.97 L1476.30,2423.80 L1477.30,2423.63 L1478.30,2423.46 L1479.30,2423.28 L1480.30,2423.11 L1481.30,2422.92 L1482.30,2422.74 L1483.30,2422.55 L1484.30,2422.36 L1485.30,2422.17 L1486.30,2421.98 L1487.30,2421.78 L1488.30,2421.58 L1489.30,2421.37 L1490.30,2421.17 L1491.30,2420.96 L1492.30,2420.74 L1493.30,2420.53 L1494.30,2420.31 L1495.30,2420.09 L1496.30,2419.87 L1497.30,2419.65 L1498.30,2419.42 L1499.30,2419.19 L1500.30,2418.96 L1501.30,2418.73 L1502.30,2418.49 L1503.30,2418.25 L1504.30,2418.01 L1505.30,2417.77 L1506.30,2417.52 L1507.30,2417.28 L1508.30,2417.03 L1509.30,2416.78 L1510.30,2416.53 L1511.30,2416.27 L1512.30,2416.01 L1513.30,2415.76 L1514.30,2415.50 L1515.30,2415.23 L1516.30,2414.97 L1517.30,2414.70 L1518.30,2414.44 L1519.30,2414.17 L1520.30,2413.90 L1521.30,2413.63 L1522.30,2413.35 L1523.30,2413.08 L1524.30,2412.80 L1525.30,2412.52 L1526.30,2412.24 L1527.30,2411.96 L1528.30,2411.68 L1529.30,2411.40 L1530.30,2411.11 L1531.30,2410.83 L1532.30,2410.54 L1533.30,2410.25 L1534.30,2409.96 L1535.30,2409.67 L1536.30,2409.38 L1537.30,2409.09 L1538.30,2408.80 L1539.30,2408.50 L1540.30,2408.21 L1541.30,2407.91 L1542.30,2407.61 L1543.30,2407.31 L1544.30,2407.00 L1545.30,2406.68 L1546.30,2406.36 L1547.30,2406.04 L1548.30,2405.71 L1549.30,2405.38 L1550.30,2405.04 L1551.30,2404.70 L1552.30,2404.35 L1553.30,2404.00 L1554.30,2403.64 L1555.30,2403.28 L1556.30,2402.91 L1557.30,2402.54 L1558.30,2402.16 L1559.30,2401.78 L1560.30,2401.39 L1561.30,2401.00 L1562.30,2400.60 L1563.30,2400.20 L1564.30,2399.79 L1565.30,2399.38 L1566.30,2398.96 L1567.30,2398.53 L1568.30,2398.10 L1569.30,2397.67 L1570.30,2397.23 L1571.30,2396.78 L1572.30,2396.33 L1573.30,2395.88 L1574.30,2395.42 L1575.30,2394.95 L1576.30,2394.48 L1577.30,2394.00 L1578.30,2393.51 L1579.30,2393.02 L1580.30,2392.53 L1581.30,2392.03 L1582.30,2391.52 L1583.30,2391.01 L1584.30,2390.49 L1585.30,2389.97 L1586.30,2389.44 L1587.30,2388.90 L1588.30,2388.36 L1589.30,2387.82 L1590.30,2387.26 L1591.30,2386.70 L1592.30,2386.14 L1593.30,2385.57 L1594.30,2384.99 L1595.30,2384.41 L1596.30,2383.82 L1597.30,2383.23 L1598.30,2382.63 L1599.30,2382.02 L1600.30,2381.41 L1601.30,2380.79 L1602.30,2380.16 L1603.30,2379.51 L1604.30,2378.84 L1605.30,2378.15 L1606.30,2377.45 L1607.30,2376.72 L1608.30,2375.98 L1609.30,2375.21 L1610.30,2374.43 L1611.30,2373.64 L1612.30,2372.82 L1613.30,2371.99 L1614.30,2371.15 L1615.30,2370.28 L1616.30,2369.41 L1617.30,2368.51 L1618.30,2367.61 L1619.30,2366.68 L1620.30,2365.75 L1621.30,2364.80 L1622.30,2363.84 L1623.30,2362.86 L1624.30,2361.87 L1625.30,2360.88 L1626.30,2359.86 L1627.30,2358.84 L1628.30,2357.81 L1629.30,2356.77 L1630.30,2355.71 L1631.30,2354.65 L1632.30,2353.58 L1633.30,2352.49 L1634.30,2351.40 L1635.30,2350.30 L1636.30,2349.20 L1637.30,2348.08 L1638.30,2346.96 L1639.30,2345.83 L1640.30,2344.69 L1641.30,2343.53 L1642.30,2342.36 L1643.30,2341.18 L1644.30,2339.99 L1645.30,2338.78 L1646.30,2337.56 L1647.30,2336.32 L1648.30,2335.07 L1649.30,2333.80 L1650.30,2332.51 L1651.30,2331.21 L1652.30,2329.89 L1653.30,2328.55 L1654.30,2327.20 L1655.30,2325.82 L1656.30,2324.43 L1657.30,2323.01 L1658.30,2321.58 L1659.30,2320.13 L1660.30,2318.65 L1661.30,2317.15 L1662.30,2315.64 L1663.30,2314.09 L1664.30,2312.53 L1665.30,2310.94 L1666.30,2309.33 L1667.30,2307.69 L1668.30,2306.03 L1669.30,2304.35 L1670.30,2302.64 L1671.30,2300.90 L1672.30,2299.13 L1673.30,2297.34 L1674.30,2295.52 L1675.30,2293.67 L1676.30,2291.80 L1677.30,2289.89 L1678.30,2287.94 L1679.30,2285.93 L1680.30,2283.85 L1681.30,2281.71 L1682.30,2279.51 L1683.30,2277.25 L1684.30,2274.93 L1685.30,2272.56 L1686.30,2270.13 L1687.30,2267.65 L1688.30,2265.12 L1689.30,2262.53 L1690.30,2259.90 L1691.30,2257.22 L1692.30,2254.49 L1693.30,2251.72 L1694.30,2248.91 L1695.30,2246.06 L1696.30,2243.16 L1697.30,2240.23 L1698.30,2237.26 L1699.30,2234.25 L1700.30,2231.21 L1701.30,2228.14 L1702.30,2225.04 L1703.30,2221.90 L1704.30,2218.74 L1705.30,2215.55 L1706.30,2212.34 L1707.30,2209.10 L1708.30,2205.83 L1709.30,2202.47 L1710.30,2199.02 L1711.30,2195.49 L1712.30,2191.88 L1713.30,2188.20 L1714.30,2184.43 L1715.30,2180.60 L1716.30,2176.71 L1717.30,2172.74 L1718.30,2168.72 L1719.30,2164.65 L1720.30,2160.52 L1721.30,2156.34 L1722.30,2152.11 L1723.30,2147.85 L1724.30,2143.54 L1725.30,2139.20 L1726.30,2134.83 L1727.30,2130.43 L1728.30,2126.01 L1729.30,2121.57 L1730.30,2117.11 L1731.30,2112.64 L1732.30,2108.15 L1733.30,2103.62 L1734.30,2099.06 L1735.30,2094.43 L1736.30,2089.75 L1737.30,2084.99 L1738.30,2080.15 L1739.30,2075.22 L1740.30,2070.18 L1741.30,2065.04 L1742.30,2059.77 L1743.30,2054.38 L1744.30,2048.84 L1745.30,2043.15 L1746.30,2037.31 L1747.30,2031.29 L1748.30,2025.13 L1749.30,2018.84 L1750.30,2012.36 L1751.30,2005.68 L1752.30,1998.77 L1753.30,1991.58 L1754.30,1984.09 L1755.30,1976.27 L1756.30,1968.08 L1757.30,1959.50 L1758.30,1950.48 L1759.30,1941.00 L1760.30,1931.22 L1761.30,1921.03 L1762.30,1910.02 L1763.30,1897.75 L1764.30,1883.79 L1765.30,1867.73 L1766.30,1848.25 L1767.30,1815.63 L1768.30,1779.51 L1769.30,1755.21 L1770.30,1739.52 L1771.30,1726.30 L1772.30,1714.97 L1773.30,1704.94 L1774.30,1695.63 L1775.30,1686.47 L1776.30,1676.86 L1777.30,1666.37 L1778.30,1655.65 L1779.30,1644.91 L1780.30,1634.28 L1781.30,1623.85 L1782.30,1613.75 L1783.30,1604.07 L1784.30,1594.92 L1785.30,1586.41 L1786.30,1578.59 L1787.30,1571.29 L1788.30,1564.42 L1789.30,1557.86 L1790.30,1551.52 L1791.30,1545.28 L1792.30,1539.04 L1793.30,1532.69 L1794.30,1526.13 L1795.30,1519.30 L1796.30,1512.26 L1797.30,1505.13 L1798.30,1498.02 L1799.30,1491.05 L1800.30,1484.33 L1801.30,1477.96 L1802.30,1472.07 L1803.30,1466.73 L1804.30,1461.79 L1805.30,1457.15 L1806.30,1452.75 L1807.30,1448.53 L1808.30,1444.46 L1809.30,1440.45 L1810.30,1436.47 L1811.30,1432.46 L1812.30,1428.35 L1813.30,1424.10 L1814.30,1419.58 L1815.30,1414.86 L1816.30,1410.02 L1817.30,1405.18 L1818.30,1400.43 L1819.30,1395.88 L1820.30,1391.62 L1821.30,1387.77 L1822.30,1384.41 L1823.30,1381.65 L1824.30,1379.24 L1825.30,1376.94 L1826.30,1374.77 L1827.30,1372.70 L1828.30,1370.74 L1829.30,1368.88 L1830.30,1367.11 L1831.30,1365.43 L1832.30,1363.83 L1833.30,1362.31 L1834.30,1360.85 L1835.30,1359.46 L1836.30,1358.13 L1837.30,1356.84 L1838.30,1355.61 L1839.30,1354.41 L1840.30,1353.24 L1841.30,1352.12 L1842.30,1351.06 L1843.30,1350.06 L1844.30,1349.11 L1845.30,1348.22 L1846.30,1347.36 L1847.30,1346.54 L1848.30,1345.75 L1849.30,1344.98 L1850.30,1344.23 L1851.30,1343.48 L1852.30,1342.74 L1853.30,1341.99 L1854.30,1341.24 L1855.30,1340.46 L1856.30,1339.66 L1857.30,1338.83 L1858.30,1337.97 L1859.30,1337.06 L1860.30,1336.10 L1861.30,1335.09 L1862.30,1334.05 L1863.30,1332.99 L1864.30,1331.90 L1865.30,1330.80 L1866.30,1329.67 L1867.30,1328.53 L1868.30,1327.36 L1869.30,1326.17 L1870.30,1324.96 L1871.30,1323.73 L1872.30,1322.48 L1873.30,1321.21 L1874.30,1319.93 L1875.30,1318.62 L1876.30,1317.29 L1877.30,1315.95 L1878.30,1314.58 L1879.30,1313.20 L1880.30,1311.80 L1881.30,1310.38 L1882.30,1308.94 L1883.30,1307.49 L1884.30,1306.02 L1885.30,1304.53 L1886.30,1303.02 L1887.30,1301.50" fill="none" stroke="#00ff00" stroke-width="4.6" stroke-linejoin="round" stroke-dasharray="16 6"/>
<path d="M298.30,1532.60 L299.30,1542.53 L300.30,1552.18 L301.30,1561.50 L302.30,1570.40 L303.30,1578.82 L304.30,1586.70 L305.30,1594.04 L306.30,1601.04 L307.30,1607.73 L308.30,1614.16 L309.30,1620.35 L310.30,1626.35 L311.30,1632.20 L312.30,1637.92 L313.30,1643.56 L314.30,1649.16 L315.30,1654.69 L316.30,1660.14 L317.30,1665.50 L318.30,1670.76 L319.30,1675.93 L320.30,1681.01 L321.30,1686.00 L322.30,1690.88 L323.30,1695.67 L324.30,1700.36 L325.30,1704.96 L326.30,1709.44 L327.30,1713.85 L328.30,1718.20 L329.30,1722.47 L330.30,1726.67 L331.30,1730.79 L332.30,1734.83 L333.30,1738.79 L334.30,1742.66 L335.30,1746.44 L336.30,1750.12 L337.30,1753.71 L338.30,1757.20 L339.30,1760.66 L340.30,1764.13 L341.30,1767.61 L342.30,1771.07 L343.30,1774.49 L344.30,1777.84 L345.30,1781.11 L346.30,1784.27 L347.30,1787.30 L348.30,1790.18 L349.30,1792.89 L350.30,1795.40 L351.30,1797.70 L352.30,1799.76 L353.30,1801.60 L354.30,1803.42 L355.30,1805.23 L356.30,1807.03 L357.30,1808.81 L358.30,1810.55 L359.30,1812.25 L360.30,1813.89 L361.30,1815.46 L362.30,1816.94 L363.30,1818.34 L364.30,1819.63 L365.30,1820.81 L366.30,1821.86 L367.30,1822.78 L368.30,1823.55 L369.30,1824.15 L370.30,1824.59 L371.30,1824.84 L372.30,1824.90 L373.30,1824.80 L374.30,1824.57 L375.30,1824.23 L376.30,1823.78 L377.30,1823.23 L378.30,1822.59 L379.30,1821.87 L380.30,1821.09 L381.30,1820.24 L382.30,1819.35 L383.30,1818.42 L384.30,1817.46 L385.30,1816.48 L386.30,1815.50 L387.30,1814.46 L388.30,1813.22 L389.30,1811.81 L390.30,1810.24 L391.30,1808.52 L392.30,1806.69 L393.30,1804.76 L394.30,1802.75 L395.30,1800.68 L396.30,1798.57 L397.30,1796.45 L398.30,1794.34 L399.30,1792.22 L400.30,1789.97 L401.30,1787.59 L402.30,1785.10 L403.30,1782.53 L404.30,1779.87 L405.30,1777.17 L406.30,1774.42 L407.30,1771.64 L408.30,1768.86 L409.30,1766.10 L410.30,1763.36 L411.30,1760.66 L412.30,1758.03 L413.30,1755.48 L414.30,1753.02 L415.30,1750.68 L416.30,1748.38 L417.30,1745.91 L418.30,1743.32 L419.30,1740.65 L420.30,1737.98 L421.30,1735.37 L422.30,1732.86 L423.30,1730.53 L424.30,1728.42 L425.30,1726.61 L426.30,1725.14 L427.30,1724.09 L428.30,1723.50 L429.30,1723.55 L430.30,1725.15 L431.30,1728.18 L432.30,1732.27 L433.30,1737.06 L434.30,1742.15 L435.30,1747.36 L436.30,1753.93 L437.30,1761.78 L438.30,1770.45 L439.30,1779.44 L440.30,1788.29 L441.30,1797.00 L442.30,1806.18 L443.30,1815.52 L444.30,1824.69 L445.30,1833.36 L446.30,1841.27 L447.30,1848.57 L448.30,1855.55 L449.30,1862.46 L450.30,1869.59 L451.30,1877.19 L452.30,1885.57 L453.30,1894.97 L454.30,1905.16 L455.30,1915.84 L456.30,1926.70 L457.30,1937.45 L458.30,1947.77 L459.30,1957.36 L460.30,1965.93 L461.30,1973.91 L462.30,1981.59 L463.30,1989.01 L464.30,1996.17 L465.30,2003.13 L466.30,2009.88 L467.30,2016.48 L468.30,2022.93 L469.30,2029.26 L470.30,2035.51 L471.30,2041.69 L472.30,2047.84 L473.30,2053.97 L474.30,2060.11 L475.30,2066.29 L476.30,2072.54 L477.30,2078.84 L478.30,2085.12 L479.30,2091.38 L480.30,2097.61 L481.30,2103.79 L482.30,2109.93 L483.30,2116.01 L484.30,2122.03 L485.30,2127.98 L486.30,2133.86 L487.30,2139.65 L488.30,2145.35 L489.30,2150.95 L490.30,2156.45 L491.30,2161.93 L492.30,2167.45 L493.30,2172.97 L494.30,2178.47 L495.30,2183.92 L496.30,2189.28 L497.30,2194.54 L498.30,2199.66 L499.30,2204.60 L500.30,2209.36 L501.30,2213.89 L502.30,2218.16 L503.30,2222.15 L504.30,2225.85 L505.30,2229.39 L506.30,2232.80 L507.30,2236.10 L508.30,2239.29 L509.30,2242.38 L510.30,2245.37 L511.30,2248.26 L512.30,2251.06 L513.30,2253.78 L514.30,2256.42 L515.30,2258.99 L516.30,2261.49 L517.30,2263.92 L518.30,2266.30 L519.30,2268.62 L520.30,2270.90 L521.30,2273.12 L522.30,2275.29 L523.30,2277.39 L524.30,2279.44 L525.30,2281.45 L526.30,2283.40 L527.30,2285.31 L528.30,2287.18 L529.30,2289.02 L530.30,2290.82 L531.30,2292.60 L532.30,2294.35 L533.30,2296.07 L534.30,2297.78 L535.30,2299.47 L536.30,2301.16 L537.30,2302.83 L538.30,2304.50 L539.30,2306.17 L540.30,2307.83 L541.30,2309.50 L542.30,2311.17 L543.30,2312.83 L544.30,2314.48 L545.30,2316.13 L546.30,2317.77 L547.30,2319.40 L548.30,2321.02 L549.30,2322.63 L550.30,2324.22 L551.30,2325.80 L552.30,2327.37 L553.30,2328.92 L554.30,2330.45 L555.30,2331.96 L556.30,2333.45 L557.30,2334.91 L558.30,2336.35 L559.30,2337.77 L560.30,2339.16 L561.30,2340.53 L562.30,2341.86 L563.30,2343.17 L564.30,2344.44 L565.30,2345.68 L566.30,2346.89 L567.30,2348.07 L568.30,2349.23 L569.30,2350.38 L570.30,2351.53 L571.30,2352.67 L572.30,2353.80 L573.30,2354.93 L574.30,2356.04 L575.30,2357.14 L576.30,2358.24 L577.30,2359.32 L578.30,2360.40 L579.30,2361.46 L580.30,2362.51 L581.30,2363.55 L582.30,2364.58 L583.30,2365.60 L584.30,2366.60 L585.30,2367.59 L586.30,2368.57 L587.30,2369.54 L588.30,2370.49 L589.30,2371.43 L590.30,2372.35 L591.30,2373.26 L592.30,2374.15 L593.30,2375.03 L594.30,2375.89 L595.30,2376.73 L596.30,2377.56 L597.30,2378.37 L598.30,2379.17 L599.30,2379.94 L600.30,2380.70 L601.30,2381.44 L602.30,2382.16 L603.30,2382.86 L604.30,2383.55 L605.30,2384.21 L606.30,2384.85 L607.30,2385.48 L608.30,2386.08 L609.30,2386.67 L610.30,2387.26 L611.30,2387.84 L612.30,2388.42 L613.30,2388.99 L614.30,2389.55 L615.30,2390.11 L616.30,2390.66 L617.30,2391.20 L618.30,2391.74 L619.30,2392.28 L620.30,2392.80 L621.30,2393.32 L622.30,2393.84 L623.30,2394.35 L624.30,2394.85 L625.30,2395.35 L626.30,2395.84 L627.30,2396.32 L628.30,2396.80 L629.30,2397.27 L630.30,2397.73 L631.30,2398.19 L632.30,2398.64 L633.30,2399.09 L634.30,2399.53 L635.30,2399.96 L636.30,2400.38 L637.30,2400.80 L638.30,2401.22 L639.30,2401.62 L640.30,2402.02 L641.30,2402.42 L642.30,2402.80 L643.30,2403.18 L644.30,2403.56 L645.30,2403.92 L646.30,2404.28 L647.30,2404.63 L648.30,2404.98 L649.30,2405.32 L650.30,2405.65 L651.30,2405.98 L652.30,2406.30 L653.30,2406.61 L654.30,2406.91 L655.30,2407.21 L656.30,2407.50 L657.30,2407.79 L658.30,2408.06 L659.30,2408.33 L660.30,2408.60 L661.30,2408.85 L662.30,2409.10 L663.30,2409.34 L664.30,2409.58 L665.30,2409.82 L666.30,2410.05 L667.30,2410.28 L668.30,2410.51 L669.30,2410.73 L670.30,2410.95 L671.30,2411.17 L672.30,2411.38 L673.30,2411.60 L674.30,2411.80 L675.30,2412.01 L676.30,2412.21 L677.30,2412.41 L678.30,2412.61 L679.30,2412.81 L680.30,2413.00 L681.30,2413.19 L682.30,2413.38 L683.30,2413.56 L684.30,2413.74 L685.30,2413.92 L686.30,2414.10 L687.30,2414.27 L688.30,2414.45 L689.30,2414.62 L690.30,2414.79 L691.30,2414.95 L692.30,2415.11 L693.30,2415.28 L694.30,2415.43 L695.30,2415.59 L696.30,2415.75 L697.30,2415.90 L698.30,2416.05 L699.30,2416.20 L700.30,2416.34 L701.30,2416.49 L702.30,2416.63 L703.30,2416.77 L704.30,2416.91 L705.30,2417.05 L706.30,2417.19 L707.30,2417.32 L708.30,2417.45 L709.30,2417.58 L710.30,2417.71 L711.30,2417.84 L712.30,2417.96 L713.30,2418.09 L714.30,2418.21 L715.30,2418.33 L716.30,2418.45 L717.30,2418.57 L718.30,2418.69 L719.30,2418.81 L720.30,2418.92 L721.30,2419.03 L722.30,2419.15 L723.30,2419.26 L724.30,2419.37 L725.30,2419.48 L726.30,2419.59 L727.30,2419.69 L728.30,2419.80 L729.30,2419.90 L730.30,2420.01 L731.30,2420.11 L732.30,2420.21 L733.30,2420.32 L734.30,2420.42 L735.30,2420.53 L736.30,2420.63 L737.30,2420.74 L738.30,2420.84 L739.30,2420.95 L740.30,2421.05 L741.30,2421.16 L742.30,2421.26 L743.30,2421.37 L744.30,2421.47 L745.30,2421.57 L746.30,2421.68 L747.30,2421.78 L748.30,2421.88 L749.30,2421.98 L750.30,2422.09 L751.30,2422.19 L752.30,2422.29 L753.30,2422.38 L754.30,2422.48 L755.30,2422.58 L756.30,2422.67 L757.30,2422.77 L758.30,2422.86 L759.30,2422.95 L760.30,2423.04 L761.30,2423.13 L762.30,2423.21 L763.30,2423.30 L764.30,2423.38 L765.30,2423.46 L766.30,2423.54 L767.30,2423.62 L768.30,2423.69 L769.30,2423.76 L770.30,2423.83 L771.30,2423.90 L772.30,2423.96 L773.30,2424.03 L774.30,2424.09 L775.30,2424.15 L776.30,2424.20 L777.30,2424.25 L778.30,2424.30 L779.30,2424.35 L780.30,2424.39 L781.30,2424.43 L782.30,2424.47 L783.30,2424.50 L784.30,2424.53 L785.30,2424.56 L786.30,2424.58 L787.30,2424.60 L788.30,2424.62 L789.30,2424.63 L790.30,2424.64 L791.30,2424.64 L792.30,2424.64 L793.30,2424.64 L794.30,2424.63 L795.30,2424.62 L796.30,2424.60 L797.30,2424.58 L798.30,2424.55 L799.30,2424.52 L800.30,2424.49 L801.30,2424.45 L802.30,2424.42 L803.30,2424.38 L804.30,2424.34 L805.30,2424.30 L806.30,2424.26 L807.30,2424.22 L808.30,2424.18 L809.30,2424.13 L810.30,2424.09 L811.30,2424.05 L812.30,2424.00 L813.30,2423.95 L814.30,2423.91 L815.30,2423.86 L816.30,2423.81 L817.30,2423.76 L818.30,2423.71 L819.30,2423.65 L820.30,2423.60 L821.30,2423.54 L822.30,2423.49 L823.30,2423.43 L824.30,2423.37 L825.30,2423.31 L826.30,2423.25 L827.30,2423.19 L828.30,2423.13 L829.30,2423.07 L830.30,2423.00 L831.30,2422.93 L832.30,2422.87 L833.30,2422.80 L834.30,2422.73 L835.30,2422.65 L836.30,2422.58 L837.30,2422.50 L838.30,2422.43 L839.30,2422.35 L840.30,2422.27 L841.30,2422.19 L842.30,2422.11 L843.30,2422.02 L844.30,2421.94 L845.30,2421.85 L846.30,2421.76 L847.30,2421.67 L848.30,2421.57 L849.30,2421.48 L850.30,2421.38 L851.30,2421.28 L852.30,2421.18 L853.30,2421.08 L854.30,2420.98 L855.30,2420.87 L856.30,2420.76 L857.30,2420.65 L858.30,2420.53 L859.30,2420.42 L860.30,2420.30 L861.30,2420.18 L862.30,2420.06 L863.30,2419.93 L864.30,2419.80 L865.30,2419.67 L866.30,2419.54 L867.30,2419.40 L868.30,2419.26 L869.30,2419.12 L870.30,2418.97 L871.30,2418.82 L872.30,2418.67 L873.30,2418.50 L874.30,2418.32 L875.30,2418.13 L876.30,2417.92 L877.30,2417.71 L878.30,2417.49 L879.30,2417.26 L880.30,2417.02 L881.30,2416.77 L882.30,2416.50 L883.30,2416.23 L884.30,2415.95 L885.30,2415.65 L886.30,2415.35 L887.30,2415.03 L888.30,2414.71 L889.30,2414.37 L890.30,2414.03 L891.30,2413.67 L892.30,2413.31 L893.30,2412.93 L894.30,2412.54 L895.30,2412.15 L896.30,2411.74 L897.30,2411.32 L898.30,2410.89 L899.30,2410.44 L900.30,2409.99 L901.30,2409.53 L902.30,2409.05 L903.30,2408.57 L904.30,2408.07 L905.30,2407.56 L906.30,2407.03 L907.30,2406.50 L908.30,2405.95 L909.30,2405.39 L910.30,2404.82 L911.30,2404.23 L912.30,2403.63 L913.30,2403.02 L914.30,2402.39 L915.30,2401.74 L916.30,2401.09 L917.30,2400.41 L918.30,2399.72 L919.30,2398.99 L920.30,2398.21 L921.30,2397.38 L922.30,2396.51 L923.30,2395.60 L924.30,2394.64 L925.30,2393.64 L926.30,2392.60 L927.30,2391.52 L928.30,2390.39 L929.30,2389.23 L930.30,2388.02 L931.30,2386.77 L932.30,2385.48 L933.30,2384.15 L934.30,2382.79 L935.30,2381.38 L936.30,2379.93 L937.00,2378.89 L937.25,2378.51 L937.30,2378.43 L937.50,2378.13 L937.75,2377.75 L938.00,2377.36 L938.25,2376.98 L938.30,2376.90 L938.50,2376.59 L938.75,2376.20 L939.00,2375.80 L939.25,2375.40 L939.30,2375.32 L939.50,2375.00 L939.75,2374.60 L940.00,2374.19 L940.25,2373.79 L940.30,2373.70 L940.50,2373.37 L940.75,2372.96 L941.00,2372.54 L941.25,2372.12 L941.30,2372.04 L941.50,2371.70 L941.75,2371.27 L942.00,2370.83 L942.25,2370.37 L942.30,2370.28 L942.50,2369.91 L942.75,2369.43 L943.00,2368.94 L943.25,2368.45 L943.30,2368.34 L943.50,2367.94 L943.75,2367.42 L944.00,2366.89 L944.25,2366.36 L944.30,2366.25 L944.50,2365.82 L944.75,2365.27 L945.00,2364.71 L945.25,2364.14 L945.30,2364.03 L945.50,2363.57 L945.75,2362.99 L946.00,2362.40 L946.25,2361.81 L946.30,2361.69 L946.50,2361.21 L946.75,2360.61 L947.00,2360.01 L947.25,2359.40 L947.30,2359.27 L947.50,2358.78 L947.75,2358.16 L948.00,2357.54 L948.25,2356.92 L948.30,2356.79 L948.50,2356.29 L948.75,2355.66 L949.00,2355.03 L949.25,2354.40 L949.30,2354.28 L949.50,2353.77 L949.75,2353.14 L950.00,2352.50 L950.25,2351.87 L950.30,2351.74 L950.50,2351.23 L950.75,2350.60 L951.00,2349.97 L951.25,2349.34 L951.30,2349.21 L951.50,2348.71 L951.75,2348.08 L952.00,2347.46 L952.25,2346.84 L952.30,2346.71 L952.50,2346.22 L952.75,2345.60 L953.00,2344.99 L953.25,2344.38 L953.30,2344.26 L953.50,2343.78 L953.75,2343.18 L954.00,2342.59 L954.25,2342.00 L954.30,2341.88 L954.50,2341.41 L954.75,2340.84 L955.00,2340.27 L955.25,2339.70 L955.30,2339.59 L955.50,2339.14 L955.75,2338.59 L956.00,2338.04 L956.25,2337.47 L956.30,2337.36 L956.50,2336.90 L956.75,2336.33 L957.00,2335.74 L957.25,2335.15 L957.30,2335.03 L957.50,2334.55 L957.75,2333.94 L958.00,2333.32 L958.25,2332.69 L958.30,2332.56 L958.50,2332.05 L958.75,2331.41 L959.00,2330.75 L959.25,2330.08 L959.30,2329.95 L959.50,2329.41 L959.75,2328.72 L960.00,2328.03 L960.25,2327.32 L960.30,2327.18 L960.50,2326.61 L960.75,2325.88 L961.00,2325.14 L961.25,2324.39 L961.30,2324.24 L961.50,2323.62 L961.75,2322.85 L962.00,2322.06 L962.25,2321.26 L962.30,2321.10 L962.50,2320.45 L962.75,2319.62 L963.00,2318.78 L963.25,2317.93 L963.30,2317.76 L963.50,2317.06 L963.75,2316.18 L964.00,2315.28 L964.25,2314.37 L964.30,2314.18 L964.50,2313.44 L964.75,2312.49 L965.00,2311.53 L965.25,2310.55 L965.30,2310.36 L965.50,2309.56 L965.75,2308.54 L966.00,2307.51 L966.25,2306.46 L966.30,2306.25 L966.50,2305.39 L966.75,2304.30 L967.00,2303.19 L967.25,2302.06 L967.30,2301.83 L967.50,2300.91 L967.75,2299.74 L968.00,2298.54 L968.25,2297.32 L968.30,2297.08 L968.50,2296.08 L968.75,2294.81 L969.00,2293.52 L969.25,2292.20 L969.30,2291.94 L969.50,2290.86 L969.75,2289.49 L970.00,2288.09 L970.25,2286.66 L970.30,2286.37 L970.50,2285.20 L970.75,2283.72 L971.00,2282.20 L971.25,2280.65 L971.30,2280.33 L971.50,2279.06 L971.75,2277.44 L972.00,2275.79 L972.25,2274.10 L972.30,2273.76 L972.50,2272.38 L972.75,2270.61 L973.00,2268.81 L973.25,2266.96 L973.30,2266.59 L973.50,2265.07 L973.75,2263.14 L974.00,2261.17 L974.25,2259.15 L974.30,2258.74 L974.50,2257.08 L974.75,2254.96 L975.00,2252.79 L975.25,2250.57 L975.30,2250.12 L975.50,2248.30 L975.75,2245.96 L976.00,2243.58 L976.25,2241.13 L976.30,2240.63 L976.50,2238.62 L976.75,2236.04 L977.00,2233.40 L977.25,2230.69 L977.30,2230.14 L977.50,2227.91 L977.75,2225.06 L978.00,2222.13 L978.25,2219.12 L978.30,2218.51 L978.50,2216.03 L978.75,2212.86 L979.00,2209.60 L979.25,2206.25 L979.30,2205.57 L979.50,2202.80 L979.75,2199.26 L980.00,2195.61 L980.25,2191.86 L980.30,2191.10 L980.50,2188.00 L980.75,2184.02 L981.00,2179.93 L981.25,2175.72 L981.30,2174.86 L981.50,2171.37 L981.75,2166.89 L982.00,2162.28 L982.25,2157.52 L982.30,2156.55 L982.50,2152.61 L982.75,2147.54 L983.00,2142.31 L983.25,2136.91 L983.30,2135.81 L983.50,2131.34 L983.75,2125.58 L984.00,2119.63 L984.25,2113.47 L984.30,2112.22 L984.50,2107.11 L984.75,2100.53 L985.00,2093.71 L985.25,2086.67 L985.30,2085.23 L985.50,2079.37 L985.75,2071.81 L986.00,2063.98 L986.25,2055.86 L986.30,2054.20 L986.50,2047.45 L986.75,2038.72 L987.00,2029.67 L987.25,2020.29 L987.30,2018.37 L987.50,2010.54 L987.75,2000.43 L988.00,1989.92 L988.25,1979.01 L988.30,1976.78 L988.50,1967.68 L988.75,1955.91 L989.00,1943.67 L989.25,1930.95 L989.30,1928.35 L989.50,1917.73 L989.75,1903.99 L990.00,1889.70 L990.25,1874.84 L990.30,1871.80 L990.50,1859.41 L990.75,1843.36 L991.00,1826.68 L991.25,1809.37 L991.30,1805.82 L991.50,1791.38 L991.75,1772.72 L992.00,1753.37 L992.25,1733.32 L992.30,1729.22 L992.50,1712.56 L992.75,1691.11 L993.00,1668.96 L993.25,1646.14 L993.30,1641.50 L993.50,1622.69 L993.75,1598.64 L994.00,1574.06 L994.25,1549.03 L994.30,1543.98 L994.50,1523.67 L994.75,1498.11 L995.00,1472.54 L995.25,1447.16 L995.30,1442.14 L995.50,1422.27 L995.75,1398.21 L996.00,1375.42 L996.25,1354.45 L996.30,1350.54 L996.50,1336.08 L996.75,1321.45 L997.00,1313.30 L997.25,1321.54 L997.30,1324.11 L997.50,1336.27 L997.75,1354.74 L998.00,1375.80 L998.25,1398.69 L998.30,1403.44 L998.50,1422.85 L998.75,1447.83 L999.00,1473.30 L999.25,1498.97 L999.30,1504.11 L999.50,1524.63 L999.75,1550.08 L1000.00,1575.21 L1000.25,1599.88 L1000.30,1604.75 L1000.50,1624.02 L1000.75,1647.58 L1001.00,1670.49 L1001.25,1692.73 L1001.30,1697.09 L1001.50,1714.28 L1001.75,1735.13 L1002.00,1755.28 L1002.25,1774.72 L1002.30,1778.53 L1002.50,1793.48 L1002.75,1811.56 L1003.00,1828.97 L1003.25,1845.74 L1003.30,1849.02 L1003.50,1861.88 L1003.75,1877.42 L1004.00,1892.36 L1004.25,1906.75 L1004.30,1909.56 L1004.50,1920.58 L1004.75,1933.90 L1005.00,1946.71 L1005.25,1959.04 L1005.30,1961.45 L1005.50,1970.91 L1005.75,1982.34 L1006.00,1993.34 L1006.25,2003.94 L1006.30,2006.01 L1006.50,2014.14 L1006.75,2023.98 L1007.00,2033.46 L1007.25,2042.60 L1007.30,2044.39 L1007.50,2051.42 L1007.75,2059.93 L1008.00,2068.13 L1008.25,2076.06 L1008.30,2077.61 L1008.50,2083.71 L1008.75,2091.10 L1009.00,2098.24 L1009.25,2105.14 L1009.30,2106.49 L1009.50,2111.82 L1009.75,2118.27 L1010.00,2124.51 L1010.25,2130.56 L1010.30,2131.74 L1010.50,2136.41 L1010.75,2142.08 L1011.00,2147.56 L1011.25,2152.88 L1011.30,2153.93 L1011.50,2158.04 L1011.75,2163.04 L1012.00,2167.89 L1012.25,2172.59 L1012.30,2173.52 L1012.50,2177.16 L1012.75,2181.59 L1013.00,2185.90 L1013.25,2190.08 L1013.30,2190.90 L1013.50,2194.14 L1013.75,2198.09 L1014.00,2201.93 L1014.25,2205.66 L1014.30,2206.39 L1014.50,2209.29 L1014.75,2212.82 L1015.00,2216.26 L1015.25,2219.61 L1015.30,2220.27 L1015.50,2222.87 L1015.75,2226.04 L1016.00,2229.14 L1016.25,2232.15 L1016.30,2232.75 L1016.50,2235.09 L1016.75,2237.95 L1017.00,2240.75 L1017.25,2243.47 L1017.30,2244.01 L1017.50,2246.13 L1017.75,2248.72 L1018.00,2251.25 L1018.25,2253.73 L1018.30,2254.21 L1018.50,2256.14 L1018.75,2258.50 L1019.00,2260.80 L1019.25,2263.05 L1019.30,2263.49 L1019.50,2265.25 L1019.75,2267.40 L1020.00,2269.50 L1020.25,2271.56 L1020.30,2271.96 L1020.50,2273.57 L1020.75,2275.53 L1021.00,2277.46 L1021.25,2279.34 L1021.30,2279.71 L1021.50,2281.18 L1021.75,2282.99 L1022.00,2284.76 L1022.25,2286.49 L1022.30,2286.83 L1022.50,2288.18 L1022.75,2289.84 L1023.00,2291.47 L1023.25,2293.06 L1023.30,2293.38 L1023.50,2294.63 L1023.75,2296.16 L1024.00,2297.66 L1024.25,2299.14 L1024.30,2299.43 L1024.50,2300.58 L1024.75,2302.00 L1025.00,2303.39 L1025.25,2304.76 L1025.30,2305.02 L1025.50,2306.09 L1025.75,2307.41 L1026.00,2308.70 L1026.25,2309.97 L1026.30,2310.22 L1026.50,2311.21 L1026.75,2312.43 L1027.00,2313.63 L1027.25,2314.81 L1027.30,2315.05 L1027.50,2315.97 L1027.75,2317.11 L1028.00,2318.23 L1028.25,2319.33 L1028.30,2319.54 L1028.50,2320.41 L1028.75,2321.47 L1029.00,2322.52 L1029.25,2323.54 L1029.30,2323.75 L1029.50,2324.55 L1029.75,2325.55 L1030.00,2326.52 L1030.25,2327.49 L1030.30,2327.68 L1030.50,2328.43 L1030.75,2329.36 L1031.00,2330.28 L1031.25,2331.18 L1031.30,2331.36 L1031.50,2332.07 L1031.75,2332.94 L1032.00,2333.80 L1032.25,2334.65 L1032.30,2334.82 L1032.50,2335.49 L1032.75,2336.31 L1033.00,2337.12 L1033.25,2337.91 L1033.30,2338.07 L1033.50,2338.70 L1033.75,2339.47 L1034.00,2340.24 L1034.25,2340.99 L1034.30,2341.14 L1034.50,2341.73 L1034.75,2342.46 L1035.00,2343.19 L1035.25,2343.90 L1035.30,2344.04 L1035.50,2344.60 L1035.75,2345.30 L1036.00,2345.98 L1036.25,2346.65 L1036.30,2346.79 L1036.50,2347.32 L1036.75,2347.98 L1037.00,2348.63 L1037.25,2349.27 L1037.30,2349.40 L1037.50,2349.90 L1037.75,2350.53 L1038.00,2351.15 L1038.25,2351.75 L1038.30,2351.88 L1038.50,2352.36 L1038.75,2352.95 L1039.00,2353.54 L1039.25,2354.12 L1039.30,2354.24 L1039.50,2354.69 L1039.75,2355.26 L1040.00,2355.82 L1040.25,2356.37 L1040.30,2356.48 L1040.50,2356.92 L1040.75,2357.46 L1041.00,2358.00 L1041.25,2358.53 L1041.30,2358.63 L1041.50,2359.05 L1041.75,2359.57 L1042.00,2360.08 L1042.25,2360.58 L1042.30,2360.68 L1042.50,2361.08 L1042.75,2361.58 L1043.00,2362.07 L1043.25,2362.55 L1043.30,2362.65 L1043.50,2363.03 L1043.75,2363.50 L1044.00,2363.97 L1044.25,2364.44 L1044.30,2364.53 L1044.50,2364.89 L1044.75,2365.35 L1045.00,2365.80 L1045.25,2366.24 L1045.30,2366.33 L1045.50,2366.68 L1045.75,2367.12 L1046.00,2367.55 L1046.25,2367.98 L1046.30,2368.06 L1046.50,2368.40 L1046.75,2368.82 L1047.00,2369.24 L1047.25,2369.65 L1047.30,2369.73 L1047.50,2370.05 L1047.75,2370.46 L1048.00,2370.86 L1048.25,2371.25 L1048.30,2371.33 L1048.50,2371.64 L1048.75,2372.03 L1049.00,2372.42 L1049.25,2372.80 L1049.30,2372.87 L1049.50,2373.18 L1049.75,2373.55 L1050.00,2373.92 L1050.25,2374.29 L1050.30,2374.36 L1050.50,2374.65 L1050.75,2375.01 L1051.00,2375.37 L1051.25,2375.73 L1051.30,2375.80 L1051.50,2376.08 L1051.75,2376.43 L1052.00,2376.77 L1052.25,2377.11 L1052.30,2377.18 L1052.50,2377.45 L1052.75,2377.79 L1053.00,2378.12 L1053.25,2378.45 L1053.30,2378.52 L1053.50,2378.78 L1053.75,2379.11 L1054.00,2379.43 L1054.25,2379.75 L1054.30,2379.81 L1054.50,2380.07 L1054.75,2380.38 L1055.00,2380.69 L1055.25,2381.00 L1055.30,2381.06 L1055.50,2381.31 L1055.75,2381.62 L1056.00,2381.92 L1056.25,2382.22 L1056.30,2382.28 L1056.50,2382.51 L1056.75,2382.81 L1057.30,2383.45 L1058.30,2384.59 L1059.30,2385.69 L1060.30,2386.76 L1061.30,2387.81 L1062.30,2388.84 L1063.30,2389.84 L1064.30,2390.83 L1065.30,2391.79 L1066.30,2392.73 L1067.30,2393.66 L1068.30,2394.56 L1069.30,2395.45 L1070.30,2396.33 L1071.30,2397.19 L1072.30,2398.03 L1073.30,2398.86 L1074.30,2399.67 L1075.30,2400.47 L1076.30,2401.25 L1077.30,2402.02 L1078.30,2402.78 L1079.30,2403.52 L1080.30,2404.25 L1081.30,2404.97 L1082.30,2405.68 L1083.30,2406.37 L1084.30,2407.05 L1085.30,2407.72 L1086.30,2408.37 L1087.30,2409.02 L1088.30,2409.65 L1089.30,2410.26 L1090.30,2410.87 L1091.30,2411.46 L1092.30,2412.04 L1093.30,2412.61 L1094.30,2413.16 L1095.30,2413.71 L1096.30,2414.24 L1097.30,2414.75 L1098.30,2415.25 L1099.30,2415.74 L1100.30,2416.22 L1101.30,2416.68 L1102.30,2417.13 L1103.30,2417.57 L1104.30,2417.99 L1105.30,2418.39 L1106.30,2418.79 L1107.30,2419.16 L1108.30,2419.54 L1109.30,2419.91 L1110.30,2420.27 L1111.30,2420.63 L1112.30,2420.99 L1113.30,2421.34 L1114.30,2421.69 L1115.30,2422.03 L1116.30,2422.37 L1117.30,2422.70 L1118.30,2423.03 L1119.30,2423.36 L1120.30,2423.68 L1121.30,2423.99 L1122.30,2424.31 L1123.30,2424.62 L1124.30,2424.92 L1125.30,2425.22 L1126.30,2425.52 L1127.30,2425.81 L1128.30,2426.10 L1129.30,2426.39 L1130.30,2426.67 L1131.30,2426.95 L1132.30,2427.22 L1133.30,2427.49 L1134.30,2427.75 L1135.30,2428.02 L1136.30,2428.27 L1137.30,2428.53 L1138.30,2428.78 L1139.30,2429.03 L1140.30,2429.27 L1141.30,2429.51 L1142.30,2429.74 L1143.30,2429.97 L1144.30,2430.20 L1145.30,2430.42 L1146.30,2430.64 L1147.30,2430.86 L1148.30,2431.07 L1149.30,2431.28 L1150.30,2431.48 L1151.30,2431.68 L1152.30,2431.88 L1153.30,2432.07 L1154.30,2432.26 L1155.30,2432.44 L1156.30,2432.62 L1157.30,2432.79 L1158.30,2432.96 L1159.30,2433.13 L1160.30,2433.29 L1161.30,2433.45 L1162.30,2433.61 L1163.30,2433.76 L1164.30,2433.90 L1165.30,2434.04 L1166.30,2434.18 L1167.30,2434.31 L1168.30,2434.44 L1169.30,2434.57 L1170.30,2434.69 L1171.30,2434.80 L1172.30,2434.91 L1173.30,2435.02 L1174.30,2435.12 L1175.30,2435.21 L1176.30,2435.30 L1177.30,2435.39 L1178.30,2435.48 L1179.30,2435.56 L1180.30,2435.64 L1181.30,2435.72 L1182.30,2435.80 L1183.30,2435.88 L1184.30,2435.96 L1185.30,2436.03 L1186.30,2436.11 L1187.30,2436.18 L1188.30,2436.26 L1189.30,2436.33 L1190.30,2436.40 L1191.30,2436.47 L1192.30,2436.55 L1193.30,2436.62 L1194.30,2436.68 L1195.30,2436.75 L1196.30,2436.82 L1197.30,2436.89 L1198.30,2436.95 L1199.30,2437.02 L1200.30,2437.08 L1201.30,2437.14 L1202.30,2437.21 L1203.30,2437.27 L1204.30,2437.33 L1205.30,2437.39 L1206.30,2437.45 L1207.30,2437.51 L1208.30,2437.56 L1209.30,2437.62 L1210.30,2437.68 L1211.30,2437.73 L1212.30,2437.79 L1213.30,2437.84 L1214.30,2437.90 L1215.30,2437.95 L1216.30,2438.00 L1217.30,2438.05 L1218.30,2438.11 L1219.30,2438.16 L1220.30,2438.21 L1221.30,2438.26 L1222.30,2438.30 L1223.30,2438.35 L1224.30,2438.40 L1225.30,2438.45 L1226.30,2438.49 L1227.30,2438.54 L1228.30,2438.58 L1229.30,2438.63 L1230.30,2438.67 L1231.30,2438.71 L1232.30,2438.76 L1233.30,2438.80 L1234.30,2438.84 L1235.30,2438.88 L1236.30,2438.92 L1237.30,2438.96 L1238.30,2439.00 L1239.30,2439.04 L1240.30,2439.08 L1241.30,2439.11 L1242.30,2439.15 L1243.30,2439.19 L1244.30,2439.22 L1245.30,2439.26 L1246.30,2439.29 L1247.30,2439.33 L1248.30,2439.36 L1249.30,2439.39 L1250.30,2439.43 L1251.30,2439.46 L1252.30,2439.49 L1253.30,2439.52 L1254.30,2439.55 L1255.30,2439.58 L1256.30,2439.61 L1257.30,2439.64 L1258.30,2439.67 L1259.30,2439.69 L1260.30,2439.72 L1261.30,2439.75 L1262.30,2439.78 L1263.30,2439.80 L1264.30,2439.83 L1265.30,2439.85 L1266.30,2439.88 L1267.30,2439.90 L1268.30,2439.92 L1269.30,2439.95 L1270.30,2439.97 L1271.30,2439.99 L1272.30,2440.01 L1273.30,2440.03 L1274.30,2440.05 L1275.30,2440.07 L1276.30,2440.09 L1277.30,2440.10 L1278.30,2440.12 L1279.30,2440.13 L1280.30,2440.15 L1281.30,2440.16 L1282.30,2440.17 L1283.30,2440.18 L1284.30,2440.19 L1285.30,2440.20 L1286.30,2440.20 L1287.30,2440.21 L1288.30,2440.22 L1289.30,2440.22 L1290.30,2440.22 L1291.30,2440.23 L1292.30,2440.23 L1293.30,2440.23 L1294.30,2440.23 L1295.30,2440.23 L1296.30,2440.23 L1297.30,2440.22 L1298.30,2440.22 L1299.30,2440.22 L1300.30,2440.21 L1301.30,2440.21 L1302.30,2440.20 L1303.30,2440.19 L1304.30,2440.19 L1305.30,2440.18 L1306.30,2440.17 L1307.30,2440.16 L1308.30,2440.15 L1309.30,2440.14 L1310.30,2440.12 L1311.30,2440.11 L1312.30,2440.10 L1313.30,2440.08 L1314.30,2440.07 L1315.30,2440.05 L1316.30,2440.04 L1317.30,2440.02 L1318.30,2440.00 L1319.30,2439.99 L1320.30,2439.97 L1321.30,2439.95 L1322.30,2439.93 L1323.30,2439.91 L1324.30,2439.89 L1325.30,2439.87 L1326.30,2439.85 L1327.30,2439.83 L1328.30,2439.80 L1329.30,2439.78 L1330.30,2439.76 L1331.30,2439.73 L1332.30,2439.71 L1333.30,2439.68 L1334.30,2439.66 L1335.30,2439.63 L1336.30,2439.61 L1337.30,2439.58 L1338.30,2439.55 L1339.30,2439.53 L1340.30,2439.50 L1341.30,2439.47 L1342.30,2439.44 L1343.30,2439.41 L1344.30,2439.39 L1345.30,2439.36 L1346.30,2439.33 L1347.30,2439.30 L1348.30,2439.27 L1349.30,2439.24 L1350.30,2439.21 L1351.30,2439.18 L1352.30,2439.14 L1353.30,2439.11 L1354.30,2439.08 L1355.30,2439.05 L1356.30,2439.02 L1357.30,2438.99 L1358.30,2438.95 L1359.30,2438.92 L1360.30,2438.89 L1361.30,2438.86 L1362.30,2438.82 L1363.30,2438.79 L1364.30,2438.76 L1365.30,2438.72 L1366.30,2438.69 L1367.30,2438.65 L1368.30,2438.62 L1369.30,2438.58 L1370.30,2438.54 L1371.30,2438.49 L1372.30,2438.45 L1373.30,2438.40 L1374.30,2438.35 L1375.30,2438.30 L1376.30,2438.25 L1377.30,2438.20 L1378.30,2438.14 L1379.30,2438.08 L1380.30,2438.03 L1381.30,2437.97 L1382.30,2437.90 L1383.30,2437.84 L1384.30,2437.78 L1385.30,2437.71 L1386.30,2437.65 L1387.30,2437.58 L1388.30,2437.51 L1389.30,2437.44 L1390.30,2437.37 L1391.30,2437.30 L1392.30,2437.22 L1393.30,2437.15 L1394.30,2437.07 L1395.30,2437.00 L1396.30,2436.92 L1397.30,2436.84 L1398.30,2436.77 L1399.30,2436.69 L1400.30,2436.61 L1401.30,2436.53 L1402.30,2436.45 L1403.30,2436.37 L1404.30,2436.29 L1405.30,2436.21 L1406.30,2436.12 L1407.30,2436.04 L1408.30,2435.96 L1409.30,2435.88 L1410.30,2435.80 L1411.30,2435.71 L1412.30,2435.63 L1413.30,2435.55 L1414.30,2435.47 L1415.30,2435.38 L1416.30,2435.30 L1417.30,2435.22 L1418.30,2435.14 L1419.30,2435.06 L1420.30,2434.98 L1421.30,2434.90 L1422.30,2434.81 L1423.30,2434.73 L1424.30,2434.65 L1425.30,2434.57 L1426.30,2434.49 L1427.30,2434.41 L1428.30,2434.33 L1429.30,2434.25 L1430.30,2434.17 L1431.30,2434.09 L1432.30,2434.00 L1433.30,2433.92 L1434.30,2433.83 L1435.30,2433.74 L1436.30,2433.65 L1437.30,2433.56 L1438.30,2433.47 L1439.30,2433.37 L1440.30,2433.28 L1441.30,2433.18 L1442.30,2433.07 L1443.30,2432.97 L1444.30,2432.86 L1445.30,2432.75 L1446.30,2432.64 L1447.30,2432.53 L1448.30,2432.41 L1449.30,2432.29 L1450.30,2432.16 L1451.30,2432.03 L1452.30,2431.90 L1453.30,2431.77 L1454.30,2431.64 L1455.30,2431.50 L1456.30,2431.36 L1457.30,2431.21 L1458.30,2431.07 L1459.30,2430.92 L1460.30,2430.77 L1461.30,2430.61 L1462.30,2430.46 L1463.30,2430.30 L1464.30,2430.14 L1465.30,2429.97 L1466.30,2429.81 L1467.30,2429.64 L1468.30,2429.47 L1469.30,2429.29 L1470.30,2429.12 L1471.30,2428.94 L1472.30,2428.76 L1473.30,2428.58 L1474.30,2428.39 L1475.30,2428.20 L1476.30,2428.01 L1477.30,2427.82 L1478.30,2427.62 L1479.30,2427.42 L1480.30,2427.22 L1481.30,2427.02 L1482.30,2426.82 L1483.30,2426.61 L1484.30,2426.40 L1485.30,2426.19 L1486.30,2425.97 L1487.30,2425.76 L1488.30,2425.54 L1489.30,2425.32 L1490.30,2425.09 L1491.30,2424.87 L1492.30,2424.64 L1493.30,2424.41 L1494.30,2424.18 L1495.30,2423.94 L1496.30,2423.71 L1497.30,2423.47 L1498.30,2423.23 L1499.30,2422.98 L1500.30,2422.74 L1501.30,2422.49 L1502.30,2422.24 L1503.30,2421.99 L1504.30,2421.73 L1505.30,2421.48 L1506.30,2421.22 L1507.30,2420.96 L1508.30,2420.69 L1509.30,2420.43 L1510.30,2420.16 L1511.30,2419.89 L1512.30,2419.62 L1513.30,2419.35 L1514.30,2419.07 L1515.30,2418.80 L1516.30,2418.52 L1517.30,2418.24 L1518.30,2417.95 L1519.30,2417.67 L1520.30,2417.38 L1521.30,2417.09 L1522.30,2416.80 L1523.30,2416.51 L1524.30,2416.21 L1525.30,2415.91 L1526.30,2415.62 L1527.30,2415.31 L1528.30,2415.01 L1529.30,2414.71 L1530.30,2414.40 L1531.30,2414.09 L1532.30,2413.78 L1533.30,2413.47 L1534.30,2413.15 L1535.30,2412.84 L1536.30,2412.52 L1537.30,2412.20 L1538.30,2411.88 L1539.30,2411.55 L1540.30,2411.23 L1541.30,2410.90 L1542.30,2410.57 L1543.30,2410.23 L1544.30,2409.89 L1545.30,2409.55 L1546.30,2409.20 L1547.30,2408.84 L1548.30,2408.48 L1549.30,2408.12 L1550.30,2407.74 L1551.30,2407.37 L1552.30,2406.99 L1553.30,2406.60 L1554.30,2406.21 L1555.30,2405.81 L1556.30,2405.41 L1557.30,2405.00 L1558.30,2404.59 L1559.30,2404.17 L1560.30,2403.74 L1561.30,2403.31 L1562.30,2402.88 L1563.30,2402.43 L1564.30,2401.99 L1565.30,2401.53 L1566.30,2401.07 L1567.30,2400.61 L1568.30,2400.13 L1569.30,2399.66 L1570.30,2399.17 L1571.30,2398.68 L1572.30,2398.18 L1573.30,2397.68 L1574.30,2397.17 L1575.30,2396.66 L1576.30,2396.13 L1577.30,2395.60 L1578.30,2395.07 L1579.30,2394.53 L1580.30,2393.98 L1581.30,2393.42 L1582.30,2392.86 L1583.30,2392.29 L1584.30,2391.71 L1585.30,2391.13 L1586.30,2390.54 L1587.30,2389.94 L1588.30,2389.34 L1589.30,2388.73 L1590.30,2388.11 L1591.30,2387.48 L1592.30,2386.85 L1593.30,2386.21 L1594.30,2385.56 L1595.30,2384.91 L1596.30,2384.24 L1597.30,2383.57 L1598.30,2382.89 L1599.30,2382.21 L1600.30,2381.51 L1601.30,2380.81 L1602.30,2380.10 L1603.30,2379.36 L1604.30,2378.60 L1605.30,2377.81 L1606.30,2376.99 L1607.30,2376.16 L1608.30,2375.30 L1609.30,2374.41 L1610.30,2373.51 L1611.30,2372.58 L1612.30,2371.63 L1613.30,2370.66 L1614.30,2369.66 L1615.30,2368.65 L1616.30,2367.62 L1617.30,2366.57 L1618.30,2365.50 L1619.30,2364.41 L1620.30,2363.30 L1621.30,2362.17 L1622.30,2361.03 L1623.30,2359.87 L1624.30,2358.70 L1625.30,2357.51 L1626.30,2356.30 L1627.30,2355.08 L1628.30,2353.84 L1629.30,2352.60 L1630.30,2351.33 L1631.30,2350.06 L1632.30,2348.77 L1633.30,2347.47 L1634.30,2346.15 L1635.30,2344.83 L1636.30,2343.49 L1637.30,2342.15 L1638.30,2340.79 L1639.30,2339.41 L1640.30,2337.99 L1641.30,2336.53 L1642.30,2335.04 L1643.30,2333.52 L1644.30,2331.96 L1645.30,2330.38 L1646.30,2328.76 L1647.30,2327.10 L1648.30,2325.42 L1649.30,2323.71 L1650.30,2321.96 L1651.30,2320.19 L1652.30,2318.38 L1653.30,2316.55 L1654.30,2314.68 L1655.30,2312.79 L1656.30,2310.87 L1657.30,2308.93 L1658.30,2306.95 L1659.30,2304.95 L1660.30,2302.93 L1661.30,2300.88 L1662.30,2298.80 L1663.30,2296.69 L1664.30,2294.55 L1665.30,2292.37 L1666.30,2290.15 L1667.30,2287.88 L1668.30,2285.58 L1669.30,2283.23 L1670.30,2280.84 L1671.30,2278.40 L1672.30,2275.90 L1673.30,2273.36 L1674.30,2270.77 L1675.30,2268.12 L1676.30,2265.42 L1677.30,2262.66 L1678.30,2259.85 L1679.30,2256.97 L1680.30,2254.03 L1681.30,2251.03 L1682.30,2247.97 L1683.30,2244.83 L1684.30,2241.61 L1685.30,2238.22 L1686.30,2234.69 L1687.30,2231.03 L1688.30,2227.24 L1689.30,2223.34 L1690.30,2219.33 L1691.30,2215.24 L1692.30,2211.06 L1693.30,2206.80 L1694.30,2202.49 L1695.30,2198.13 L1696.30,2193.72 L1697.30,2189.29 L1698.30,2184.84 L1699.30,2180.38 L1700.30,2175.90 L1701.30,2171.39 L1702.30,2166.83 L1703.30,2162.19 L1704.30,2157.45 L1705.30,2152.60 L1706.30,2147.61 L1707.30,2142.46 L1708.30,2137.13 L1709.30,2131.61 L1710.30,2125.86 L1711.30,2119.85 L1712.30,2113.39 L1713.30,2106.51 L1714.30,2099.29 L1715.30,2091.78 L1716.30,2084.04 L1717.30,2076.15 L1718.30,2068.15 L1719.30,2060.12 L1720.30,2052.12 L1721.30,2044.21 L1722.30,2036.45 L1723.30,2028.91 L1724.30,2021.60 L1725.30,2014.44 L1726.30,2007.39 L1727.30,2000.38 L1728.30,1993.35 L1729.30,1986.23 L1730.30,1978.97 L1731.30,1971.49 L1732.30,1963.75 L1733.30,1955.67 L1734.30,1947.20 L1735.30,1938.27 L1736.30,1928.83 L1737.30,1918.86 L1738.30,1908.38 L1739.30,1897.37 L1740.30,1885.83 L1741.30,1873.76 L1742.30,1861.12 L1743.30,1847.26 L1744.30,1832.24 L1745.30,1816.36 L1746.30,1799.97 L1747.30,1783.36 L1748.30,1766.88 L1749.30,1750.83 L1750.30,1735.53 L1751.30,1721.10 L1752.30,1706.83 L1753.30,1692.71 L1754.30,1678.81 L1755.30,1665.19 L1756.30,1651.93 L1757.30,1639.09 L1758.30,1626.74 L1759.30,1614.95 L1760.30,1603.77 L1761.30,1593.14 L1762.30,1582.96 L1763.30,1573.10 L1764.30,1563.46 L1765.30,1553.92 L1766.30,1544.37 L1767.30,1534.70 L1768.30,1524.80 L1769.30,1514.65 L1770.30,1504.36 L1771.30,1494.01 L1772.30,1483.69 L1773.30,1473.48 L1774.30,1463.47 L1775.30,1453.75 L1776.30,1444.41 L1777.30,1435.44 L1778.30,1426.52 L1779.30,1417.71 L1780.30,1409.13 L1781.30,1400.95 L1782.30,1393.29 L1783.30,1386.31 L1784.30,1380.10 L1785.30,1374.11 L1786.30,1368.28 L1787.30,1362.75 L1788.30,1357.71 L1789.30,1353.31 L1790.30,1349.72 L1791.30,1347.10 L1792.30,1345.11 L1793.30,1343.29 L1794.30,1341.63 L1795.30,1340.12 L1796.30,1338.74 L1797.30,1337.50 L1798.30,1336.39 L1799.30,1335.38 L1800.30,1334.49 L1801.30,1333.69 L1802.30,1332.98 L1803.30,1332.35 L1804.30,1331.74 L1805.30,1331.14 L1806.30,1330.56 L1807.30,1330.00 L1808.30,1329.47 L1809.30,1328.97 L1810.30,1328.51 L1811.30,1328.09 L1812.30,1327.73 L1813.30,1327.41 L1814.30,1327.16 L1815.30,1326.97 L1816.30,1326.85 L1817.30,1326.80 L1818.30,1326.82 L1819.30,1326.87 L1820.30,1326.96 L1821.30,1327.07 L1822.30,1327.20 L1823.30,1327.34 L1824.30,1327.50 L1825.30,1327.65 L1826.30,1327.80 L1827.30,1327.94 L1828.30,1328.07 L1829.30,1328.17 L1830.30,1328.25 L1831.30,1328.29 L1832.30,1328.28 L1833.30,1328.10 L1834.30,1327.74 L1835.30,1327.19 L1836.30,1326.49 L1837.30,1325.64 L1838.30,1324.67 L1839.30,1323.57 L1840.30,1322.38 L1841.30,1321.09 L1842.30,1319.74 L1843.30,1318.32 L1844.30,1316.86 L1845.30,1315.37 L1846.30,1313.87 L1847.30,1312.36 L1848.30,1310.87 L1849.30,1309.40 L1850.30,1307.87 L1851.30,1306.19 L1852.30,1304.37 L1853.30,1302.42 L1854.30,1300.37 L1855.30,1298.22 L1856.30,1296.00 L1857.30,1293.70 L1858.30,1291.36 L1859.30,1288.98 L1860.30,1286.58 L1861.30,1284.17 L1862.30,1281.78 L1863.30,1279.40 L1864.30,1277.07 L1865.30,1274.78 L1866.30,1272.56 L1867.30,1270.41 L1868.30,1268.27 L1869.30,1266.13 L1870.30,1263.99 L1871.30,1261.86 L1872.30,1259.72 L1873.30,1257.59 L1874.30,1255.46 L1875.30,1253.34 L1876.30,1251.21 L1877.30,1249.09 L1878.30,1246.97 L1879.30,1244.85 L1880.30,1242.74 L1881.30,1240.63 L1882.30,1238.52 L1883.30,1236.41 L1884.30,1234.30 L1885.30,1232.20 L1886.30,1230.10 L1887.30,1228.00" fill="none" stroke="#ffff00" stroke-width="4.6" stroke-linejoin="round"/>
<path d="M298.30,1614.70 L299.30,1622.95 L300.30,1630.96 L301.30,1638.68 L302.30,1646.03 L303.30,1652.95 L304.30,1659.38 L305.30,1665.35 L306.30,1671.04 L307.30,1676.48 L308.30,1681.69 L309.30,1686.70 L310.30,1691.52 L311.30,1696.19 L312.30,1700.71 L313.30,1705.12 L314.30,1709.43 L315.30,1713.64 L316.30,1717.74 L317.30,1721.74 L318.30,1725.65 L319.30,1729.47 L320.30,1733.21 L321.30,1736.88 L322.30,1740.48 L323.30,1744.01 L324.30,1747.50 L325.30,1750.93 L326.30,1754.32 L327.30,1757.68 L328.30,1761.01 L329.30,1764.35 L330.30,1767.81 L331.30,1771.34 L332.30,1774.91 L333.30,1778.49 L334.30,1782.03 L335.30,1785.50 L336.30,1788.85 L337.30,1792.04 L338.30,1795.05 L339.30,1797.83 L340.30,1800.34 L341.30,1802.54 L342.30,1804.39 L343.30,1805.87 L344.30,1807.20 L345.30,1808.51 L346.30,1809.79 L347.30,1811.03 L348.30,1812.22 L349.30,1813.35 L350.30,1814.42 L351.30,1815.42 L352.30,1816.34 L353.30,1817.18 L354.30,1817.92 L355.30,1818.56 L356.30,1819.10 L357.30,1819.51 L358.30,1819.81 L359.30,1819.97 L360.30,1819.99 L361.30,1819.82 L362.30,1819.47 L363.30,1818.94 L364.30,1818.25 L365.30,1817.41 L366.30,1816.45 L367.30,1815.37 L368.30,1814.19 L369.30,1812.93 L370.30,1811.60 L371.30,1810.22 L372.30,1808.80 L373.30,1807.35 L374.30,1805.89 L375.30,1804.34 L376.30,1802.49 L377.30,1800.39 L378.30,1798.06 L379.30,1795.53 L380.30,1792.84 L381.30,1790.02 L382.30,1787.10 L383.30,1784.12 L384.30,1781.10 L385.30,1778.08 L386.30,1775.09 L387.30,1772.07 L388.30,1768.81 L389.30,1765.35 L390.30,1761.75 L391.30,1758.05 L392.30,1754.31 L393.30,1750.58 L394.30,1746.93 L395.30,1743.40 L396.30,1740.06 L397.30,1736.95 L398.30,1734.13 L399.30,1731.60 L400.30,1729.15 L401.30,1726.76 L402.30,1724.43 L403.30,1722.19 L404.30,1720.04 L405.30,1718.00 L406.30,1716.06 L407.30,1714.25 L408.30,1712.57 L409.30,1711.02 L410.30,1709.63 L411.30,1708.38 L412.30,1707.13 L413.30,1705.87 L414.30,1704.65 L415.30,1703.48 L416.30,1702.40 L417.30,1701.43 L418.30,1700.62 L419.30,1699.97 L420.30,1699.53 L421.30,1699.31 L422.30,1699.50 L423.30,1700.46 L424.30,1702.13 L425.30,1704.42 L426.30,1707.22 L427.30,1710.46 L428.30,1714.03 L429.30,1717.84 L430.30,1721.85 L431.30,1727.53 L432.30,1735.08 L433.30,1743.81 L434.30,1753.06 L435.30,1762.12 L436.30,1770.40 L437.30,1778.52 L438.30,1786.71 L439.30,1794.85 L440.30,1802.83 L441.30,1810.51 L442.30,1817.53 L443.30,1823.67 L444.30,1829.61 L445.30,1836.02 L446.30,1843.62 L447.30,1853.40 L448.30,1868.66 L449.30,1883.33 L450.30,1895.16 L451.30,1906.24 L452.30,1916.70 L453.30,1926.63 L454.30,1936.15 L455.30,1945.38 L456.30,1954.43 L457.30,1963.40 L458.30,1972.34 L459.30,1981.15 L460.30,1989.84 L461.30,1998.40 L462.30,2006.82 L463.30,2015.09 L464.30,2023.21 L465.30,2031.17 L466.30,2038.97 L467.30,2046.58 L468.30,2054.02 L469.30,2061.26 L470.30,2068.31 L471.30,2075.15 L472.30,2081.86 L473.30,2088.45 L474.30,2094.93 L475.30,2101.30 L476.30,2107.56 L477.30,2113.70 L478.30,2119.73 L479.30,2125.64 L480.30,2131.43 L481.30,2137.10 L482.30,2142.66 L483.30,2148.10 L484.30,2153.41 L485.30,2158.61 L486.30,2163.68 L487.30,2168.63 L488.30,2173.48 L489.30,2178.30 L490.30,2183.06 L491.30,2187.76 L492.30,2192.37 L493.30,2196.88 L494.30,2201.27 L495.30,2205.53 L496.30,2209.65 L497.30,2213.59 L498.30,2217.36 L499.30,2220.92 L500.30,2224.28 L501.30,2227.40 L502.30,2230.33 L503.30,2233.09 L504.30,2235.71 L505.30,2238.21 L506.30,2240.60 L507.30,2242.90 L508.30,2245.12 L509.30,2247.29 L510.30,2249.42 L511.30,2251.52 L512.30,2253.63 L513.30,2255.74 L514.30,2257.89 L515.30,2260.08 L516.30,2262.34 L517.30,2264.68 L518.30,2267.12 L519.30,2269.69 L520.30,2272.34 L521.30,2275.07 L522.30,2277.85 L523.30,2280.66 L524.30,2283.48 L525.30,2286.28 L526.30,2289.03 L527.30,2291.73 L528.30,2294.34 L529.30,2296.85 L530.30,2299.22 L531.30,2301.44 L532.30,2303.49 L533.30,2305.34 L534.30,2306.97 L535.30,2308.51 L536.30,2310.00 L537.30,2311.44 L538.30,2312.83 L539.30,2314.17 L540.30,2315.47 L541.30,2316.73 L542.30,2317.95 L543.30,2319.13 L544.30,2320.28 L545.30,2321.40 L546.30,2322.49 L547.30,2323.55 L548.30,2324.58 L549.30,2325.59 L550.30,2326.58 L551.30,2327.55 L552.30,2328.51 L553.30,2329.45 L554.30,2330.38 L555.30,2331.30 L556.30,2332.21 L557.30,2333.12 L558.30,2334.02 L559.30,2334.92 L560.30,2335.83 L561.30,2336.74 L562.30,2337.65 L563.30,2338.57 L564.30,2339.51 L565.30,2340.45 L566.30,2341.42 L567.30,2342.39 L568.30,2343.38 L569.30,2344.36 L570.30,2345.35 L571.30,2346.34 L572.30,2347.33 L573.30,2348.31 L574.30,2349.29 L575.30,2350.27 L576.30,2351.25 L577.30,2352.22 L578.30,2353.18 L579.30,2354.13 L580.30,2355.07 L581.30,2356.01 L582.30,2356.93 L583.30,2357.84 L584.30,2358.73 L585.30,2359.61 L586.30,2360.48 L587.30,2361.33 L588.30,2362.16 L589.30,2362.97 L590.30,2363.76 L591.30,2364.53 L592.30,2365.28 L593.30,2366.00 L594.30,2366.70 L595.30,2367.38 L596.30,2368.06 L597.30,2368.73 L598.30,2369.39 L599.30,2370.05 L600.30,2370.70 L601.30,2371.34 L602.30,2371.98 L603.30,2372.60 L604.30,2373.22 L605.30,2373.84 L606.30,2374.44 L607.30,2375.04 L608.30,2375.63 L609.30,2376.22 L610.30,2376.79 L611.30,2377.36 L612.30,2377.92 L613.30,2378.48 L614.30,2379.02 L615.30,2379.56 L616.30,2380.09 L617.30,2380.61 L618.30,2381.13 L619.30,2381.63 L620.30,2382.13 L621.30,2382.62 L622.30,2383.10 L623.30,2383.58 L624.30,2384.04 L625.30,2384.50 L626.30,2384.95 L627.30,2385.39 L628.30,2385.82 L629.30,2386.24 L630.30,2386.66 L631.30,2387.06 L632.30,2387.46 L633.30,2387.85 L634.30,2388.23 L635.30,2388.60 L636.30,2388.96 L637.30,2389.33 L638.30,2389.68 L639.30,2390.04 L640.30,2390.39 L641.30,2390.73 L642.30,2391.08 L643.30,2391.42 L644.30,2391.75 L645.30,2392.08 L646.30,2392.41 L647.30,2392.73 L648.30,2393.05 L649.30,2393.36 L650.30,2393.67 L651.30,2393.97 L652.30,2394.27 L653.30,2394.56 L654.30,2394.84 L655.30,2395.13 L656.30,2395.40 L657.30,2395.67 L658.30,2395.94 L659.30,2396.20 L660.30,2396.45 L661.30,2396.70 L662.30,2396.94 L663.30,2397.17 L664.30,2397.40 L665.30,2397.62 L666.30,2397.83 L667.30,2398.04 L668.30,2398.24 L669.30,2398.44 L670.30,2398.62 L671.30,2398.80 L672.30,2398.97 L673.30,2399.14 L674.30,2399.30 L675.30,2399.44 L676.30,2399.59 L677.30,2399.72 L678.30,2399.86 L679.30,2400.00 L680.30,2400.13 L681.30,2400.27 L682.30,2400.41 L683.30,2400.54 L684.30,2400.67 L685.30,2400.81 L686.30,2400.94 L687.30,2401.06 L688.30,2401.19 L689.30,2401.31 L690.30,2401.43 L691.30,2401.54 L692.30,2401.65 L693.30,2401.76 L694.30,2401.86 L695.30,2401.96 L696.30,2402.05 L697.30,2402.14 L698.30,2402.22 L699.30,2402.30 L700.30,2402.37 L701.30,2402.43 L702.30,2402.49 L703.30,2402.54 L704.30,2402.58 L705.30,2402.62 L706.30,2402.64 L707.30,2402.66 L708.30,2402.67 L709.30,2402.67 L710.30,2402.66 L711.30,2402.64 L712.30,2402.62 L713.30,2402.58 L714.30,2402.53 L715.30,2402.47 L716.30,2402.40 L717.30,2402.32 L718.30,2402.23 L719.30,2402.14 L720.30,2402.04 L721.30,2401.95 L722.30,2401.85 L723.30,2401.75 L724.30,2401.65 L725.30,2401.55 L726.30,2401.44 L727.30,2401.34 L728.30,2401.23 L729.30,2401.12 L730.30,2401.01 L731.30,2400.89 L732.30,2400.78 L733.30,2400.66 L734.30,2400.54 L735.30,2400.42 L736.30,2400.29 L737.30,2400.16 L738.30,2400.03 L739.30,2399.90 L740.30,2399.77 L741.30,2399.63 L742.30,2399.49 L743.30,2399.35 L744.30,2399.20 L745.30,2399.05 L746.30,2398.90 L747.30,2398.75 L748.30,2398.59 L749.30,2398.43 L750.30,2398.27 L751.30,2398.10 L752.30,2397.93 L753.30,2397.76 L754.30,2397.58 L755.30,2397.40 L756.30,2397.22 L757.30,2397.03 L758.30,2396.84 L759.30,2396.64 L760.30,2396.43 L761.30,2396.20 L762.30,2395.96 L763.30,2395.71 L764.30,2395.44 L765.30,2395.17 L766.30,2394.87 L767.30,2394.57 L768.30,2394.25 L769.30,2393.92 L770.30,2393.58 L771.30,2393.22 L772.30,2392.85 L773.30,2392.47 L774.30,2392.07 L775.30,2391.67 L776.30,2391.25 L777.30,2390.81 L778.30,2390.37 L779.30,2389.91 L780.30,2389.44 L781.30,2388.96 L782.30,2388.46 L783.30,2387.95 L784.30,2387.43 L785.30,2386.89 L786.30,2386.34 L787.30,2385.78 L788.30,2385.20 L789.30,2384.62 L790.30,2384.01 L791.30,2383.40 L792.30,2382.76 L793.30,2382.12 L794.30,2381.46 L795.30,2380.78 L796.30,2380.09 L797.30,2379.39 L798.30,2378.66 L799.30,2377.92 L800.30,2377.15 L801.30,2376.31 L802.30,2375.39 L803.30,2374.40 L804.30,2373.35 L805.30,2372.24 L806.30,2371.07 L807.30,2369.86 L808.30,2368.59 L809.30,2367.28 L810.30,2365.93 L811.30,2364.54 L812.30,2363.12 L813.30,2361.67 L814.30,2360.20 L815.30,2358.70 L816.30,2357.19 L817.30,2355.66 L818.30,2354.12 L819.30,2352.58 L820.30,2351.02 L820.70,2350.40 L820.95,2350.01 L821.20,2349.62 L821.30,2349.47 L821.45,2349.23 L821.70,2348.85 L821.95,2348.46 L822.20,2348.07 L822.30,2347.91 L822.45,2347.68 L822.70,2347.29 L822.95,2346.90 L823.20,2346.51 L823.30,2346.36 L823.45,2346.13 L823.70,2345.74 L823.95,2345.35 L824.20,2344.96 L824.30,2344.81 L824.45,2344.58 L824.70,2344.19 L824.95,2343.81 L825.20,2343.42 L825.30,2343.27 L825.45,2343.04 L825.70,2342.65 L825.95,2342.27 L826.20,2341.89 L826.30,2341.74 L826.45,2341.51 L826.70,2341.12 L826.95,2340.74 L827.20,2340.36 L827.30,2340.21 L827.45,2339.98 L827.70,2339.61 L827.95,2339.23 L828.20,2338.85 L828.30,2338.70 L828.45,2338.47 L828.70,2338.09 L828.95,2337.71 L829.20,2337.33 L829.30,2337.17 L829.45,2336.94 L829.70,2336.55 L829.95,2336.15 L830.20,2335.76 L830.30,2335.60 L830.45,2335.36 L830.70,2334.95 L830.95,2334.55 L831.20,2334.14 L831.30,2333.97 L831.45,2333.72 L831.70,2333.30 L831.95,2332.88 L832.20,2332.46 L832.30,2332.28 L832.45,2332.03 L832.70,2331.59 L832.95,2331.16 L833.20,2330.71 L833.30,2330.54 L833.45,2330.27 L833.70,2329.82 L833.95,2329.36 L834.20,2328.90 L834.30,2328.71 L834.45,2328.43 L834.70,2327.96 L834.95,2327.49 L835.20,2327.01 L835.30,2326.82 L835.45,2326.52 L835.70,2326.03 L835.95,2325.54 L836.20,2325.03 L836.30,2324.83 L836.45,2324.52 L836.70,2324.01 L836.95,2323.49 L837.20,2322.96 L837.30,2322.75 L837.45,2322.43 L837.70,2321.89 L837.95,2321.34 L838.20,2320.79 L838.30,2320.57 L838.45,2320.23 L838.70,2319.66 L838.95,2319.09 L839.20,2318.50 L839.30,2318.27 L839.45,2317.91 L839.70,2317.31 L839.95,2316.71 L840.20,2316.09 L840.30,2315.85 L840.45,2315.47 L840.70,2314.84 L840.95,2314.20 L841.20,2313.55 L841.30,2313.28 L841.45,2312.89 L841.70,2312.22 L841.95,2311.54 L842.20,2310.85 L842.30,2310.57 L842.45,2310.15 L842.70,2309.44 L842.95,2308.72 L843.20,2307.99 L843.30,2307.69 L843.45,2307.25 L843.70,2306.49 L843.95,2305.73 L844.20,2304.95 L844.30,2304.63 L844.45,2304.16 L844.70,2303.36 L844.95,2302.54 L845.20,2301.71 L845.30,2301.37 L845.45,2300.87 L845.70,2300.01 L845.95,2299.14 L846.20,2298.25 L846.30,2297.89 L846.45,2297.35 L846.70,2296.43 L846.95,2295.50 L847.20,2294.55 L847.30,2294.17 L847.45,2293.59 L847.70,2292.61 L847.95,2291.61 L848.20,2290.59 L848.30,2290.18 L848.45,2289.55 L848.70,2288.50 L848.95,2287.43 L849.20,2286.33 L849.30,2285.89 L849.45,2285.22 L849.70,2284.09 L849.95,2282.93 L850.20,2281.75 L850.30,2281.28 L850.45,2280.55 L850.70,2279.33 L850.95,2278.08 L851.20,2276.81 L851.30,2276.30 L851.45,2275.52 L851.70,2274.20 L851.95,2272.85 L852.20,2271.47 L852.30,2270.92 L852.45,2270.07 L852.70,2268.64 L852.95,2267.18 L853.20,2265.69 L853.30,2265.09 L853.45,2264.17 L853.70,2262.62 L853.95,2261.03 L854.20,2259.42 L854.30,2258.76 L854.45,2257.76 L854.70,2256.07 L854.95,2254.35 L855.20,2252.59 L855.30,2251.87 L855.45,2250.78 L855.70,2248.94 L855.95,2247.06 L856.20,2245.14 L856.30,2244.35 L856.45,2243.17 L856.70,2241.16 L856.95,2239.10 L857.20,2236.99 L857.30,2236.13 L857.45,2234.84 L857.70,2232.63 L857.95,2230.37 L858.20,2228.06 L858.30,2227.12 L858.45,2225.69 L858.70,2223.27 L858.95,2220.79 L859.20,2218.24 L859.30,2217.21 L859.45,2215.64 L859.70,2212.97 L859.95,2210.23 L860.20,2207.42 L860.30,2206.28 L860.45,2204.54 L860.70,2201.59 L860.95,2198.56 L861.20,2195.45 L861.30,2194.19 L861.45,2192.26 L861.70,2188.99 L861.95,2185.63 L862.20,2182.18 L862.30,2180.77 L862.45,2178.63 L862.70,2174.99 L862.95,2171.25 L863.20,2167.40 L863.30,2165.83 L863.45,2163.45 L863.70,2159.38 L863.95,2155.20 L864.20,2150.90 L864.30,2149.15 L864.45,2146.48 L864.70,2141.92 L864.95,2137.24 L865.20,2132.41 L865.30,2130.44 L865.45,2127.44 L865.70,2122.32 L865.95,2117.05 L866.20,2111.61 L866.30,2109.39 L866.45,2106.00 L866.70,2100.22 L866.95,2094.27 L867.20,2088.12 L867.30,2085.60 L867.45,2081.77 L867.70,2075.22 L867.95,2068.46 L868.20,2061.48 L868.30,2058.63 L868.45,2054.28 L868.70,2046.83 L868.95,2039.13 L869.20,2031.18 L869.30,2027.92 L869.45,2022.95 L869.70,2014.45 L869.95,2005.65 L870.20,1996.55 L870.30,1992.82 L870.45,1987.14 L870.70,1977.39 L870.95,1967.31 L871.20,1956.86 L871.30,1952.59 L871.45,1946.05 L871.70,1934.86 L871.95,1923.26 L872.20,1911.25 L872.30,1906.33 L872.45,1898.81 L872.70,1885.92 L872.95,1872.57 L873.20,1858.74 L873.30,1853.07 L873.45,1844.41 L873.70,1829.58 L873.95,1814.22 L874.20,1798.32 L874.30,1791.80 L874.45,1781.86 L874.70,1764.84 L874.95,1747.23 L875.20,1729.05 L875.30,1721.61 L875.45,1710.27 L875.70,1690.89 L875.95,1670.93 L876.20,1650.38 L876.30,1641.99 L876.45,1629.25 L876.70,1607.58 L876.95,1585.39 L877.20,1562.72 L877.30,1553.53 L877.45,1539.63 L877.70,1516.18 L877.95,1492.47 L878.20,1468.60 L878.30,1459.04 L878.45,1444.71 L878.70,1420.98 L878.95,1397.59 L879.20,1374.81 L879.30,1365.93 L879.45,1352.94 L879.70,1332.35 L879.95,1313.53 L880.20,1297.14 L880.30,1291.46 L880.45,1284.16 L880.70,1277.00 L880.95,1284.44 L881.20,1297.69 L881.30,1304.02 L881.45,1314.36 L881.70,1333.46 L881.95,1354.33 L882.20,1376.48 L882.30,1385.61 L882.45,1399.54 L882.70,1423.20 L882.95,1447.22 L883.20,1471.38 L883.30,1481.05 L883.45,1495.52 L883.70,1519.51 L883.95,1543.24 L884.20,1566.61 L884.30,1575.84 L884.45,1589.55 L884.70,1612.02 L884.95,1633.97 L885.20,1655.37 L885.30,1663.77 L885.45,1676.19 L885.70,1696.43 L885.95,1716.08 L886.20,1735.14 L886.30,1742.59 L886.45,1753.60 L886.70,1771.47 L886.95,1788.77 L887.20,1805.50 L887.30,1812.03 L887.45,1821.67 L887.70,1837.30 L887.95,1852.41 L888.20,1867.01 L888.30,1872.70 L888.45,1881.11 L888.70,1894.73 L888.95,1907.88 L889.20,1920.59 L889.30,1925.55 L889.45,1932.87 L889.70,1944.73 L889.95,1956.20 L890.20,1967.27 L890.30,1971.60 L890.45,1977.98 L890.70,1988.33 L890.95,1998.34 L891.20,2008.02 L891.30,2011.80 L891.45,2017.38 L891.70,2026.44 L891.95,2035.20 L892.20,2043.68 L892.30,2047.00 L892.45,2051.90 L892.70,2059.85 L892.95,2067.56 L893.20,2075.02 L893.30,2077.95 L893.45,2082.26 L893.70,2089.27 L893.95,2096.08 L894.20,2102.67 L894.30,2105.26 L894.45,2109.07 L894.70,2115.28 L894.95,2121.31 L895.20,2127.16 L895.30,2129.46 L895.45,2132.85 L895.70,2138.37 L895.95,2143.74 L896.20,2148.95 L896.30,2151.00 L896.45,2154.02 L896.70,2158.95 L896.95,2163.75 L897.20,2168.41 L897.30,2170.24 L897.45,2172.95 L897.70,2177.37 L897.95,2181.67 L898.20,2185.86 L898.30,2187.50 L898.45,2189.94 L898.70,2193.91 L898.95,2197.79 L899.20,2201.56 L899.30,2203.04 L899.45,2205.24 L899.70,2208.83 L899.95,2212.33 L900.20,2215.74 L900.30,2217.08 L900.45,2219.07 L900.70,2222.32 L900.95,2225.50 L901.20,2228.60 L901.30,2229.81 L901.45,2231.62 L901.70,2234.57 L901.95,2237.46 L902.20,2240.28 L902.30,2241.39 L902.45,2243.03 L902.70,2245.73 L902.95,2248.36 L903.20,2250.93 L903.30,2251.95 L903.45,2253.45 L903.70,2255.91 L903.95,2258.32 L904.20,2260.67 L904.30,2261.60 L904.45,2262.98 L904.70,2265.23 L904.95,2267.44 L905.20,2269.60 L905.30,2270.46 L905.45,2271.72 L905.70,2273.79 L905.95,2275.82 L906.20,2277.81 L906.30,2278.59 L906.45,2279.76 L906.70,2281.66 L906.95,2283.53 L907.20,2285.37 L907.30,2286.09 L907.45,2287.16 L907.70,2288.92 L907.95,2290.65 L908.20,2292.34 L908.30,2293.01 L908.45,2294.00 L908.70,2295.63 L908.95,2297.22 L909.20,2298.79 L909.30,2299.40 L909.45,2300.32 L909.70,2301.83 L909.95,2303.31 L910.20,2304.76 L910.30,2305.33 L910.45,2306.18 L910.70,2307.58 L910.95,2308.95 L911.20,2310.30 L911.30,2310.83 L911.45,2311.62 L911.70,2312.92 L911.95,2314.19 L912.20,2315.44 L912.30,2315.94 L912.45,2316.67 L912.70,2317.88 L912.95,2319.06 L913.20,2320.23 L913.30,2320.69 L913.45,2321.37 L913.70,2322.49 L913.95,2323.60 L914.20,2324.68 L914.30,2325.11 L914.45,2325.75 L914.70,2326.79 L914.95,2327.82 L915.20,2328.83 L915.30,2329.23 L915.45,2329.82 L915.70,2330.80 L915.95,2331.76 L916.20,2332.70 L916.30,2333.08 L916.45,2333.63 L916.70,2334.54 L916.95,2335.44 L917.20,2336.32 L917.30,2336.66 L917.45,2337.18 L917.70,2338.03 L917.95,2338.87 L918.20,2339.69 L918.30,2340.01 L918.45,2340.50 L918.70,2341.29 L918.95,2342.07 L919.20,2342.84 L919.30,2343.14 L919.45,2343.59 L919.70,2344.33 L919.95,2345.06 L920.20,2345.78 L920.30,2346.06 L920.45,2346.49 L920.70,2347.18 L920.95,2347.86 L921.20,2348.54 L921.30,2348.80 L921.45,2349.20 L921.70,2349.85 L921.95,2350.49 L922.20,2351.12 L922.30,2351.37 L922.45,2351.74 L922.70,2352.35 L922.95,2352.95 L923.20,2353.54 L923.30,2353.77 L923.45,2354.12 L923.70,2354.69 L923.95,2355.26 L924.20,2355.81 L924.30,2356.03 L924.45,2356.36 L924.70,2356.90 L924.95,2357.43 L925.20,2357.95 L925.30,2358.16 L925.45,2358.46 L925.70,2358.97 L925.95,2359.47 L926.20,2359.96 L926.30,2360.16 L926.45,2360.45 L926.70,2360.92 L926.95,2361.39 L927.20,2361.86 L927.30,2362.04 L927.45,2362.32 L927.70,2362.77 L927.95,2363.21 L928.20,2363.65 L928.30,2363.82 L928.45,2364.08 L928.70,2364.51 L928.95,2364.93 L929.20,2365.35 L929.30,2365.51 L929.45,2365.76 L929.70,2366.16 L929.95,2366.56 L930.20,2366.95 L930.30,2367.11 L930.45,2367.34 L930.70,2367.73 L930.95,2368.11 L931.20,2368.48 L931.30,2368.63 L931.45,2368.85 L931.70,2369.22 L931.95,2369.58 L932.20,2369.94 L932.30,2370.08 L932.45,2370.29 L932.70,2370.64 L932.95,2370.98 L933.20,2371.32 L933.30,2371.46 L933.45,2371.66 L933.70,2372.00 L933.95,2372.33 L934.20,2372.65 L934.30,2372.78 L934.45,2372.98 L934.70,2373.30 L934.95,2373.62 L935.20,2373.93 L935.30,2374.05 L935.45,2374.24 L935.70,2374.55 L935.95,2374.85 L936.20,2375.16 L936.30,2375.28 L936.45,2375.46 L936.70,2375.76 L936.95,2376.05 L937.20,2376.34 L937.30,2376.46 L937.45,2376.64 L937.70,2376.92 L937.95,2377.21 L938.20,2377.50 L938.30,2377.61 L938.45,2377.78 L938.70,2378.06 L938.95,2378.34 L939.20,2378.62 L939.30,2378.73 L939.45,2378.89 L939.70,2379.17 L939.95,2379.44 L940.20,2379.71 L940.30,2379.82 L940.45,2379.98 L941.30,2380.89 L942.30,2381.94 L943.30,2382.96 L944.30,2383.96 L945.30,2384.93 L946.30,2385.88 L947.30,2386.81 L948.30,2387.72 L949.30,2388.61 L950.30,2389.49 L951.30,2390.34 L952.30,2391.18 L953.30,2392.00 L954.30,2392.81 L955.30,2393.61 L956.30,2394.39 L957.30,2395.16 L958.30,2395.92 L959.30,2396.67 L960.30,2397.40 L961.30,2398.12 L962.30,2398.84 L963.30,2399.54 L964.30,2400.23 L965.30,2400.91 L966.30,2401.58 L967.30,2402.25 L968.30,2402.90 L969.30,2403.54 L970.30,2404.18 L971.30,2404.80 L972.30,2405.42 L973.30,2406.03 L974.30,2406.62 L975.30,2407.21 L976.30,2407.79 L977.30,2408.36 L978.30,2408.93 L979.30,2409.48 L980.30,2410.02 L981.30,2410.56 L982.30,2411.08 L983.30,2411.59 L984.30,2412.10 L985.30,2412.59 L986.30,2413.08 L987.30,2413.55 L988.30,2414.02 L989.30,2414.47 L990.30,2414.93 L991.30,2415.39 L992.30,2415.85 L993.30,2416.31 L994.30,2416.78 L995.30,2417.24 L996.30,2417.71 L997.30,2418.17 L998.30,2418.64 L999.30,2419.11 L1000.30,2419.57 L1001.30,2420.04 L1002.30,2420.50 L1003.30,2420.96 L1004.30,2421.42 L1005.30,2421.88 L1006.30,2422.34 L1007.30,2422.79 L1008.30,2423.24 L1009.30,2423.69 L1010.30,2424.13 L1011.30,2424.57 L1012.30,2425.00 L1013.30,2425.43 L1014.30,2425.85 L1015.30,2426.27 L1016.30,2426.68 L1017.30,2427.09 L1018.30,2427.49 L1019.30,2427.88 L1020.30,2428.27 L1021.30,2428.64 L1022.30,2429.01 L1023.30,2429.37 L1024.30,2429.72 L1025.30,2430.07 L1026.30,2430.40 L1027.30,2430.72 L1028.30,2431.03 L1029.30,2431.33 L1030.30,2431.62 L1031.30,2431.90 L1032.30,2432.17 L1033.30,2432.42 L1034.30,2432.66 L1035.30,2432.89 L1036.30,2433.11 L1037.30,2433.32 L1038.30,2433.53 L1039.30,2433.74 L1040.30,2433.94 L1041.30,2434.15 L1042.30,2434.35 L1043.30,2434.55 L1044.30,2434.74 L1045.30,2434.94 L1046.30,2435.13 L1047.30,2435.32 L1048.30,2435.51 L1049.30,2435.70 L1050.30,2435.88 L1051.30,2436.07 L1052.30,2436.25 L1053.30,2436.43 L1054.30,2436.60 L1055.30,2436.78 L1056.30,2436.95 L1057.30,2437.12 L1058.30,2437.28 L1059.30,2437.45 L1060.30,2437.61 L1061.30,2437.77 L1062.30,2437.93 L1063.30,2438.09 L1064.30,2438.24 L1065.30,2438.39 L1066.30,2438.54 L1067.30,2438.69 L1068.30,2438.84 L1069.30,2438.98 L1070.30,2439.12 L1071.30,2439.26 L1072.30,2439.39 L1073.30,2439.53 L1074.30,2439.66 L1075.30,2439.79 L1076.30,2439.91 L1077.30,2440.04 L1078.30,2440.16 L1079.30,2440.28 L1080.30,2440.39 L1081.30,2440.51 L1082.30,2440.62 L1083.30,2440.73 L1084.30,2440.83 L1085.30,2440.94 L1086.30,2441.04 L1087.30,2441.14 L1088.30,2441.23 L1089.30,2441.33 L1090.30,2441.42 L1091.30,2441.51 L1092.30,2441.59 L1093.30,2441.67 L1094.30,2441.75 L1095.30,2441.83 L1096.30,2441.90 L1097.30,2441.98 L1098.30,2442.04 L1099.30,2442.11 L1100.30,2442.17 L1101.30,2442.23 L1102.30,2442.29 L1103.30,2442.34 L1104.30,2442.39 L1105.30,2442.44 L1106.30,2442.49 L1107.30,2442.53 L1108.30,2442.57 L1109.30,2442.61 L1110.30,2442.65 L1111.30,2442.69 L1112.30,2442.73 L1113.30,2442.77 L1114.30,2442.81 L1115.30,2442.85 L1116.30,2442.89 L1117.30,2442.92 L1118.30,2442.96 L1119.30,2443.00 L1120.30,2443.03 L1121.30,2443.07 L1122.30,2443.10 L1123.30,2443.13 L1124.30,2443.17 L1125.30,2443.20 L1126.30,2443.23 L1127.30,2443.26 L1128.30,2443.30 L1129.30,2443.33 L1130.30,2443.36 L1131.30,2443.39 L1132.30,2443.42 L1133.30,2443.45 L1134.30,2443.48 L1135.30,2443.50 L1136.30,2443.53 L1137.30,2443.56 L1138.30,2443.59 L1139.30,2443.61 L1140.30,2443.64 L1141.30,2443.67 L1142.30,2443.69 L1143.30,2443.72 L1144.30,2443.74 L1145.30,2443.77 L1146.30,2443.79 L1147.30,2443.81 L1148.30,2443.84 L1149.30,2443.86 L1150.30,2443.88 L1151.30,2443.91 L1152.30,2443.93 L1153.30,2443.95 L1154.30,2443.97 L1155.30,2443.99 L1156.30,2444.01 L1157.30,2444.03 L1158.30,2444.05 L1159.30,2444.07 L1160.30,2444.09 L1161.30,2444.11 L1162.30,2444.13 L1163.30,2444.15 L1164.30,2444.16 L1165.30,2444.18 L1166.30,2444.20 L1167.30,2444.22 L1168.30,2444.23 L1169.30,2444.25 L1170.30,2444.27 L1171.30,2444.28 L1172.30,2444.30 L1173.30,2444.31 L1174.30,2444.33 L1175.30,2444.34 L1176.30,2444.36 L1177.30,2444.37 L1178.30,2444.39 L1179.30,2444.40 L1180.30,2444.41 L1181.30,2444.43 L1182.30,2444.44 L1183.30,2444.45 L1184.30,2444.47 L1185.30,2444.48 L1186.30,2444.49 L1187.30,2444.50 L1188.30,2444.51 L1189.30,2444.53 L1190.30,2444.54 L1191.30,2444.55 L1192.30,2444.56 L1193.30,2444.57 L1194.30,2444.58 L1195.30,2444.59 L1196.30,2444.60 L1197.30,2444.61 L1198.30,2444.62 L1199.30,2444.63 L1200.30,2444.64 L1201.30,2444.65 L1202.30,2444.66 L1203.30,2444.66 L1204.30,2444.67 L1205.30,2444.68 L1206.30,2444.69 L1207.30,2444.70 L1208.30,2444.70 L1209.30,2444.71 L1210.30,2444.72 L1211.30,2444.72 L1212.30,2444.73 L1213.30,2444.74 L1214.30,2444.74 L1215.30,2444.75 L1216.30,2444.76 L1217.30,2444.76 L1218.30,2444.77 L1219.30,2444.77 L1220.30,2444.78 L1221.30,2444.78 L1222.30,2444.79 L1223.30,2444.79 L1224.30,2444.80 L1225.30,2444.80 L1226.30,2444.81 L1227.30,2444.81 L1228.30,2444.81 L1229.30,2444.81 L1230.30,2444.81 L1231.30,2444.81 L1232.30,2444.81 L1233.30,2444.81 L1234.30,2444.81 L1235.30,2444.80 L1236.30,2444.80 L1237.30,2444.79 L1238.30,2444.79 L1239.30,2444.78 L1240.30,2444.77 L1241.30,2444.76 L1242.30,2444.75 L1243.30,2444.74 L1244.30,2444.73 L1245.30,2444.72 L1246.30,2444.71 L1247.30,2444.70 L1248.30,2444.69 L1249.30,2444.67 L1250.30,2444.66 L1251.30,2444.64 L1252.30,2444.63 L1253.30,2444.61 L1254.30,2444.59 L1255.30,2444.57 L1256.30,2444.55 L1257.30,2444.54 L1258.30,2444.52 L1259.30,2444.49 L1260.30,2444.47 L1261.30,2444.45 L1262.30,2444.43 L1263.30,2444.41 L1264.30,2444.38 L1265.30,2444.36 L1266.30,2444.33 L1267.30,2444.31 L1268.30,2444.28 L1269.30,2444.26 L1270.30,2444.23 L1271.30,2444.20 L1272.30,2444.17 L1273.30,2444.14 L1274.30,2444.11 L1275.30,2444.09 L1276.30,2444.05 L1277.30,2444.02 L1278.30,2443.99 L1279.30,2443.96 L1280.30,2443.93 L1281.30,2443.90 L1282.30,2443.86 L1283.30,2443.83 L1284.30,2443.79 L1285.30,2443.76 L1286.30,2443.73 L1287.30,2443.69 L1288.30,2443.65 L1289.30,2443.62 L1290.30,2443.58 L1291.30,2443.54 L1292.30,2443.51 L1293.30,2443.47 L1294.30,2443.43 L1295.30,2443.39 L1296.30,2443.35 L1297.30,2443.31 L1298.30,2443.27 L1299.30,2443.23 L1300.30,2443.19 L1301.30,2443.15 L1302.30,2443.11 L1303.30,2443.06 L1304.30,2443.02 L1305.30,2442.98 L1306.30,2442.94 L1307.30,2442.89 L1308.30,2442.85 L1309.30,2442.81 L1310.30,2442.76 L1311.30,2442.72 L1312.30,2442.67 L1313.30,2442.63 L1314.30,2442.58 L1315.30,2442.54 L1316.30,2442.49 L1317.30,2442.44 L1318.30,2442.40 L1319.30,2442.35 L1320.30,2442.30 L1321.30,2442.26 L1322.30,2442.21 L1323.30,2442.16 L1324.30,2442.11 L1325.30,2442.07 L1326.30,2442.02 L1327.30,2441.97 L1328.30,2441.92 L1329.30,2441.87 L1330.30,2441.82 L1331.30,2441.77 L1332.30,2441.72 L1333.30,2441.67 L1334.30,2441.63 L1335.30,2441.58 L1336.30,2441.53 L1337.30,2441.47 L1338.30,2441.42 L1339.30,2441.37 L1340.30,2441.32 L1341.30,2441.27 L1342.30,2441.22 L1343.30,2441.17 L1344.30,2441.12 L1345.30,2441.07 L1346.30,2441.02 L1347.30,2440.97 L1348.30,2440.92 L1349.30,2440.86 L1350.30,2440.81 L1351.30,2440.76 L1352.30,2440.71 L1353.30,2440.66 L1354.30,2440.61 L1355.30,2440.55 L1356.30,2440.50 L1357.30,2440.45 L1358.30,2440.40 L1359.30,2440.35 L1360.30,2440.30 L1361.30,2440.24 L1362.30,2440.19 L1363.30,2440.14 L1364.30,2440.09 L1365.30,2440.04 L1366.30,2439.98 L1367.30,2439.93 L1368.30,2439.88 L1369.30,2439.83 L1370.30,2439.78 L1371.30,2439.72 L1372.30,2439.67 L1373.30,2439.62 L1374.30,2439.57 L1375.30,2439.52 L1376.30,2439.46 L1377.30,2439.41 L1378.30,2439.36 L1379.30,2439.30 L1380.30,2439.25 L1381.30,2439.19 L1382.30,2439.14 L1383.30,2439.08 L1384.30,2439.03 L1385.30,2438.97 L1386.30,2438.92 L1387.30,2438.86 L1388.30,2438.80 L1389.30,2438.75 L1390.30,2438.69 L1391.30,2438.63 L1392.30,2438.57 L1393.30,2438.51 L1394.30,2438.45 L1395.30,2438.39 L1396.30,2438.33 L1397.30,2438.27 L1398.30,2438.21 L1399.30,2438.14 L1400.30,2438.08 L1401.30,2438.02 L1402.30,2437.95 L1403.30,2437.89 L1404.30,2437.82 L1405.30,2437.75 L1406.30,2437.68 L1407.30,2437.62 L1408.30,2437.55 L1409.30,2437.48 L1410.30,2437.41 L1411.30,2437.33 L1412.30,2437.26 L1413.30,2437.19 L1414.30,2437.11 L1415.30,2437.04 L1416.30,2436.96 L1417.30,2436.88 L1418.30,2436.80 L1419.30,2436.73 L1420.30,2436.64 L1421.30,2436.56 L1422.30,2436.48 L1423.30,2436.40 L1424.30,2436.31 L1425.30,2436.23 L1426.30,2436.14 L1427.30,2436.05 L1428.30,2435.96 L1429.30,2435.87 L1430.30,2435.78 L1431.30,2435.69 L1432.30,2435.59 L1433.30,2435.50 L1434.30,2435.40 L1435.30,2435.30 L1436.30,2435.20 L1437.30,2435.10 L1438.30,2435.00 L1439.30,2434.90 L1440.30,2434.79 L1441.30,2434.69 L1442.30,2434.58 L1443.30,2434.47 L1444.30,2434.36 L1445.30,2434.25 L1446.30,2434.13 L1447.30,2434.02 L1448.30,2433.90 L1449.30,2433.78 L1450.30,2433.66 L1451.30,2433.54 L1452.30,2433.41 L1453.30,2433.28 L1454.30,2433.14 L1455.30,2433.00 L1456.30,2432.86 L1457.30,2432.71 L1458.30,2432.55 L1459.30,2432.39 L1460.30,2432.23 L1461.30,2432.06 L1462.30,2431.89 L1463.30,2431.72 L1464.30,2431.54 L1465.30,2431.35 L1466.30,2431.17 L1467.30,2430.97 L1468.30,2430.78 L1469.30,2430.58 L1470.30,2430.38 L1471.30,2430.17 L1472.30,2429.96 L1473.30,2429.74 L1474.30,2429.52 L1475.30,2429.30 L1476.30,2429.08 L1477.30,2428.85 L1478.30,2428.61 L1479.30,2428.38 L1480.30,2428.13 L1481.30,2427.89 L1482.30,2427.64 L1483.30,2427.39 L1484.30,2427.14 L1485.30,2426.88 L1486.30,2426.62 L1487.30,2426.35 L1488.30,2426.08 L1489.30,2425.81 L1490.30,2425.54 L1491.30,2425.26 L1492.30,2424.98 L1493.30,2424.69 L1494.30,2424.40 L1495.30,2424.11 L1496.30,2423.82 L1497.30,2423.52 L1498.30,2423.22 L1499.30,2422.92 L1500.30,2422.61 L1501.30,2422.30 L1502.30,2421.99 L1503.30,2421.68 L1504.30,2421.36 L1505.30,2421.04 L1506.30,2420.72 L1507.30,2420.39 L1508.30,2420.06 L1509.30,2419.73 L1510.30,2419.39 L1511.30,2419.06 L1512.30,2418.72 L1513.30,2418.38 L1514.30,2418.03 L1515.30,2417.68 L1516.30,2417.33 L1517.30,2416.98 L1518.30,2416.63 L1519.30,2416.27 L1520.30,2415.91 L1521.30,2415.55 L1522.30,2415.19 L1523.30,2414.82 L1524.30,2414.45 L1525.30,2414.08 L1526.30,2413.71 L1527.30,2413.33 L1528.30,2412.96 L1529.30,2412.58 L1530.30,2412.20 L1531.30,2411.81 L1532.30,2411.43 L1533.30,2411.04 L1534.30,2410.65 L1535.30,2410.26 L1536.30,2409.87 L1537.30,2409.48 L1538.30,2409.08 L1539.30,2408.68 L1540.30,2408.28 L1541.30,2407.88 L1542.30,2407.47 L1543.30,2407.05 L1544.30,2406.63 L1545.30,2406.20 L1546.30,2405.76 L1547.30,2405.31 L1548.30,2404.85 L1549.30,2404.38 L1550.30,2403.91 L1551.30,2403.42 L1552.30,2402.93 L1553.30,2402.43 L1554.30,2401.92 L1555.30,2401.40 L1556.30,2400.88 L1557.30,2400.34 L1558.30,2399.80 L1559.30,2399.24 L1560.30,2398.68 L1561.30,2398.11 L1562.30,2397.53 L1563.30,2396.94 L1564.30,2396.34 L1565.30,2395.73 L1566.30,2395.11 L1567.30,2394.48 L1568.30,2393.84 L1569.30,2393.20 L1570.30,2392.54 L1571.30,2391.87 L1572.30,2391.20 L1573.30,2390.51 L1574.30,2389.82 L1575.30,2389.11 L1576.30,2388.40 L1577.30,2387.67 L1578.30,2386.94 L1579.30,2386.19 L1580.30,2385.43 L1581.30,2384.67 L1582.30,2383.89 L1583.30,2383.11 L1584.30,2382.31 L1585.30,2381.50 L1586.30,2380.68 L1587.30,2379.85 L1588.30,2378.98 L1589.30,2378.08 L1590.30,2377.15 L1591.30,2376.19 L1592.30,2375.21 L1593.30,2374.20 L1594.30,2373.16 L1595.30,2372.09 L1596.30,2371.00 L1597.30,2369.88 L1598.30,2368.75 L1599.30,2367.58 L1600.30,2366.40 L1601.30,2365.19 L1602.30,2363.96 L1603.30,2362.71 L1604.30,2361.44 L1605.30,2360.15 L1606.30,2358.84 L1607.30,2357.52 L1608.30,2356.17 L1609.30,2354.81 L1610.30,2353.44 L1611.30,2352.05 L1612.30,2350.64 L1613.30,2349.23 L1614.30,2347.79 L1615.30,2346.35 L1616.30,2344.90 L1617.30,2343.43 L1618.30,2341.95 L1619.30,2340.47 L1620.30,2338.97 L1621.30,2337.47 L1622.30,2335.96 L1623.30,2334.44 L1624.30,2332.91 L1625.30,2331.37 L1626.30,2329.82 L1627.30,2328.24 L1628.30,2326.65 L1629.30,2325.04 L1630.30,2323.39 L1631.30,2321.73 L1632.30,2320.03 L1633.30,2318.30 L1634.30,2316.53 L1635.30,2314.72 L1636.30,2312.88 L1637.30,2310.99 L1638.30,2309.06 L1639.30,2307.08 L1640.30,2305.05 L1641.30,2302.96 L1642.30,2300.82 L1643.30,2298.62 L1644.30,2296.37 L1645.30,2294.04 L1646.30,2291.66 L1647.30,2289.20 L1648.30,2286.65 L1649.30,2283.97 L1650.30,2281.19 L1651.30,2278.30 L1652.30,2275.29 L1653.30,2272.18 L1654.30,2268.97 L1655.30,2265.65 L1656.30,2262.23 L1657.30,2258.71 L1658.30,2255.09 L1659.30,2251.37 L1660.30,2247.56 L1661.30,2243.66 L1662.30,2239.67 L1663.30,2235.59 L1664.30,2231.42 L1665.30,2227.16 L1666.30,2222.82 L1667.30,2218.40 L1668.30,2213.90 L1669.30,2209.22 L1670.30,2204.27 L1671.30,2199.07 L1672.30,2193.64 L1673.30,2188.01 L1674.30,2182.17 L1675.30,2176.17 L1676.30,2170.02 L1677.30,2163.72 L1678.30,2157.32 L1679.30,2150.82 L1680.30,2144.24 L1681.30,2137.61 L1682.30,2130.93 L1683.30,2124.24 L1684.30,2117.51 L1685.30,2110.69 L1686.30,2103.76 L1687.30,2096.71 L1688.30,2089.53 L1689.30,2082.20 L1690.30,2074.71 L1691.30,2067.05 L1692.30,2059.21 L1693.30,2051.18 L1694.30,2042.94 L1695.30,2034.48 L1696.30,2025.72 L1697.30,2016.49 L1698.30,2006.84 L1699.30,1996.87 L1700.30,1986.65 L1701.30,1976.29 L1702.30,1965.84 L1703.30,1955.42 L1704.30,1945.09 L1705.30,1935.04 L1706.30,1925.60 L1707.30,1916.49 L1708.30,1907.40 L1709.30,1897.99 L1710.30,1887.93 L1711.30,1876.90 L1712.30,1864.58 L1713.30,1850.44 L1714.30,1831.91 L1715.30,1809.67 L1716.30,1785.60 L1717.30,1761.57 L1718.30,1739.46 L1719.30,1720.59 L1720.30,1702.96 L1721.30,1686.06 L1722.30,1669.84 L1723.30,1654.28 L1724.30,1639.33 L1725.30,1624.93 L1726.30,1611.08 L1727.30,1598.16 L1728.30,1586.11 L1729.30,1574.58 L1730.30,1563.23 L1731.30,1551.71 L1732.30,1539.69 L1733.30,1526.80 L1734.30,1512.64 L1735.30,1497.42 L1736.30,1481.70 L1737.30,1466.05 L1738.30,1451.05 L1739.30,1437.24 L1740.30,1424.03 L1741.30,1411.13 L1742.30,1398.75 L1743.30,1387.06 L1744.30,1376.27 L1745.30,1366.41 L1746.30,1356.42 L1747.30,1346.63 L1748.30,1337.70 L1749.30,1330.32 L1750.30,1325.18 L1751.30,1322.38 L1752.30,1320.01 L1753.30,1317.83 L1754.30,1315.87 L1755.30,1314.13 L1756.30,1312.65 L1757.30,1311.42 L1758.30,1310.47 L1759.30,1309.81 L1760.30,1309.46 L1761.30,1309.44 L1762.30,1309.84 L1763.30,1310.63 L1764.30,1311.76 L1765.30,1313.18 L1766.30,1314.82 L1767.30,1316.63 L1768.30,1318.55 L1769.30,1320.54 L1770.30,1322.53 L1771.30,1324.50 L1772.30,1326.73 L1773.30,1329.31 L1774.30,1332.17 L1775.30,1335.24 L1776.30,1338.48 L1777.30,1341.81 L1778.30,1345.19 L1779.30,1348.54 L1780.30,1351.81 L1781.30,1354.94 L1782.30,1357.87 L1783.30,1360.63 L1784.30,1363.45 L1785.30,1366.32 L1786.30,1369.18 L1787.30,1372.02 L1788.30,1374.78 L1789.30,1377.44 L1790.30,1379.95 L1791.30,1382.28 L1792.30,1384.40 L1793.30,1386.27 L1794.30,1387.85 L1795.30,1389.30 L1796.30,1390.75 L1797.30,1392.19 L1798.30,1393.58 L1799.30,1394.93 L1800.30,1396.21 L1801.30,1397.41 L1802.30,1398.51 L1803.30,1399.49 L1804.30,1400.35 L1805.30,1401.07 L1806.30,1401.62 L1807.30,1402.00 L1808.30,1402.18 L1809.30,1402.17 L1810.30,1401.96 L1811.30,1401.58 L1812.30,1401.05 L1813.30,1400.38 L1814.30,1399.60 L1815.30,1398.72 L1816.30,1397.76 L1817.30,1396.74 L1818.30,1395.68 L1819.30,1394.59 L1820.30,1393.50 L1821.30,1392.29 L1822.30,1390.87 L1823.30,1389.25 L1824.30,1387.46 L1825.30,1385.51 L1826.30,1383.43 L1827.30,1381.24 L1828.30,1378.95 L1829.30,1376.60 L1830.30,1374.20 L1831.30,1371.76 L1832.30,1369.31 L1833.30,1366.73 L1834.30,1364.01 L1835.30,1361.15 L1836.30,1358.17 L1837.30,1355.08 L1838.30,1351.90 L1839.30,1348.62 L1840.30,1345.28 L1841.30,1341.87 L1842.30,1338.40 L1843.30,1334.90 L1844.30,1331.36 L1845.30,1327.81 L1846.30,1324.26 L1847.30,1320.63 L1848.30,1316.84 L1849.30,1312.92 L1850.30,1308.88 L1851.30,1304.76 L1852.30,1300.58 L1853.30,1296.37 L1854.30,1292.15 L1855.30,1287.94 L1856.30,1283.78 L1857.30,1279.69 L1858.30,1275.68 L1859.30,1271.80 L1860.30,1268.06 L1861.30,1264.48 L1862.30,1260.97 L1863.30,1257.50 L1864.30,1254.08 L1865.30,1250.71 L1866.30,1247.38 L1867.30,1244.10 L1868.30,1240.88 L1869.30,1237.71 L1870.30,1234.59 L1871.30,1231.53 L1872.30,1228.53 L1873.30,1225.59 L1874.30,1222.70 L1875.30,1219.88 L1876.30,1217.11 L1877.30,1214.39 L1878.30,1211.72 L1879.30,1209.10 L1880.30,1206.53 L1881.30,1204.01 L1882.30,1201.54 L1883.30,1199.12 L1884.30,1196.76 L1885.30,1194.45 L1886.30,1192.20 L1887.30,1190.00" fill="none" stroke="#da8214" stroke-width="4.6" stroke-linejoin="round" stroke-dasharray="16 6"/>
<path d="M298.30,1675.10 L299.30,1681.10 L300.30,1686.98 L301.30,1692.71 L302.30,1698.27 L303.30,1703.63 L304.30,1708.78 L305.30,1713.69 L306.30,1718.34 L307.30,1722.73 L308.30,1726.98 L309.30,1731.11 L310.30,1735.13 L311.30,1739.03 L312.30,1742.80 L313.30,1746.44 L314.30,1749.95 L315.30,1753.32 L316.30,1756.54 L317.30,1759.62 L318.30,1762.55 L319.30,1765.32 L320.30,1768.07 L321.30,1770.82 L322.30,1773.54 L323.30,1776.18 L324.30,1778.73 L325.30,1781.15 L326.30,1783.41 L327.30,1785.49 L328.30,1787.34 L329.30,1788.94 L330.30,1790.26 L331.30,1791.28 L332.30,1792.21 L333.30,1793.11 L334.30,1793.98 L335.30,1794.82 L336.30,1795.62 L337.30,1796.37 L338.30,1797.08 L339.30,1797.74 L340.30,1798.35 L341.30,1798.90 L342.30,1799.38 L343.30,1799.79 L344.30,1800.13 L345.30,1800.40 L346.30,1800.58 L347.30,1800.68 L348.30,1800.69 L349.30,1800.51 L350.30,1800.14 L351.30,1799.58 L352.30,1798.87 L353.30,1798.00 L354.30,1797.01 L355.30,1795.91 L356.30,1794.71 L357.30,1793.44 L358.30,1792.10 L359.30,1790.72 L360.30,1789.31 L361.30,1787.89 L362.30,1786.48 L363.30,1785.03 L364.30,1783.40 L365.30,1781.62 L366.30,1779.69 L367.30,1777.63 L368.30,1775.43 L369.30,1773.11 L370.30,1770.68 L371.30,1768.16 L372.30,1765.55 L373.30,1762.86 L374.30,1760.10 L375.30,1757.29 L376.30,1754.43 L377.30,1751.52 L378.30,1748.40 L379.30,1745.06 L380.30,1741.51 L381.30,1737.78 L382.30,1733.91 L383.30,1729.92 L384.30,1725.84 L385.30,1721.70 L386.30,1717.53 L387.30,1713.37 L388.30,1709.23 L389.30,1705.15 L390.30,1701.16 L391.30,1697.28 L392.30,1693.33 L393.30,1689.07 L394.30,1684.65 L395.30,1680.19 L396.30,1675.83 L397.30,1671.71 L398.30,1667.96 L399.30,1664.72 L400.30,1662.12 L401.30,1660.29 L402.30,1658.76 L403.30,1657.29 L404.30,1655.92 L405.30,1654.67 L406.30,1653.55 L407.30,1652.61 L408.30,1651.86 L409.30,1651.33 L410.30,1651.04 L411.30,1651.05 L412.30,1651.46 L413.30,1652.27 L414.30,1653.42 L415.30,1654.87 L416.30,1656.59 L417.30,1658.53 L418.30,1660.65 L419.30,1662.91 L420.30,1665.26 L421.30,1668.03 L422.30,1671.68 L423.30,1676.12 L424.30,1681.28 L425.30,1687.07 L426.30,1693.40 L427.30,1700.20 L428.30,1707.38 L429.30,1714.86 L430.30,1722.61 L431.30,1732.27 L432.30,1743.79 L433.30,1756.03 L434.30,1767.88 L435.30,1778.22 L436.30,1786.28 L437.30,1793.24 L438.30,1800.83 L439.30,1809.43 L440.30,1818.55 L441.30,1828.11 L442.30,1838.04 L443.30,1848.23 L444.30,1858.61 L445.30,1869.11 L446.30,1879.62 L447.30,1890.08 L448.30,1900.40 L449.30,1910.50 L450.30,1920.61 L451.30,1930.86 L452.30,1941.17 L453.30,1951.46 L454.30,1961.63 L455.30,1971.62 L456.30,1981.33 L457.30,1990.69 L458.30,1999.75 L459.30,2008.68 L460.30,2017.46 L461.30,2026.04 L462.30,2034.40 L463.30,2042.51 L464.30,2050.32 L465.30,2057.82 L466.30,2065.02 L467.30,2072.08 L468.30,2079.00 L469.30,2085.76 L470.30,2092.35 L471.30,2098.75 L472.30,2104.96 L473.30,2110.94 L474.30,2116.70 L475.30,2122.22 L476.30,2127.48 L477.30,2132.52 L478.30,2137.42 L479.30,2142.21 L480.30,2146.87 L481.30,2151.42 L482.30,2155.86 L483.30,2160.18 L484.30,2164.40 L485.30,2168.51 L486.30,2172.52 L487.30,2176.43 L488.30,2180.25 L489.30,2183.97 L490.30,2187.61 L491.30,2191.16 L492.30,2194.62 L493.30,2198.01 L494.30,2201.32 L495.30,2204.56 L496.30,2207.73 L497.30,2210.83 L498.30,2213.86 L499.30,2216.82 L500.30,2219.73 L501.30,2222.57 L502.30,2225.35 L503.30,2228.07 L504.30,2230.73 L505.30,2233.34 L506.30,2235.90 L507.30,2238.40 L508.30,2240.86 L509.30,2243.26 L510.30,2245.63 L511.30,2247.99 L512.30,2250.33 L513.30,2252.64 L514.30,2254.94 L515.30,2257.21 L516.30,2259.46 L517.30,2261.68 L518.30,2263.86 L519.30,2266.02 L520.30,2268.14 L521.30,2270.23 L522.30,2272.28 L523.30,2274.29 L524.30,2276.26 L525.30,2278.18 L526.30,2280.06 L527.30,2281.89 L528.30,2283.68 L529.30,2285.41 L530.30,2287.09 L531.30,2288.71 L532.30,2290.27 L533.30,2291.78 L534.30,2293.23 L535.30,2294.64 L536.30,2296.03 L537.30,2297.40 L538.30,2298.75 L539.30,2300.07 L540.30,2301.37 L541.30,2302.64 L542.30,2303.90 L543.30,2305.13 L544.30,2306.34 L545.30,2307.53 L546.30,2308.70 L547.30,2309.85 L548.30,2310.97 L549.30,2312.08 L550.30,2313.16 L551.30,2314.23 L552.30,2315.27 L553.30,2316.30 L554.30,2317.30 L555.30,2318.29 L556.30,2319.26 L557.30,2320.21 L558.30,2321.14 L559.30,2322.05 L560.30,2322.94 L561.30,2323.82 L562.30,2324.67 L563.30,2325.52 L564.30,2326.34 L565.30,2327.14 L566.30,2327.93 L567.30,2328.71 L568.30,2329.47 L569.30,2330.22 L570.30,2330.96 L571.30,2331.70 L572.30,2332.42 L573.30,2333.13 L574.30,2333.83 L575.30,2334.52 L576.30,2335.20 L577.30,2335.86 L578.30,2336.52 L579.30,2337.16 L580.30,2337.80 L581.30,2338.42 L582.30,2339.03 L583.30,2339.62 L584.30,2340.21 L585.30,2340.78 L586.30,2341.34 L587.30,2341.89 L588.30,2342.43 L589.30,2342.95 L590.30,2343.46 L591.30,2343.96 L592.30,2344.44 L593.30,2344.91 L594.30,2345.37 L595.30,2345.81 L596.30,2346.24 L597.30,2346.66 L598.30,2347.06 L599.30,2347.45 L600.30,2347.82 L601.30,2348.20 L602.30,2348.57 L603.30,2348.94 L604.30,2349.30 L605.30,2349.67 L606.30,2350.03 L607.30,2350.39 L608.30,2350.74 L609.30,2351.09 L610.30,2351.44 L611.30,2351.78 L612.30,2352.12 L613.30,2352.45 L614.30,2352.77 L615.30,2353.09 L616.30,2353.41 L617.30,2353.72 L618.30,2354.02 L619.30,2354.31 L620.30,2354.60 L621.30,2354.88 L622.30,2355.16 L623.30,2355.42 L624.30,2355.68 L625.30,2355.93 L626.30,2356.16 L627.30,2356.39 L628.30,2356.61 L629.30,2356.82 L630.30,2357.03 L631.30,2357.22 L632.30,2357.39 L633.30,2357.56 L634.30,2357.72 L635.30,2357.86 L636.30,2358.00 L637.30,2358.12 L638.30,2358.23 L639.30,2358.32 L640.30,2358.40 L641.30,2358.47 L642.30,2358.52 L643.30,2358.56 L644.30,2358.59 L645.30,2358.60 L646.30,2358.59 L647.30,2358.57 L648.30,2358.54 L649.30,2358.48 L650.30,2358.42 L651.30,2358.36 L652.30,2358.29 L653.30,2358.22 L654.30,2358.14 L655.30,2358.06 L656.30,2357.97 L657.30,2357.88 L658.30,2357.78 L659.30,2357.67 L660.30,2357.56 L661.30,2357.45 L662.30,2357.32 L663.30,2357.19 L664.30,2357.06 L665.30,2356.91 L666.30,2356.76 L667.30,2356.61 L668.30,2356.44 L669.30,2356.26 L670.30,2356.08 L671.30,2355.89 L672.30,2355.69 L673.30,2355.48 L674.30,2355.26 L675.30,2355.04 L676.30,2354.80 L677.30,2354.55 L678.30,2354.29 L679.30,2354.02 L680.30,2353.74 L681.30,2353.45 L682.30,2353.14 L683.30,2352.82 L684.30,2352.49 L685.30,2352.15 L686.30,2351.79 L687.30,2351.42 L688.30,2351.03 L689.30,2350.63 L690.30,2350.21 L691.30,2349.77 L692.30,2349.28 L693.30,2348.76 L694.30,2348.20 L695.30,2347.60 L696.30,2346.97 L697.30,2346.30 L698.30,2345.60 L699.30,2344.87 L700.30,2344.10 L701.30,2343.29 L702.30,2342.46 L703.30,2341.59 L704.30,2340.69 L705.30,2339.75 L706.30,2338.78 L707.30,2337.78 L708.30,2336.75 L709.30,2335.69 L710.30,2334.59 L711.30,2333.46 L712.30,2332.30 L713.30,2331.10 L714.30,2329.87 L715.30,2328.61 L716.30,2327.31 L717.30,2325.97 L718.30,2324.56 L719.30,2323.01 L720.30,2321.33 L720.50,2320.98 L720.75,2320.54 L721.00,2320.08 L721.25,2319.62 L721.30,2319.53 L721.50,2319.16 L721.75,2318.68 L722.00,2318.20 L722.25,2317.72 L722.30,2317.62 L722.50,2317.23 L722.75,2316.73 L723.00,2316.22 L723.25,2315.71 L723.30,2315.61 L723.50,2315.20 L723.75,2314.68 L724.00,2314.15 L724.25,2313.62 L724.30,2313.52 L724.50,2313.09 L724.75,2312.55 L725.00,2312.01 L725.25,2311.46 L725.30,2311.35 L725.50,2310.90 L725.75,2310.35 L726.00,2309.79 L726.25,2309.23 L726.30,2309.11 L726.50,2308.66 L726.75,2308.09 L727.00,2307.51 L727.25,2306.94 L727.30,2306.82 L727.50,2306.36 L727.75,2305.78 L728.00,2305.19 L728.25,2304.61 L728.30,2304.49 L728.50,2304.02 L728.75,2303.43 L729.00,2302.83 L729.25,2302.24 L729.30,2302.12 L729.50,2301.64 L729.75,2301.05 L730.00,2300.45 L730.25,2299.85 L730.30,2299.73 L730.50,2299.25 L730.75,2298.64 L731.00,2298.04 L731.25,2297.44 L731.30,2297.32 L731.50,2296.83 L731.75,2296.23 L732.00,2295.62 L732.25,2295.02 L732.30,2294.90 L732.50,2294.42 L732.75,2293.81 L733.00,2293.21 L733.25,2292.60 L733.30,2292.48 L733.50,2292.00 L733.75,2291.40 L734.00,2290.79 L734.25,2290.19 L734.30,2290.07 L734.50,2289.59 L734.75,2288.99 L735.00,2288.40 L735.25,2287.80 L735.30,2287.68 L735.50,2287.20 L735.75,2286.61 L736.00,2286.02 L736.25,2285.42 L736.30,2285.31 L736.50,2284.84 L736.75,2284.25 L737.00,2283.65 L737.25,2283.05 L737.30,2282.93 L737.50,2282.44 L737.75,2281.83 L738.00,2281.20 L738.25,2280.57 L738.30,2280.45 L738.50,2279.93 L738.75,2279.29 L739.00,2278.64 L739.25,2277.97 L739.30,2277.84 L739.50,2277.31 L739.75,2276.63 L740.00,2275.94 L740.25,2275.25 L740.30,2275.11 L740.50,2274.54 L740.75,2273.83 L741.00,2273.11 L741.25,2272.37 L741.30,2272.23 L741.50,2271.63 L741.75,2270.88 L742.00,2270.12 L742.25,2269.34 L742.30,2269.19 L742.50,2268.56 L742.75,2267.76 L743.00,2266.96 L743.25,2266.14 L743.30,2265.97 L743.50,2265.31 L743.75,2264.47 L744.00,2263.61 L744.25,2262.75 L744.30,2262.57 L744.50,2261.87 L744.75,2260.97 L745.00,2260.07 L745.25,2259.15 L745.30,2258.96 L745.50,2258.21 L745.75,2257.26 L746.00,2256.30 L746.25,2255.32 L746.30,2255.12 L746.50,2254.32 L746.75,2253.31 L747.00,2252.28 L747.25,2251.24 L747.30,2251.03 L747.50,2250.17 L747.75,2249.09 L748.00,2248.00 L748.25,2246.88 L748.30,2246.65 L748.50,2245.74 L748.75,2244.59 L749.00,2243.41 L749.25,2242.21 L749.30,2241.97 L749.50,2241.00 L749.75,2239.76 L750.00,2238.50 L750.25,2237.21 L750.30,2236.95 L750.50,2235.90 L750.75,2234.57 L751.00,2233.21 L751.25,2231.83 L751.30,2231.55 L751.50,2230.42 L751.75,2228.99 L752.00,2227.53 L752.25,2226.04 L752.30,2225.73 L752.50,2224.52 L752.75,2222.97 L753.00,2221.39 L753.25,2219.78 L753.30,2219.45 L753.50,2218.13 L753.75,2216.46 L754.00,2214.75 L754.25,2213.00 L754.30,2212.65 L754.50,2211.22 L754.75,2209.40 L755.00,2207.54 L755.25,2205.64 L755.30,2205.26 L755.50,2203.71 L755.75,2201.73 L756.00,2199.71 L756.25,2197.64 L756.30,2197.22 L756.50,2195.53 L756.75,2193.37 L757.00,2191.16 L757.25,2188.91 L757.30,2188.45 L757.50,2186.60 L757.75,2184.24 L758.00,2181.82 L758.25,2179.35 L758.30,2178.85 L758.50,2176.82 L758.75,2174.24 L759.00,2171.58 L759.25,2168.87 L759.30,2168.32 L759.50,2166.09 L759.75,2163.24 L760.00,2160.32 L760.25,2157.33 L760.30,2156.72 L760.50,2154.27 L760.75,2151.12 L761.00,2147.90 L761.25,2144.59 L761.30,2143.92 L761.50,2141.20 L761.75,2137.72 L762.00,2134.15 L762.25,2130.49 L762.30,2129.74 L762.50,2126.72 L762.75,2122.86 L763.00,2118.88 L763.25,2114.80 L763.30,2113.97 L763.50,2110.61 L763.75,2106.30 L764.00,2101.87 L764.25,2097.31 L764.30,2096.39 L764.50,2092.63 L764.75,2087.81 L765.00,2082.84 L765.25,2077.74 L765.30,2076.70 L765.50,2072.48 L765.75,2067.06 L766.00,2061.48 L766.25,2055.74 L766.30,2054.57 L766.50,2049.81 L766.75,2043.71 L767.00,2037.41 L767.25,2030.92 L767.30,2029.60 L767.50,2024.22 L767.75,2017.31 L768.00,2010.18 L768.25,2002.82 L768.30,2001.32 L768.50,1995.22 L768.75,1987.37 L769.00,1979.26 L769.25,1970.88 L769.30,1969.17 L769.50,1962.22 L769.75,1953.27 L770.00,1944.01 L770.25,1934.44 L770.30,1932.49 L770.50,1924.55 L770.75,1914.31 L771.00,1903.71 L771.25,1892.75 L771.30,1890.52 L771.50,1881.41 L771.75,1869.67 L772.00,1857.52 L772.25,1844.94 L772.30,1842.37 L772.50,1831.92 L772.75,1818.44 L773.00,1804.49 L773.25,1790.05 L773.30,1787.10 L773.50,1775.11 L773.75,1759.65 L774.00,1743.66 L774.25,1727.13 L774.30,1723.76 L774.50,1710.05 L774.75,1692.40 L775.00,1674.18 L775.25,1655.39 L775.30,1651.57 L775.50,1636.03 L775.75,1616.09 L776.00,1595.59 L776.25,1574.54 L776.30,1570.27 L776.50,1552.97 L776.75,1530.91 L777.00,1508.40 L777.25,1485.49 L777.30,1480.87 L777.50,1462.27 L777.75,1438.81 L778.00,1415.23 L778.25,1391.65 L778.30,1386.96 L778.50,1368.26 L778.75,1345.24 L779.00,1322.84 L779.25,1301.36 L779.30,1297.20 L779.50,1281.16 L779.75,1262.72 L780.00,1246.68 L780.25,1233.99 L780.30,1232.00 L780.50,1227.00 L780.75,1234.43 L781.00,1247.65 L781.25,1264.28 L781.30,1267.92 L781.50,1283.34 L781.75,1304.17 L782.00,1326.30 L782.25,1349.33 L782.30,1354.02 L782.50,1372.99 L782.75,1397.00 L783.00,1421.18 L783.25,1445.34 L783.30,1450.16 L783.50,1469.37 L783.75,1493.14 L784.00,1516.57 L784.25,1539.58 L784.30,1544.13 L784.50,1562.13 L784.75,1584.16 L785.00,1605.66 L785.25,1626.59 L785.30,1630.70 L785.50,1646.94 L785.75,1666.70 L786.00,1685.87 L786.25,1704.46 L786.30,1708.10 L786.50,1722.46 L786.75,1739.89 L787.00,1756.75 L787.25,1773.07 L787.30,1776.26 L787.50,1788.84 L787.75,1804.09 L788.00,1818.82 L788.25,1833.07 L788.30,1835.86 L788.50,1846.83 L788.75,1860.14 L789.00,1872.99 L789.25,1885.42 L789.30,1887.85 L789.50,1897.43 L789.75,1909.04 L790.00,1920.26 L790.25,1931.11 L790.30,1933.24 L790.50,1941.61 L790.75,1951.76 L791.00,1961.58 L791.25,1971.09 L791.30,1972.95 L791.50,1980.29 L791.75,1989.20 L792.00,1997.82 L792.25,2006.18 L792.30,2007.82 L792.50,2014.28 L792.75,2022.12 L793.00,2029.73 L793.25,2037.10 L793.30,2038.55 L793.50,2044.25 L793.75,2051.19 L794.00,2057.93 L794.25,2064.47 L794.30,2065.75 L794.50,2070.81 L794.75,2076.98 L795.00,2082.97 L795.25,2088.79 L795.30,2089.93 L795.50,2094.44 L795.75,2099.94 L796.00,2105.29 L796.25,2110.50 L796.30,2111.52 L796.50,2115.56 L796.75,2120.49 L797.00,2125.28 L797.25,2129.96 L797.30,2130.88 L797.50,2134.51 L797.75,2138.94 L798.00,2143.26 L798.25,2147.48 L798.30,2148.31 L798.50,2151.58 L798.75,2155.59 L799.00,2159.50 L799.25,2163.31 L799.30,2164.06 L799.50,2167.03 L799.75,2170.66 L800.00,2174.21 L800.25,2177.67 L800.30,2178.36 L800.50,2181.06 L800.75,2184.36 L801.00,2187.60 L801.25,2190.75 L801.30,2191.38 L801.50,2193.84 L801.75,2196.86 L802.00,2199.82 L802.25,2202.71 L802.30,2203.28 L802.50,2205.54 L802.75,2208.31 L803.00,2211.02 L803.25,2213.67 L803.30,2214.19 L803.50,2216.27 L803.75,2218.81 L804.00,2221.31 L804.25,2223.75 L804.30,2224.24 L804.50,2226.15 L804.75,2228.50 L805.00,2230.80 L805.25,2233.06 L805.30,2233.50 L805.50,2235.27 L805.75,2237.44 L806.00,2239.58 L806.25,2241.67 L806.30,2242.08 L806.50,2243.72 L806.75,2245.74 L807.00,2247.71 L807.25,2249.66 L807.30,2250.04 L807.50,2251.57 L807.75,2253.44 L808.00,2255.28 L808.25,2257.09 L808.30,2257.45 L808.50,2258.87 L808.75,2260.62 L809.00,2262.34 L809.25,2264.03 L809.30,2264.36 L809.50,2265.69 L809.75,2267.32 L810.00,2268.93 L810.25,2270.51 L810.30,2270.83 L810.50,2272.07 L810.75,2273.60 L811.00,2275.11 L811.25,2276.59 L811.30,2276.88 L811.50,2278.05 L811.75,2279.49 L812.00,2280.90 L812.25,2282.30 L812.30,2282.58 L812.50,2283.67 L812.75,2285.03 L813.00,2286.36 L813.25,2287.67 L813.30,2287.93 L813.50,2288.97 L813.75,2290.24 L814.00,2291.50 L814.25,2292.74 L814.30,2292.99 L814.50,2293.97 L814.75,2295.19 L815.00,2296.40 L815.25,2297.59 L815.30,2297.83 L815.50,2298.77 L815.75,2299.94 L816.00,2301.10 L816.25,2302.25 L816.30,2302.48 L816.50,2303.39 L816.75,2304.52 L817.00,2305.64 L817.25,2306.75 L817.30,2306.97 L817.50,2307.85 L817.75,2308.94 L818.00,2310.02 L818.25,2311.09 L818.30,2311.31 L818.50,2312.16 L818.75,2313.21 L819.00,2314.26 L819.25,2315.29 L819.30,2315.50 L819.50,2316.32 L819.75,2317.34 L820.00,2318.35 L820.25,2319.35 L820.30,2319.55 L820.50,2320.35 L820.75,2321.34 L821.00,2322.32 L821.25,2323.29 L821.30,2323.48 L821.50,2324.25 L821.75,2325.21 L822.00,2326.16 L822.25,2327.10 L822.30,2327.29 L822.50,2328.03 L822.75,2328.96 L823.00,2329.88 L823.25,2330.79 L823.30,2330.97 L823.50,2331.70 L823.75,2332.59 L824.00,2333.49 L824.25,2334.37 L824.30,2334.54 L824.50,2335.25 L824.75,2336.12 L825.00,2336.98 L825.25,2337.84 L825.30,2338.01 L825.50,2338.68 L825.75,2339.53 L826.00,2340.36 L826.25,2341.19 L826.30,2341.36 L826.50,2342.01 L826.75,2342.83 L827.00,2343.64 L827.25,2344.44 L827.30,2344.60 L827.50,2345.24 L827.75,2346.02 L828.00,2346.81 L828.25,2347.58 L828.30,2347.73 L828.50,2348.35 L828.75,2349.11 L829.00,2349.86 L829.25,2350.61 L829.30,2350.76 L829.50,2351.35 L829.75,2352.09 L830.00,2352.81 L830.25,2353.53 L830.30,2353.68 L830.50,2354.25 L830.75,2354.95 L831.00,2355.65 L831.25,2356.35 L831.30,2356.48 L831.50,2357.03 L831.75,2357.71 L832.00,2358.38 L832.25,2359.05 L832.30,2359.18 L832.50,2359.71 L832.75,2360.36 L833.00,2361.00 L833.25,2361.63 L833.30,2361.76 L833.50,2362.26 L833.75,2362.89 L834.00,2363.50 L834.25,2364.11 L834.30,2364.23 L834.50,2364.71 L834.75,2365.30 L835.00,2365.88 L835.25,2366.46 L835.30,2366.57 L835.50,2367.03 L835.75,2367.59 L836.00,2368.14 L836.25,2368.69 L836.30,2368.80 L836.50,2369.23 L836.75,2369.76 L837.00,2370.28 L837.25,2370.79 L837.30,2370.90 L837.50,2371.30 L837.75,2371.80 L838.00,2372.29 L838.25,2372.78 L838.30,2372.88 L838.50,2373.27 L838.75,2373.75 L839.00,2374.23 L839.25,2374.71 L839.30,2374.81 L839.50,2375.18 L839.75,2375.65 L840.00,2376.12 L840.25,2376.59 L840.30,2376.68 L841.30,2378.50 L842.30,2380.28 L843.30,2382.01 L844.30,2383.70 L845.30,2385.34 L846.30,2386.94 L847.30,2388.50 L848.30,2390.01 L849.30,2391.49 L850.30,2392.93 L851.30,2394.32 L852.30,2395.69 L853.30,2397.01 L854.30,2398.29 L855.30,2399.54 L856.30,2400.75 L857.30,2401.93 L858.30,2403.06 L859.30,2404.17 L860.30,2405.23 L861.30,2406.26 L862.30,2407.25 L863.30,2408.21 L864.30,2409.13 L865.30,2410.01 L866.30,2410.86 L867.30,2411.66 L868.30,2412.44 L869.30,2413.17 L870.30,2413.87 L871.30,2414.53 L872.30,2415.17 L873.30,2415.79 L874.30,2416.40 L875.30,2416.99 L876.30,2417.57 L877.30,2418.14 L878.30,2418.69 L879.30,2419.22 L880.30,2419.74 L881.30,2420.25 L882.30,2420.75 L883.30,2421.24 L884.30,2421.71 L885.30,2422.17 L886.30,2422.63 L887.30,2423.07 L888.30,2423.50 L889.30,2423.92 L890.30,2424.33 L891.30,2424.73 L892.30,2425.13 L893.30,2425.51 L894.30,2425.89 L895.30,2426.26 L896.30,2426.62 L897.30,2426.97 L898.30,2427.32 L899.30,2427.65 L900.30,2427.99 L901.30,2428.31 L902.30,2428.63 L903.30,2428.95 L904.30,2429.25 L905.30,2429.56 L906.30,2429.85 L907.30,2430.15 L908.30,2430.43 L909.30,2430.72 L910.30,2431.00 L911.30,2431.27 L912.30,2431.54 L913.30,2431.81 L914.30,2432.07 L915.30,2432.34 L916.30,2432.59 L917.30,2432.85 L918.30,2433.10 L919.30,2433.35 L920.30,2433.60 L921.30,2433.85 L922.30,2434.09 L923.30,2434.33 L924.30,2434.57 L925.30,2434.81 L926.30,2435.05 L927.30,2435.28 L928.30,2435.52 L929.30,2435.75 L930.30,2435.97 L931.30,2436.20 L932.30,2436.42 L933.30,2436.65 L934.30,2436.87 L935.30,2437.08 L936.30,2437.30 L937.30,2437.51 L938.30,2437.73 L939.30,2437.93 L940.30,2438.14 L941.30,2438.35 L942.30,2438.55 L943.30,2438.75 L944.30,2438.95 L945.30,2439.14 L946.30,2439.34 L947.30,2439.53 L948.30,2439.71 L949.30,2439.90 L950.30,2440.08 L951.30,2440.26 L952.30,2440.44 L953.30,2440.62 L954.30,2440.79 L955.30,2440.96 L956.30,2441.13 L957.30,2441.29 L958.30,2441.45 L959.30,2441.61 L960.30,2441.77 L961.30,2441.92 L962.30,2442.07 L963.30,2442.22 L964.30,2442.36 L965.30,2442.50 L966.30,2442.64 L967.30,2442.77 L968.30,2442.90 L969.30,2443.03 L970.30,2443.16 L971.30,2443.28 L972.30,2443.40 L973.30,2443.51 L974.30,2443.62 L975.30,2443.73 L976.30,2443.83 L977.30,2443.93 L978.30,2444.03 L979.30,2444.12 L980.30,2444.21 L981.30,2444.29 L982.30,2444.38 L983.30,2444.45 L984.30,2444.53 L985.30,2444.60 L986.30,2444.66 L987.30,2444.72 L988.30,2444.78 L989.30,2444.83 L990.30,2444.88 L991.30,2444.93 L992.30,2444.98 L993.30,2445.03 L994.30,2445.08 L995.30,2445.13 L996.30,2445.18 L997.30,2445.22 L998.30,2445.27 L999.30,2445.31 L1000.30,2445.35 L1001.30,2445.40 L1002.30,2445.44 L1003.30,2445.48 L1004.30,2445.52 L1005.30,2445.56 L1006.30,2445.60 L1007.30,2445.63 L1008.30,2445.67 L1009.30,2445.71 L1010.30,2445.74 L1011.30,2445.78 L1012.30,2445.81 L1013.30,2445.85 L1014.30,2445.88 L1015.30,2445.91 L1016.30,2445.94 L1017.30,2445.97 L1018.30,2446.00 L1019.30,2446.03 L1020.30,2446.06 L1021.30,2446.09 L1022.30,2446.12 L1023.30,2446.15 L1024.30,2446.18 L1025.30,2446.20 L1026.30,2446.23 L1027.30,2446.25 L1028.30,2446.28 L1029.30,2446.30 L1030.30,2446.33 L1031.30,2446.35 L1032.30,2446.37 L1033.30,2446.40 L1034.30,2446.42 L1035.30,2446.44 L1036.30,2446.46 L1037.30,2446.49 L1038.30,2446.51 L1039.30,2446.53 L1040.30,2446.55 L1041.30,2446.57 L1042.30,2446.59 L1043.30,2446.61 L1044.30,2446.62 L1045.30,2446.64 L1046.30,2446.66 L1047.30,2446.68 L1048.30,2446.70 L1049.30,2446.71 L1050.30,2446.73 L1051.30,2446.75 L1052.30,2446.76 L1053.30,2446.78 L1054.30,2446.80 L1055.30,2446.81 L1056.30,2446.83 L1057.30,2446.84 L1058.30,2446.86 L1059.30,2446.87 L1060.30,2446.89 L1061.30,2446.90 L1062.30,2446.92 L1063.30,2446.93 L1064.30,2446.95 L1065.30,2446.96 L1066.30,2446.98 L1067.30,2446.99 L1068.30,2447.00 L1069.30,2447.02 L1070.30,2447.03 L1071.30,2447.05 L1072.30,2447.06 L1073.30,2447.07 L1074.30,2447.09 L1075.30,2447.10 L1076.30,2447.11 L1077.30,2447.12 L1078.30,2447.14 L1079.30,2447.15 L1080.30,2447.16 L1081.30,2447.18 L1082.30,2447.19 L1083.30,2447.20 L1084.30,2447.22 L1085.30,2447.23 L1086.30,2447.24 L1087.30,2447.26 L1088.30,2447.27 L1089.30,2447.28 L1090.30,2447.29 L1091.30,2447.31 L1092.30,2447.32 L1093.30,2447.33 L1094.30,2447.34 L1095.30,2447.36 L1096.30,2447.37 L1097.30,2447.38 L1098.30,2447.39 L1099.30,2447.40 L1100.30,2447.42 L1101.30,2447.43 L1102.30,2447.44 L1103.30,2447.45 L1104.30,2447.46 L1105.30,2447.47 L1106.30,2447.48 L1107.30,2447.50 L1108.30,2447.51 L1109.30,2447.52 L1110.30,2447.53 L1111.30,2447.54 L1112.30,2447.55 L1113.30,2447.56 L1114.30,2447.57 L1115.30,2447.58 L1116.30,2447.59 L1117.30,2447.60 L1118.30,2447.61 L1119.30,2447.62 L1120.30,2447.63 L1121.30,2447.64 L1122.30,2447.65 L1123.30,2447.66 L1124.30,2447.67 L1125.30,2447.68 L1126.30,2447.69 L1127.30,2447.70 L1128.30,2447.71 L1129.30,2447.72 L1130.30,2447.73 L1131.30,2447.74 L1132.30,2447.75 L1133.30,2447.76 L1134.30,2447.76 L1135.30,2447.77 L1136.30,2447.78 L1137.30,2447.79 L1138.30,2447.80 L1139.30,2447.81 L1140.30,2447.81 L1141.30,2447.82 L1142.30,2447.83 L1143.30,2447.84 L1144.30,2447.85 L1145.30,2447.85 L1146.30,2447.86 L1147.30,2447.87 L1148.30,2447.88 L1149.30,2447.88 L1150.30,2447.89 L1151.30,2447.90 L1152.30,2447.90 L1153.30,2447.91 L1154.30,2447.92 L1155.30,2447.92 L1156.30,2447.93 L1157.30,2447.94 L1158.30,2447.94 L1159.30,2447.95 L1160.30,2447.95 L1161.30,2447.96 L1162.30,2447.96 L1163.30,2447.97 L1164.30,2447.97 L1165.30,2447.98 L1166.30,2447.98 L1167.30,2447.99 L1168.30,2447.99 L1169.30,2448.00 L1170.30,2448.00 L1171.30,2448.01 L1172.30,2448.01 L1173.30,2448.02 L1174.30,2448.02 L1175.30,2448.02 L1176.30,2448.03 L1177.30,2448.03 L1178.30,2448.03 L1179.30,2448.04 L1180.30,2448.04 L1181.30,2448.04 L1182.30,2448.04 L1183.30,2448.05 L1184.30,2448.05 L1185.30,2448.05 L1186.30,2448.05 L1187.30,2448.06 L1188.30,2448.06 L1189.30,2448.06 L1190.30,2448.06 L1191.30,2448.06 L1192.30,2448.06 L1193.30,2448.06 L1194.30,2448.06 L1195.30,2448.06 L1196.30,2448.07 L1197.30,2448.07 L1198.30,2448.07 L1199.30,2448.07 L1200.30,2448.07 L1201.30,2448.06 L1202.30,2448.06 L1203.30,2448.06 L1204.30,2448.06 L1205.30,2448.06 L1206.30,2448.06 L1207.30,2448.06 L1208.30,2448.06 L1209.30,2448.05 L1210.30,2448.05 L1211.30,2448.05 L1212.30,2448.05 L1213.30,2448.04 L1214.30,2448.04 L1215.30,2448.04 L1216.30,2448.04 L1217.30,2448.03 L1218.30,2448.03 L1219.30,2448.02 L1220.30,2448.02 L1221.30,2448.02 L1222.30,2448.01 L1223.30,2448.01 L1224.30,2448.00 L1225.30,2448.00 L1226.30,2447.99 L1227.30,2447.98 L1228.30,2447.98 L1229.30,2447.97 L1230.30,2447.96 L1231.30,2447.95 L1232.30,2447.94 L1233.30,2447.93 L1234.30,2447.91 L1235.30,2447.90 L1236.30,2447.89 L1237.30,2447.87 L1238.30,2447.86 L1239.30,2447.84 L1240.30,2447.83 L1241.30,2447.81 L1242.30,2447.79 L1243.30,2447.78 L1244.30,2447.76 L1245.30,2447.74 L1246.30,2447.72 L1247.30,2447.70 L1248.30,2447.68 L1249.30,2447.66 L1250.30,2447.63 L1251.30,2447.61 L1252.30,2447.59 L1253.30,2447.56 L1254.30,2447.54 L1255.30,2447.51 L1256.30,2447.48 L1257.30,2447.46 L1258.30,2447.43 L1259.30,2447.40 L1260.30,2447.37 L1261.30,2447.34 L1262.30,2447.31 L1263.30,2447.28 L1264.30,2447.25 L1265.30,2447.22 L1266.30,2447.19 L1267.30,2447.16 L1268.30,2447.12 L1269.30,2447.09 L1270.30,2447.05 L1271.30,2447.02 L1272.30,2446.98 L1273.30,2446.95 L1274.30,2446.91 L1275.30,2446.87 L1276.30,2446.84 L1277.30,2446.80 L1278.30,2446.76 L1279.30,2446.72 L1280.30,2446.68 L1281.30,2446.64 L1282.30,2446.60 L1283.30,2446.56 L1284.30,2446.52 L1285.30,2446.47 L1286.30,2446.43 L1287.30,2446.39 L1288.30,2446.34 L1289.30,2446.30 L1290.30,2446.26 L1291.30,2446.21 L1292.30,2446.17 L1293.30,2446.12 L1294.30,2446.07 L1295.30,2446.03 L1296.30,2445.98 L1297.30,2445.93 L1298.30,2445.88 L1299.30,2445.83 L1300.30,2445.78 L1301.30,2445.74 L1302.30,2445.69 L1303.30,2445.64 L1304.30,2445.58 L1305.30,2445.53 L1306.30,2445.48 L1307.30,2445.43 L1308.30,2445.38 L1309.30,2445.32 L1310.30,2445.27 L1311.30,2445.22 L1312.30,2445.16 L1313.30,2445.11 L1314.30,2445.06 L1315.30,2445.00 L1316.30,2444.95 L1317.30,2444.89 L1318.30,2444.83 L1319.30,2444.78 L1320.30,2444.72 L1321.30,2444.66 L1322.30,2444.59 L1323.30,2444.53 L1324.30,2444.46 L1325.30,2444.38 L1326.30,2444.31 L1327.30,2444.23 L1328.30,2444.15 L1329.30,2444.07 L1330.30,2443.99 L1331.30,2443.90 L1332.30,2443.81 L1333.30,2443.72 L1334.30,2443.63 L1335.30,2443.53 L1336.30,2443.43 L1337.30,2443.33 L1338.30,2443.23 L1339.30,2443.13 L1340.30,2443.02 L1341.30,2442.92 L1342.30,2442.81 L1343.30,2442.70 L1344.30,2442.58 L1345.30,2442.47 L1346.30,2442.35 L1347.30,2442.24 L1348.30,2442.12 L1349.30,2442.00 L1350.30,2441.87 L1351.30,2441.75 L1352.30,2441.62 L1353.30,2441.50 L1354.30,2441.37 L1355.30,2441.24 L1356.30,2441.11 L1357.30,2440.98 L1358.30,2440.85 L1359.30,2440.71 L1360.30,2440.58 L1361.30,2440.44 L1362.30,2440.30 L1363.30,2440.17 L1364.30,2440.03 L1365.30,2439.89 L1366.30,2439.75 L1367.30,2439.61 L1368.30,2439.46 L1369.30,2439.32 L1370.30,2439.18 L1371.30,2439.03 L1372.30,2438.89 L1373.30,2438.74 L1374.30,2438.60 L1375.30,2438.45 L1376.30,2438.31 L1377.30,2438.16 L1378.30,2438.01 L1379.30,2437.86 L1380.30,2437.72 L1381.30,2437.57 L1382.30,2437.42 L1383.30,2437.27 L1384.30,2437.12 L1385.30,2436.98 L1386.30,2436.83 L1387.30,2436.68 L1388.30,2436.53 L1389.30,2436.38 L1390.30,2436.24 L1391.30,2436.09 L1392.30,2435.94 L1393.30,2435.79 L1394.30,2435.65 L1395.30,2435.50 L1396.30,2435.36 L1397.30,2435.21 L1398.30,2435.07 L1399.30,2434.92 L1400.30,2434.78 L1401.30,2434.64 L1402.30,2434.49 L1403.30,2434.35 L1404.30,2434.21 L1405.30,2434.07 L1406.30,2433.93 L1407.30,2433.79 L1408.30,2433.66 L1409.30,2433.52 L1410.30,2433.39 L1411.30,2433.25 L1412.30,2433.12 L1413.30,2432.99 L1414.30,2432.86 L1415.30,2432.73 L1416.30,2432.59 L1417.30,2432.46 L1418.30,2432.34 L1419.30,2432.21 L1420.30,2432.08 L1421.30,2431.95 L1422.30,2431.82 L1423.30,2431.69 L1424.30,2431.56 L1425.30,2431.43 L1426.30,2431.30 L1427.30,2431.17 L1428.30,2431.04 L1429.30,2430.91 L1430.30,2430.77 L1431.30,2430.64 L1432.30,2430.51 L1433.30,2430.38 L1434.30,2430.24 L1435.30,2430.11 L1436.30,2429.97 L1437.30,2429.84 L1438.30,2429.70 L1439.30,2429.56 L1440.30,2429.42 L1441.30,2429.28 L1442.30,2429.14 L1443.30,2428.99 L1444.30,2428.85 L1445.30,2428.70 L1446.30,2428.56 L1447.30,2428.41 L1448.30,2428.26 L1449.30,2428.11 L1450.30,2427.95 L1451.30,2427.80 L1452.30,2427.65 L1453.30,2427.50 L1454.30,2427.35 L1455.30,2427.21 L1456.30,2427.06 L1457.30,2426.92 L1458.30,2426.77 L1459.30,2426.63 L1460.30,2426.49 L1461.30,2426.34 L1462.30,2426.20 L1463.30,2426.06 L1464.30,2425.92 L1465.30,2425.77 L1466.30,2425.63 L1467.30,2425.49 L1468.30,2425.34 L1469.30,2425.20 L1470.30,2425.05 L1471.30,2424.91 L1472.30,2424.76 L1473.30,2424.61 L1474.30,2424.46 L1475.30,2424.31 L1476.30,2424.16 L1477.30,2424.01 L1478.30,2423.85 L1479.30,2423.69 L1480.30,2423.53 L1481.30,2423.37 L1482.30,2423.20 L1483.30,2423.04 L1484.30,2422.87 L1485.30,2422.69 L1486.30,2422.52 L1487.30,2422.34 L1488.30,2422.16 L1489.30,2421.97 L1490.30,2421.78 L1491.30,2421.59 L1492.30,2421.40 L1493.30,2421.20 L1494.30,2420.99 L1495.30,2420.78 L1496.30,2420.57 L1497.30,2420.36 L1498.30,2420.13 L1499.30,2419.91 L1500.30,2419.68 L1501.30,2419.44 L1502.30,2419.20 L1503.30,2418.96 L1504.30,2418.71 L1505.30,2418.45 L1506.30,2418.19 L1507.30,2417.92 L1508.30,2417.65 L1509.30,2417.37 L1510.30,2417.09 L1511.30,2416.79 L1512.30,2416.47 L1513.30,2416.13 L1514.30,2415.76 L1515.30,2415.38 L1516.30,2414.97 L1517.30,2414.54 L1518.30,2414.09 L1519.30,2413.63 L1520.30,2413.14 L1521.30,2412.64 L1522.30,2412.12 L1523.30,2411.58 L1524.30,2411.03 L1525.30,2410.47 L1526.30,2409.89 L1527.30,2409.30 L1528.30,2408.70 L1529.30,2408.08 L1530.30,2407.46 L1531.30,2406.82 L1532.30,2406.18 L1533.30,2405.53 L1534.30,2404.86 L1535.30,2404.20 L1536.30,2403.52 L1537.30,2402.85 L1538.30,2402.16 L1539.30,2401.48 L1540.30,2400.78 L1541.30,2400.09 L1542.30,2399.39 L1543.30,2398.67 L1544.30,2397.94 L1545.30,2397.20 L1546.30,2396.44 L1547.30,2395.67 L1548.30,2394.89 L1549.30,2394.09 L1550.30,2393.27 L1551.30,2392.45 L1552.30,2391.61 L1553.30,2390.75 L1554.30,2389.88 L1555.30,2389.00 L1556.30,2388.09 L1557.30,2387.18 L1558.30,2386.25 L1559.30,2385.30 L1560.30,2384.34 L1561.30,2383.37 L1562.30,2382.37 L1563.30,2381.36 L1564.30,2380.34 L1565.30,2379.30 L1566.30,2378.24 L1567.30,2377.17 L1568.30,2376.08 L1569.30,2374.97 L1570.30,2373.85 L1571.30,2372.71 L1572.30,2371.55 L1573.30,2370.38 L1574.30,2369.18 L1575.30,2367.97 L1576.30,2366.75 L1577.30,2365.50 L1578.30,2364.22 L1579.30,2362.88 L1580.30,2361.49 L1581.30,2360.05 L1582.30,2358.56 L1583.30,2357.03 L1584.30,2355.45 L1585.30,2353.82 L1586.30,2352.16 L1587.30,2350.45 L1588.30,2348.71 L1589.30,2346.93 L1590.30,2345.12 L1591.30,2343.27 L1592.30,2341.39 L1593.30,2339.49 L1594.30,2337.55 L1595.30,2335.59 L1596.30,2333.60 L1597.30,2331.55 L1598.30,2329.44 L1599.30,2327.27 L1600.30,2325.05 L1601.30,2322.77 L1602.30,2320.43 L1603.30,2318.05 L1604.30,2315.61 L1605.30,2313.11 L1606.30,2310.57 L1607.30,2307.98 L1608.30,2305.34 L1609.30,2302.65 L1610.30,2299.91 L1611.30,2297.12 L1612.30,2294.29 L1613.30,2291.39 L1614.30,2288.42 L1615.30,2285.37 L1616.30,2282.24 L1617.30,2279.02 L1618.30,2275.70 L1619.30,2272.27 L1620.30,2268.72 L1621.30,2265.05 L1622.30,2261.25 L1623.30,2257.30 L1624.30,2253.09 L1625.30,2248.65 L1626.30,2244.00 L1627.30,2239.17 L1628.30,2234.18 L1629.30,2229.06 L1630.30,2223.83 L1631.30,2218.53 L1632.30,2213.18 L1633.30,2207.81 L1634.30,2202.44 L1635.30,2197.11 L1636.30,2191.99 L1637.30,2187.04 L1638.30,2182.15 L1639.30,2177.20 L1640.30,2172.10 L1641.30,2166.73 L1642.30,2160.99 L1643.30,2154.76 L1644.30,2147.94 L1645.30,2140.41 L1646.30,2131.40 L1647.30,2119.49 L1648.30,2105.74 L1649.30,2091.34 L1650.30,2077.49 L1651.30,2065.40 L1652.30,2055.72 L1653.30,2047.27 L1654.30,2039.61 L1655.30,2032.39 L1656.30,2025.24 L1657.30,2017.81 L1658.30,2009.73 L1659.30,2000.63 L1660.30,1990.11 L1661.30,1978.34 L1662.30,1965.76 L1663.30,1952.79 L1664.30,1939.86 L1665.30,1927.42 L1666.30,1915.89 L1667.30,1905.71 L1668.30,1896.95 L1669.30,1888.97 L1670.30,1881.10 L1671.30,1872.65 L1672.30,1862.92 L1673.30,1851.21 L1674.30,1836.54 L1675.30,1819.26 L1676.30,1800.07 L1677.30,1779.65 L1678.30,1758.70 L1679.30,1736.60 L1680.30,1712.62 L1681.30,1687.30 L1682.30,1661.17 L1683.30,1634.77 L1684.30,1608.52 L1685.30,1580.25 L1686.30,1550.88 L1687.30,1523.15 L1688.30,1499.79 L1689.30,1481.33 L1690.30,1465.20 L1691.30,1450.68 L1692.30,1437.02 L1693.30,1423.52 L1694.30,1409.44 L1695.30,1394.00 L1696.30,1377.77 L1697.30,1361.90 L1698.30,1347.51 L1699.30,1335.76 L1700.30,1327.56 L1701.30,1320.57 L1702.30,1313.94 L1703.30,1307.89 L1704.30,1302.64 L1705.30,1298.38 L1706.30,1295.33 L1707.30,1293.71 L1708.30,1293.65 L1709.30,1294.78 L1710.30,1296.87 L1711.30,1299.76 L1712.30,1303.26 L1713.30,1307.21 L1714.30,1311.44 L1715.30,1316.71 L1716.30,1324.52 L1717.30,1334.24 L1718.30,1345.17 L1719.30,1356.60 L1720.30,1367.83 L1721.30,1378.17 L1722.30,1387.23 L1723.30,1395.90 L1724.30,1404.36 L1725.30,1412.65 L1726.30,1420.83 L1727.30,1428.95 L1728.30,1437.06 L1729.30,1445.22 L1730.30,1453.47 L1731.30,1461.91 L1732.30,1470.57 L1733.30,1479.33 L1734.30,1488.10 L1735.30,1496.76 L1736.30,1505.21 L1737.30,1513.33 L1738.30,1521.03 L1739.30,1528.19 L1740.30,1534.98 L1741.30,1541.51 L1742.30,1547.81 L1743.30,1553.88 L1744.30,1559.76 L1745.30,1565.45 L1746.30,1570.98 L1747.30,1576.36 L1748.30,1581.66 L1749.30,1587.10 L1750.30,1592.61 L1751.30,1598.03 L1752.30,1603.24 L1753.30,1608.09 L1754.30,1612.45 L1755.30,1616.17 L1756.30,1619.12 L1757.30,1621.43 L1758.30,1623.61 L1759.30,1625.66 L1760.30,1627.58 L1761.30,1629.36 L1762.30,1630.99 L1763.30,1632.46 L1764.30,1633.76 L1765.30,1634.88 L1766.30,1635.82 L1767.30,1636.56 L1768.30,1637.09 L1769.30,1637.55 L1770.30,1637.98 L1771.30,1638.39 L1772.30,1638.75 L1773.30,1639.08 L1774.30,1639.36 L1775.30,1639.59 L1776.30,1639.76 L1777.30,1639.86 L1778.30,1639.90 L1779.30,1639.69 L1780.30,1639.10 L1781.30,1638.16 L1782.30,1636.93 L1783.30,1635.43 L1784.30,1633.73 L1785.30,1631.86 L1786.30,1629.87 L1787.30,1627.80 L1788.30,1625.69 L1789.30,1623.59 L1790.30,1621.55 L1791.30,1619.60 L1792.30,1617.68 L1793.30,1615.70 L1794.30,1613.64 L1795.30,1611.52 L1796.30,1609.33 L1797.30,1607.06 L1798.30,1604.73 L1799.30,1602.32 L1800.30,1599.83 L1801.30,1597.28 L1802.30,1594.64 L1803.30,1591.93 L1804.30,1589.14 L1805.30,1586.27 L1806.30,1583.30 L1807.30,1580.17 L1808.30,1576.88 L1809.30,1573.43 L1810.30,1569.84 L1811.30,1566.13 L1812.30,1562.29 L1813.30,1558.34 L1814.30,1554.30 L1815.30,1550.18 L1816.30,1545.98 L1817.30,1541.73 L1818.30,1537.35 L1819.30,1532.75 L1820.30,1527.96 L1821.30,1523.02 L1822.30,1517.96 L1823.30,1512.81 L1824.30,1507.60 L1825.30,1502.37 L1826.30,1497.14 L1827.30,1491.95 L1828.30,1486.83 L1829.30,1481.81 L1830.30,1476.88 L1831.30,1472.02 L1832.30,1467.20 L1833.30,1462.39 L1834.30,1457.57 L1835.30,1452.72 L1836.30,1447.81 L1837.30,1442.81 L1838.30,1437.70 L1839.30,1432.46 L1840.30,1427.06 L1841.30,1421.43 L1842.30,1415.50 L1843.30,1409.31 L1844.30,1402.94 L1845.30,1396.43 L1846.30,1389.85 L1847.30,1383.26 L1848.30,1376.73 L1849.30,1370.31 L1850.30,1364.06 L1851.30,1358.06 L1852.30,1352.34 L1853.30,1346.77 L1854.30,1341.23 L1855.30,1335.72 L1856.30,1330.27 L1857.30,1324.88 L1858.30,1319.58 L1859.30,1314.38 L1860.30,1309.29 L1861.30,1304.34 L1862.30,1299.52 L1863.30,1294.86 L1864.30,1290.37 L1865.30,1286.07 L1866.30,1281.98 L1867.30,1278.07 L1868.30,1274.27 L1869.30,1270.57 L1870.30,1266.98 L1871.30,1263.49 L1872.30,1260.13 L1873.30,1256.89 L1874.30,1253.78 L1875.30,1250.81 L1876.30,1247.99 L1877.30,1245.31 L1878.30,1242.80 L1879.30,1240.41 L1880.30,1238.10 L1881.30,1235.89 L1882.30,1233.78 L1883.30,1231.78 L1884.30,1229.89 L1885.30,1228.13 L1886.30,1226.50 L1887.30,1225.00" fill="none" stroke="#ff0000" stroke-width="4.6" stroke-linejoin="round"/>
<text x="397.6" y="2528" font-size="64" text-anchor="middle">0.8</text>
<text x="894.2" y="2528" font-size="64" text-anchor="middle">0.9</text>
<text x="1390.7" y="2528" font-size="64" text-anchor="middle">1</text>
<text x="1887.3" y="2528" font-size="64" text-anchor="middle">1.1</text>
<text x="285" y="2484.4" font-size="64" text-anchor="end">0</text>
<text x="285" y="2224.6" font-size="64" text-anchor="end">0.2</text>
<text x="285" y="1964.8" font-size="64" text-anchor="end">0.4</text>
<text x="285" y="1705.1" font-size="64" text-anchor="end">0.6</text>
<text x="285" y="1445.3" font-size="64" text-anchor="end">0.8</text>
<text x="285" y="1185.5" font-size="64" text-anchor="end">1</text>
<rect x="404.6" y="1180.3" width="330.3" height="423.5" fill="#fff" stroke="#a6a6a6" stroke-width="2.4"/>
<line x1="425.5" y1="1220.9" x2="530" y2="1220.9" stroke="#0000ff" stroke-width="5" stroke-dasharray="16.5 5.3"/>
<text x="545" y="1242.9" font-size="58">20 μm</text>
<line x1="425.5" y1="1289.2" x2="534" y2="1289.2" stroke="#00ffff" stroke-width="5"/>
<text x="545" y="1311.2" font-size="58">40 μm</text>
<line x1="425.5" y1="1357.5" x2="530" y2="1357.5" stroke="#00ff00" stroke-width="5" stroke-dasharray="16.5 5.3"/>
<text x="545" y="1379.5" font-size="58">60 μm</text>
<line x1="425.5" y1="1425.8" x2="534" y2="1425.8" stroke="#ffff00" stroke-width="5"/>
<text x="545" y="1447.8" font-size="58">80 μm</text>
<line x1="425.5" y1="1494.1" x2="530" y2="1494.1" stroke="#da8214" stroke-width="5" stroke-dasharray="16.5 5.3"/>
<text x="545" y="1516.1" font-size="58">100 μm</text>
<line x1="425.5" y1="1562.4" x2="534" y2="1562.4" stroke="#ff0000" stroke-width="5"/>
<text x="545" y="1584.4" font-size="58">120 μm</text>
<text x="958" y="2603" font-size="72" font-style="italic">f</text><text x="1026" y="2603" font-size="72" textLength="182" lengthAdjust="spacingAndGlyphs">(THz)</text>
<text transform="translate(186,1856) rotate(-90)" font-size="70" font-style="italic" textLength="47" lengthAdjust="spacingAndGlyphs">T</text>
<text x="366" y="2410" font-size="83">(b)</text>
<rect x="300.3" y="2640.0" width="1591.7" height="589.6999999999998" fill="none" stroke="#a6a6a6" stroke-width="2.4"/>
<line x1="314.6" y1="3229.7" x2="314.6" y2="3215.7" stroke="#a6a6a6" stroke-width="2.4"/>
<line x1="314.6" y1="2640.0" x2="314.6" y2="2654.0" stroke="#a6a6a6" stroke-width="2.4"/>
<text x="314.6" y="3295" font-size="64" text-anchor="middle">20</text>
<line x1="626.9" y1="3229.7" x2="626.9" y2="3215.7" stroke="#a6a6a6" stroke-width="2.4"/>
<line x1="626.9" y1="2640.0" x2="626.9" y2="2654.0" stroke="#a6a6a6" stroke-width="2.4"/>
<text x="626.9" y="3295" font-size="64" text-anchor="middle">40</text>
<line x1="939.2" y1="3229.7" x2="939.2" y2="3215.7" stroke="#a6a6a6" stroke-width="2.4"/>
<line x1="939.2" y1="2640.0" x2="939.2" y2="2654.0" stroke="#a6a6a6" stroke-width="2.4"/>
<text x="939.2" y="3295" font-size="64" text-anchor="middle">60</text>
<line x1="1251.5" y1="3229.7" x2="1251.5" y2="3215.7" stroke="#a6a6a6" stroke-width="2.4"/>
<line x1="1251.5" y1="2640.0" x2="1251.5" y2="2654.0" stroke="#a6a6a6" stroke-width="2.4"/>
<text x="1251.5" y="3295" font-size="64" text-anchor="middle">80</text>
<line x1="1563.8" y1="3229.7" x2="1563.8" y2="3215.7" stroke="#a6a6a6" stroke-width="2.4"/>
<line x1="1563.8" y1="2640.0" x2="1563.8" y2="2654.0" stroke="#a6a6a6" stroke-width="2.4"/>
<text x="1563.8" y="3295" font-size="64" text-anchor="middle">100</text>
<line x1="1876.1" y1="3229.7" x2="1876.1" y2="3215.7" stroke="#a6a6a6" stroke-width="2.4"/>
<line x1="1876.1" y1="2640.0" x2="1876.1" y2="2654.0" stroke="#a6a6a6" stroke-width="2.4"/>
<text x="1876.1" y="3295" font-size="64" text-anchor="middle">120</text>
<line x1="300.3" y1="2760.2" x2="314.3" y2="2760.2" stroke="#a6a6a6" stroke-width="2.4"/>
<line x1="1892.0" y1="2760.2" x2="1878.0" y2="2760.2" stroke="#a6a6a6" stroke-width="2.4"/>
<text x="288" y="2782.2" font-size="64" text-anchor="end">-50</text>
<line x1="300.3" y1="2961.8" x2="314.3" y2="2961.8" stroke="#a6a6a6" stroke-width="2.4"/>
<line x1="1892.0" y1="2961.8" x2="1878.0" y2="2961.8" stroke="#a6a6a6" stroke-width="2.4"/>
<text x="288" y="2983.8" font-size="64" text-anchor="end">-100</text>
<line x1="300.3" y1="3163.5" x2="314.3" y2="3163.5" stroke="#a6a6a6" stroke-width="2.4"/>
<line x1="1892.0" y1="3163.5" x2="1878.0" y2="3163.5" stroke="#a6a6a6" stroke-width="2.4"/>
<text x="288" y="3185.5" font-size="64" text-anchor="end">-150</text>
<path d="M299.3,2662.8 L301.3,2663.8 L303.3,2664.8 L305.3,2665.8 L307.3,2666.6 L309.3,2667.3 L311.2,2667.9 L313.2,2668.4 L315.2,2668.8 L317.2,2669.1 L319.2,2669.3 L321.2,2669.6 L323.2,2669.9 L325.2,2670.2 L327.2,2670.6 L329.2,2671.2 L331.2,2671.8 L333.1,2672.6 L335.1,2673.4 L337.1,2674.4 L339.1,2675.4 L341.1,2676.5 L343.1,2677.5 L345.1,2678.5 L347.1,2679.3 L349.1,2680.1 L351.1,2680.8 L353.1,2681.4 L355.0,2681.8 L357.0,2682.1 L359.0,2682.4 L361.0,2682.7 L363.0,2682.9 L365.0,2683.2 L367.0,2683.6 L369.0,2684.1 L371.0,2684.6 L373.0,2685.3 L375.0,2686.2 L376.9,2687.1 L378.9,2688.0 L380.9,2689.1 L382.9,2690.1 L384.9,2691.1 L386.9,2692.1 L388.9,2692.9 L390.9,2693.7 L392.9,2694.3 L394.9,2694.8 L396.9,2695.2 L398.8,2695.5 L400.8,2695.8 L402.8,2696.0 L404.8,2696.3 L406.8,2696.6 L408.8,2697.0 L410.8,2697.5 L412.8,2698.1 L414.8,2698.9 L416.8,2699.7 L418.8,2700.7 L420.7,2701.7 L422.7,2702.7 L424.7,2703.8 L426.7,2704.8 L428.7,2705.7 L430.7,2706.5 L432.7,2707.2 L434.7,2707.7 L436.7,2708.2 L438.7,2708.6 L440.7,2708.9 L442.6,2709.1 L444.6,2709.4 L446.6,2709.6 L448.6,2710.0 L450.6,2710.4 L452.6,2711.0 L454.6,2711.7 L456.6,2712.5 L458.6,2713.4 L460.6,2714.3 L462.6,2715.4 L464.5,2716.4 L466.5,2717.4 L468.5,2718.4 L470.5,2719.2 L472.5,2720.0 L474.5,2720.6 L476.5,2721.2 L478.5,2721.6 L480.5,2721.9 L482.5,2722.2 L484.5,2722.4 L486.4,2722.7 L488.4,2723.0 L490.4,2723.4 L492.4,2723.9 L494.4,2724.5 L496.4,2725.2 L498.4,2726.1 L500.4,2727.0 L502.4,2728.0 L504.4,2729.0 L506.4,2730.0 L508.3,2731.0 L510.3,2732.0 L512.3,2732.8 L514.3,2733.5 L516.3,2734.1 L518.3,2734.6 L520.3,2735.0 L522.3,2735.3 L524.3,2735.5 L526.3,2735.8 L528.3,2736.1 L530.2,2736.4 L532.2,2736.8 L534.2,2737.4 L536.2,2738.0 L538.2,2738.8 L540.2,2739.7 L542.2,2740.6 L544.2,2741.6 L546.2,2742.7 L548.2,2743.7 L550.2,2744.7 L552.1,2745.6 L554.1,2746.3 L556.1,2747.0 L558.1,2747.6 L560.1,2748.0 L562.1,2748.3 L564.1,2748.6 L566.1,2748.9 L568.1,2749.1 L570.1,2749.4 L572.0,2749.8 L574.0,2750.3 L576.0,2750.8 L578.0,2751.5 L580.0,2752.4 L582.0,2753.3 L584.0,2754.3 L586.0,2755.3 L588.0,2756.3 L590.0,2757.3 L592.0,2758.3 L593.9,2759.1 L595.9,2759.9 L597.9,2760.5 L599.9,2761.0 L601.9,2761.4 L603.9,2761.7 L605.9,2762.0 L607.9,2762.2 L609.9,2762.5 L611.9,2762.8 L613.9,2763.2 L615.8,2763.7 L617.8,2764.3 L619.8,2765.1 L621.8,2766.0 L623.8,2766.9 L625.8,2767.9 L627.8,2769.0 L629.8,2770.0 L631.8,2771.0 L633.8,2771.9 L635.8,2772.7 L637.7,2773.4 L639.7,2773.9 L641.7,2774.4 L643.7,2774.8 L645.7,2775.0 L647.7,2775.3 L649.7,2775.6 L651.7,2775.8 L653.7,2776.2 L655.7,2776.6 L657.7,2777.2 L659.6,2777.9 L661.6,2778.7 L663.6,2779.6 L665.6,2780.5 L667.6,2781.6 L669.6,2782.6 L671.6,2783.6 L673.6,2784.6 L675.6,2785.4 L677.6,2786.2 L679.6,2786.8 L681.5,2787.4 L683.5,2787.8 L685.5,2788.1 L687.5,2788.4 L689.5,2788.6 L691.5,2788.9 L693.5,2789.2 L695.5,2789.6 L697.5,2790.1 L699.5,2790.7 L701.5,2791.4 L703.4,2792.3 L705.4,2793.2 L707.4,2794.2 L709.4,2795.2 L711.4,2796.3 L713.4,2797.3 L715.4,2798.2 L717.4,2799.0 L719.4,2799.7 L721.4,2800.3 L723.4,2800.8 L725.3,2801.2 L727.3,2801.5 L729.3,2801.7 L731.3,2802.0 L733.3,2802.3 L735.3,2802.6 L737.3,2803.0 L739.3,2803.6 L741.3,2804.2 L743.3,2805.0 L745.3,2805.9 L747.2,2806.8 L749.2,2807.9 L751.2,2808.9 L753.2,2809.9 L755.2,2810.9 L757.2,2811.8 L759.2,2812.5 L761.2,2813.2 L763.2,2813.8 L765.2,2814.2 L767.2,2814.5 L769.1,2814.8 L771.1,2815.1 L773.1,2815.3 L775.1,2815.6 L777.1,2816.0 L779.1,2816.5 L781.1,2817.0 L783.1,2817.8 L785.1,2818.6 L787.1,2819.5 L789.1,2820.5 L791.0,2821.5 L793.0,2822.5 L795.0,2823.5 L797.0,2824.5 L799.0,2825.3 L801.0,2826.1 L803.0,2826.7 L805.0,2827.2 L807.0,2827.6 L809.0,2827.9 L811.0,2828.2 L812.9,2828.4 L814.9,2828.7 L816.9,2829.0 L818.9,2829.4 L820.9,2829.9 L822.9,2830.6 L824.9,2831.3 L826.9,2832.2 L828.9,2833.1 L830.9,2834.1 L832.9,2835.2 L834.8,2836.2 L836.8,2837.2 L838.8,2838.1 L840.8,2838.9 L842.8,2839.6 L844.8,2840.1 L846.8,2840.6 L848.8,2840.9 L850.8,2841.2 L852.8,2841.5 L854.8,2841.7 L856.7,2842.0 L858.7,2842.4 L860.7,2842.8 L862.7,2843.4 L864.7,2844.1 L866.7,2844.9 L868.7,2845.8 L870.7,2846.8 L872.7,2847.8 L874.7,2848.8 L876.7,2849.8 L878.6,2850.8 L880.6,2851.7 L882.6,2852.4 L884.6,2853.1 L886.6,2853.6 L888.6,2854.0 L890.6,2854.3 L892.6,2854.6 L894.6,2854.8 L896.6,2855.1 L898.6,2855.4 L900.5,2855.8 L902.5,2856.3 L904.5,2856.9 L906.5,2857.6 L908.5,2858.5 L910.5,2859.4 L912.5,2860.4 L914.5,2861.4 L916.5,2862.5 L918.5,2863.5 L920.5,2864.4 L922.4,2865.2 L924.4,2865.9 L926.4,2866.5 L928.4,2867.0 L930.4,2867.4 L932.4,2867.7 L934.4,2867.9 L936.4,2868.2 L938.4,2868.4 L940.4,2868.8 L942.4,2869.2 L944.3,2869.8 L946.3,2870.4 L948.3,2871.2 L950.3,2872.1 L952.3,2873.0 L954.3,2874.1 L956.3,2875.1 L958.3,2876.1 L960.3,2877.1 L962.3,2878.0 L964.3,2878.8 L966.2,2879.4 L968.2,2880.0 L970.2,2880.4 L972.2,2880.7 L974.2,2881.0 L976.2,2881.3 L978.2,2881.5 L980.2,2881.8 L982.2,2882.2 L984.2,2882.7 L986.2,2883.2 L988.1,2884.0 L990.1,2884.8 L992.1,2885.7 L994.1,2886.7 L996.1,2887.7 L998.1,2888.8 L1000.1,2889.8 L1002.1,2890.7 L1004.1,2891.5 L1006.1,2892.3 L1008.1,2892.9 L1010.0,2893.4 L1012.0,2893.8 L1014.0,2894.1 L1016.0,2894.3 L1018.0,2894.6 L1020.0,2894.9 L1022.0,2895.2 L1024.0,2895.6 L1026.0,2896.1 L1028.0,2896.8 L1030.0,2897.5 L1031.9,2898.4 L1033.9,2899.3 L1035.9,2900.3 L1037.9,2901.4 L1039.9,2902.4 L1041.9,2903.4 L1043.9,2904.3 L1045.9,2905.1 L1047.9,2905.8 L1049.9,2906.3 L1051.9,2906.8 L1053.8,2907.1 L1055.8,2907.4 L1057.8,2907.7 L1059.8,2907.9 L1061.8,2908.2 L1063.8,2908.6 L1065.8,2909.0 L1067.8,2909.6 L1069.8,2910.3 L1071.8,2911.1 L1073.8,2912.0 L1075.7,2913.0 L1077.7,2914.0 L1079.7,2915.0 L1081.7,2916.1 L1083.7,2917.0 L1085.7,2917.9 L1087.7,2918.6 L1089.7,2919.3 L1091.7,2919.8 L1093.7,2920.2 L1095.7,2920.5 L1097.6,2920.8 L1099.6,2921.0 L1101.6,2921.3 L1103.6,2921.6 L1105.6,2922.0 L1107.6,2922.5 L1109.6,2923.1 L1111.6,2923.8 L1113.6,2924.7 L1115.6,2925.6 L1117.5,2926.6 L1119.5,2927.7 L1121.5,2928.7 L1123.5,2929.7 L1125.5,2930.6 L1127.5,2931.4 L1129.5,2932.1 L1131.5,2932.7 L1133.5,2933.2 L1135.5,2933.6 L1137.5,2933.9 L1139.4,2934.1 L1141.4,2934.4 L1143.4,2934.6 L1145.4,2935.0 L1147.4,2935.4 L1149.4,2936.0 L1151.4,2936.6 L1153.4,2937.4 L1155.4,2938.3 L1157.4,2939.3 L1159.4,2940.3 L1161.3,2941.3 L1163.3,2942.3 L1165.3,2943.3 L1167.3,2944.2 L1169.3,2945.0 L1171.3,2945.6 L1173.3,2946.2 L1175.3,2946.6 L1177.3,2946.9 L1179.3,2947.2 L1181.3,2947.4 L1183.2,2947.7 L1185.2,2948.0 L1187.2,2948.4 L1189.2,2948.9 L1191.2,2949.5 L1193.2,2950.2 L1195.2,2951.0 L1197.2,2951.9 L1199.2,2952.9 L1201.2,2953.9 L1203.2,2955.0 L1205.1,2956.0 L1207.1,2956.9 L1209.1,2957.7 L1211.1,2958.5 L1213.1,2959.1 L1215.1,2959.6 L1217.1,2960.0 L1219.1,2960.3 L1221.1,2960.5 L1223.1,2960.8 L1225.1,2961.1 L1227.0,2961.4 L1229.0,2961.8 L1231.0,2962.3 L1233.0,2963.0 L1235.0,2963.7 L1237.0,2964.6 L1239.0,2965.5 L1241.0,2966.6 L1243.0,2967.6 L1245.0,2968.6 L1247.0,2969.6 L1248.9,2970.5 L1250.9,2971.3 L1252.9,2972.0 L1254.9,2972.5 L1256.9,2973.0 L1258.9,2973.3 L1260.9,2973.6 L1262.9,2973.9 L1264.9,2974.1 L1266.9,2974.4 L1268.9,2974.8 L1270.8,2975.2 L1272.8,2975.8 L1274.8,2976.5 L1276.8,2977.3 L1278.8,2978.2 L1280.8,2979.2 L1282.8,2980.2 L1284.8,2981.3 L1286.8,2982.3 L1288.8,2983.2 L1290.8,2984.1 L1292.7,2984.8 L1294.7,2985.5 L1296.7,2986.0 L1298.7,2986.4 L1300.7,2986.7 L1302.7,2987.0 L1304.7,2987.2 L1306.7,2987.5 L1308.7,2987.8 L1310.7,2988.2 L1312.7,2988.7 L1314.6,2989.3 L1316.6,2990.0 L1318.6,2990.9 L1320.6,2991.8 L1322.6,2992.8 L1324.6,2993.9 L1326.6,2994.9 L1328.6,2995.9 L1330.6,2996.8 L1332.6,2997.6 L1334.6,2998.3 L1336.5,2998.9 L1338.5,2999.4 L1340.5,2999.7 L1342.5,3000.0 L1344.5,3000.3 L1346.5,3000.6 L1348.5,3000.8 L1350.5,3001.2 L1352.5,3001.6 L1354.5,3002.2 L1356.5,3002.8 L1358.4,3003.6 L1360.4,3004.5 L1362.4,3005.5 L1364.4,3006.5 L1366.4,3007.5 L1368.4,3008.6 L1370.4,3009.5 L1372.4,3010.4 L1374.4,3011.2 L1376.4,3011.8 L1378.4,3012.4 L1380.3,3012.8 L1382.3,3013.1 L1384.3,3013.4 L1386.3,3013.6 L1388.3,3013.9 L1390.3,3014.2 L1392.3,3014.6 L1394.3,3015.1 L1396.3,3015.7 L1398.3,3016.4 L1400.3,3017.2 L1402.2,3018.1 L1404.2,3019.1 L1406.2,3020.2 L1408.2,3021.2 L1410.2,3022.2 L1412.2,3023.1 L1414.2,3024.0 L1416.2,3024.7 L1418.2,3025.3 L1420.2,3025.8 L1422.2,3026.2 L1424.1,3026.5 L1426.1,3026.7 L1428.1,3027.0 L1430.1,3027.2 L1432.1,3027.6 L1434.1,3028.0 L1436.1,3028.5 L1438.1,3029.2 L1440.1,3029.9 L1442.1,3030.8 L1444.1,3031.8 L1446.0,3032.8 L1448.0,3033.8 L1450.0,3034.8 L1452.0,3035.8 L1454.0,3036.7 L1456.0,3037.5 L1458.0,3038.2 L1460.0,3038.7 L1462.0,3039.2 L1464.0,3039.5 L1466.0,3039.8 L1467.9,3040.1 L1469.9,3040.3 L1471.9,3040.6 L1473.9,3041.0 L1475.9,3041.4 L1477.9,3042.0 L1479.9,3042.7 L1481.9,3043.5 L1483.9,3044.4 L1485.9,3045.4 L1487.9,3046.4 L1489.8,3047.5 L1491.8,3048.5 L1493.8,3049.4 L1495.8,3050.3 L1497.8,3051.0 L1499.8,3051.7 L1501.8,3052.2 L1503.8,3052.6 L1505.8,3052.9 L1507.8,3053.2 L1509.8,3053.4 L1511.7,3053.7 L1513.7,3054.0 L1515.7,3054.4 L1517.7,3054.9 L1519.7,3055.5 L1521.7,3056.3 L1523.7,3057.1 L1525.7,3058.0 L1527.7,3059.1 L1529.7,3060.1 L1531.7,3061.1 L1533.6,3062.1 L1535.6,3063.0 L1537.6,3063.8 L1539.6,3064.5 L1541.6,3065.1 L1543.6,3065.6 L1545.6,3065.9 L1547.6,3066.2 L1549.6,3066.5 L1551.6,3066.7 L1553.6,3067.0 L1555.5,3067.4 L1557.5,3067.8 L1559.5,3068.4 L1561.5,3069.0 L1563.5,3069.8 L1565.5,3070.7 L1567.5,3071.7 L1569.5,3072.7 L1571.5,3073.7 L1573.5,3074.8 L1575.5,3075.7 L1577.4,3076.6 L1579.4,3077.4 L1581.4,3078.0 L1583.4,3078.6 L1585.4,3079.0 L1587.4,3079.3 L1589.4,3079.6 L1591.4,3079.8 L1593.4,3080.1 L1595.4,3080.4 L1597.4,3080.8 L1599.3,3081.3 L1601.3,3081.9 L1603.3,3082.6 L1605.3,3083.4 L1607.3,3084.3 L1609.3,3085.3 L1611.3,3086.4 L1613.3,3087.4 L1615.3,3088.4 L1617.3,3089.3 L1619.3,3090.2 L1621.2,3090.9 L1623.2,3091.5 L1625.2,3092.0 L1627.2,3092.4 L1629.2,3092.7 L1631.2,3092.9 L1633.2,3093.2 L1635.2,3093.4 L1637.2,3093.8 L1639.2,3094.2 L1641.1,3094.7 L1643.1,3095.4 L1645.1,3096.1 L1647.1,3097.0 L1649.1,3098.0 L1651.1,3099.0 L1653.1,3100.0 L1655.1,3101.1 L1657.1,3102.0 L1659.1,3102.9 L1661.1,3103.7 L1663.0,3104.4 L1665.0,3104.9 L1667.0,3105.4 L1669.0,3105.7 L1671.0,3106.0 L1673.0,3106.3 L1675.0,3106.5 L1677.0,3106.8 L1679.0,3107.2 L1681.0,3107.6 L1683.0,3108.2 L1684.9,3108.9 L1686.9,3109.7 L1688.9,3110.6 L1690.9,3111.6 L1692.9,3112.6 L1694.9,3113.7 L1696.9,3114.7 L1698.9,3115.6 L1700.9,3116.5 L1702.9,3117.2 L1704.9,3117.9 L1706.8,3118.4 L1708.8,3118.8 L1710.8,3119.1 L1712.8,3119.3 L1714.8,3119.6 L1716.8,3119.9 L1718.8,3120.2 L1720.8,3120.6 L1722.8,3121.1 L1724.8,3121.7 L1726.8,3122.5 L1728.7,3123.3 L1730.7,3124.3 L1732.7,3125.3 L1734.7,3126.3 L1736.7,3127.3 L1738.7,3128.3 L1740.7,3129.2 L1742.7,3130.0 L1744.7,3130.7 L1746.7,3131.3 L1748.7,3131.8 L1750.6,3132.1 L1752.6,3132.4 L1754.6,3132.7 L1756.6,3132.9 L1758.6,3133.2 L1760.6,3133.6 L1762.6,3134.0 L1764.6,3134.6 L1766.6,3135.2 L1768.6,3136.0 L1770.6,3136.9 L1772.5,3137.9 L1774.5,3138.9 L1776.5,3140.0 L1778.5,3141.0 L1780.5,3141.9 L1782.5,3142.8 L1784.5,3143.6 L1786.5,3144.2 L1788.5,3144.7 L1790.5,3145.2 L1792.5,3145.5 L1794.4,3145.8 L1796.4,3146.0 L1798.4,3146.3 L1800.4,3146.6 L1802.4,3147.0 L1804.4,3147.5 L1806.4,3148.1 L1808.4,3148.8 L1810.4,3149.6 L1812.4,3150.6 L1814.4,3151.6 L1816.3,3152.6 L1818.3,3153.6 L1820.3,3154.6 L1822.3,3155.5 L1824.3,3156.4 L1826.3,3157.1 L1828.3,3157.7 L1830.3,3158.2 L1832.3,3158.5 L1834.3,3158.9 L1836.3,3159.1 L1838.2,3159.4 L1840.2,3159.6 L1842.2,3160.0 L1844.2,3160.4 L1846.2,3160.9 L1848.2,3161.6 L1850.2,3162.4 L1852.2,3163.2 L1854.2,3164.2 L1856.2,3165.2 L1858.2,3166.2 L1860.1,3167.3 L1862.1,3168.2 L1864.1,3169.1 L1866.1,3169.9 L1868.1,3170.6 L1870.1,3171.1 L1872.1,3171.6 L1874.1,3171.9 L1876.1,3172.2 L1878.1,3172.4 L1880.1,3172.7 L1882.0,3173.0 L1884.0,3173.4 L1886.0,3173.8 L1888.0,3174.4 L1890.0,3175.1 L1892.0,3175.9" fill="none" stroke="#ff0000" stroke-width="5.4" stroke-linecap="round" stroke-dasharray="8.5 11.7"/>
<circle cx="314" cy="2656.7" r="15.2" fill="none" stroke="#0000ff" stroke-width="4.5"/>
<circle cx="628.2" cy="2766.3" r="15.2" fill="none" stroke="#0000ff" stroke-width="4.5"/>
<circle cx="938.1" cy="2879" r="15.2" fill="none" stroke="#0000ff" stroke-width="4.5"/>
<circle cx="1249.7" cy="2983.6" r="15.2" fill="none" stroke="#0000ff" stroke-width="4.5"/>
<circle cx="1561.1" cy="3078" r="15.2" fill="none" stroke="#0000ff" stroke-width="4.5"/>
<circle cx="1875" cy="3157.7" r="15.2" fill="none" stroke="#0000ff" stroke-width="4.5"/>
<text x="991" y="3367" font-size="70"><tspan font-style="italic">L</tspan> (μm)</text>
<g transform="translate(134,0) rotate(-90)"><text x="-3100" y="0" font-size="72" textLength="48" lengthAdjust="spacingAndGlyphs">Δ</text><text x="-3041" y="0" font-size="72" font-style="italic">f</text><text x="-2971" y="0" font-size="72" textLength="179" lengthAdjust="spacingAndGlyphs">(GHz)</text></g>
<text x="346" y="3172" font-size="83">(c)</text>
</svg></body></html>
